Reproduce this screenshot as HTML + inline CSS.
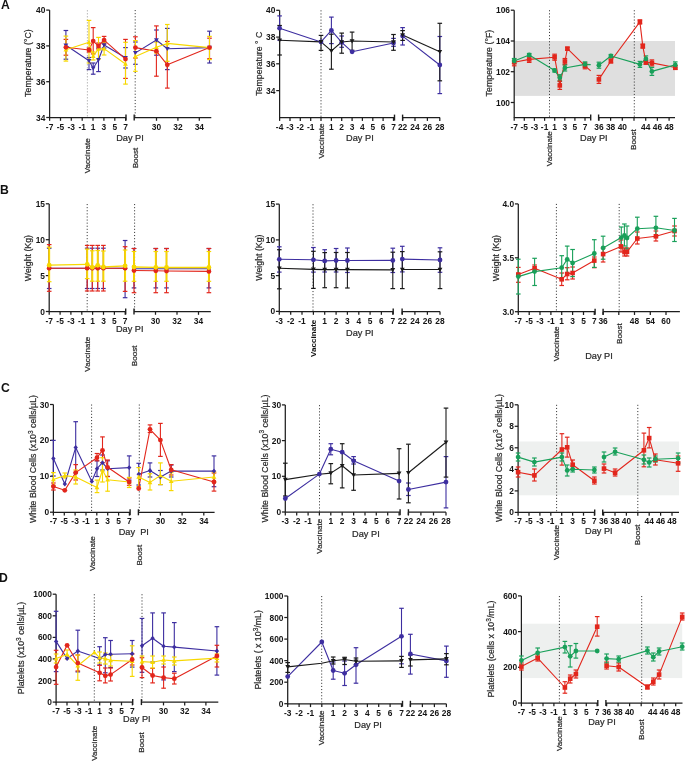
<!DOCTYPE html>
<html><head><meta charset="utf-8"><style>
html,body{margin:0;padding:0;background:#fff;}
body{width:685px;height:761px;overflow:hidden;}
svg{display:block;font-family:"Liberation Sans",sans-serif;will-change:transform;}
.ax{stroke:#1e1e1e;stroke-width:1.25;}
.axb{stroke:#1e1e1e;stroke-width:1.4;}
.tk{font-size:8.4px;font-weight:bold;fill:#151515;}
.vd{stroke:#3a3a3a;stroke-width:1.0;stroke-dasharray:1.1 2.0;}
.lb{stroke:#2a2a2a;stroke-width:0.22px;}
.vdl{stroke:#aaa;stroke-width:0.8;stroke-dasharray:1.5 1.5;}
</style></head><body>
<svg width="685" height="761" viewBox="0 0 685 761">
<rect width="685" height="761" fill="#fff"/>
<text x="0.9" y="8.8" style="font-size:12.2px;font-weight:bold;fill:#111">A</text>
<line x1="87.4" y1="10" x2="87.4" y2="117.5" class="vdl"/>
<line x1="135.2" y1="10" x2="135.2" y2="117.5" class="vd"/>
<line x1="49.6" y1="10.1" x2="49.6" y2="118.1" class="ax"/>
<line x1="46.2" y1="10.1" x2="49.6" y2="10.1" class="ax"/>
<text x="45.4" y="13.1" class="tk" text-anchor="end">40</text>
<line x1="46.2" y1="45.9" x2="49.6" y2="45.9" class="ax"/>
<text x="45.4" y="48.9" class="tk" text-anchor="end">38</text>
<line x1="46.2" y1="81.7" x2="49.6" y2="81.7" class="ax"/>
<text x="45.4" y="84.7" class="tk" text-anchor="end">36</text>
<line x1="46.2" y1="117.5" x2="49.6" y2="117.5" class="ax"/>
<text x="45.4" y="120.5" class="tk" text-anchor="end">34</text>
<line x1="49.6" y1="117.5" x2="126" y2="117.5" class="ax"/>
<line x1="49.6" y1="117.5" x2="49.6" y2="120.8" class="ax"/>
<text x="49.6" y="129.5" class="tk" text-anchor="middle">-7</text>
<line x1="60.5" y1="117.5" x2="60.5" y2="120.8" class="ax"/>
<text x="60.5" y="129.5" class="tk" text-anchor="middle">-5</text>
<line x1="71.3" y1="117.5" x2="71.3" y2="120.8" class="ax"/>
<text x="71.3" y="129.5" class="tk" text-anchor="middle">-3</text>
<line x1="82.2" y1="117.5" x2="82.2" y2="120.8" class="ax"/>
<text x="82.2" y="129.5" class="tk" text-anchor="middle">-1</text>
<line x1="93" y1="117.5" x2="93" y2="120.8" class="ax"/>
<text x="93" y="129.5" class="tk" text-anchor="middle">1</text>
<line x1="103.9" y1="117.5" x2="103.9" y2="120.8" class="ax"/>
<text x="103.9" y="129.5" class="tk" text-anchor="middle">3</text>
<line x1="114.8" y1="117.5" x2="114.8" y2="120.8" class="ax"/>
<text x="114.8" y="129.5" class="tk" text-anchor="middle">5</text>
<line x1="125.6" y1="117.5" x2="125.6" y2="120.8" class="ax"/>
<text x="125.6" y="129.5" class="tk" text-anchor="middle">7</text>
<line x1="126" y1="114.5" x2="126" y2="120.5" class="axb"/>
<line x1="134.2" y1="117.5" x2="211.3" y2="117.5" class="ax"/>
<line x1="156.5" y1="117.5" x2="156.5" y2="120.8" class="ax"/>
<text x="156.5" y="129.5" class="tk" text-anchor="middle">30</text>
<line x1="177.9" y1="117.5" x2="177.9" y2="120.8" class="ax"/>
<text x="177.9" y="129.5" class="tk" text-anchor="middle">32</text>
<line x1="199.3" y1="117.5" x2="199.3" y2="120.8" class="ax"/>
<text x="199.3" y="129.5" class="tk" text-anchor="middle">34</text>
<line x1="134.2" y1="114.5" x2="134.2" y2="120.5" class="axb"/>
<text class="lb" transform="translate(31.4,63.1) rotate(-90)" text-anchor="middle" style="font-size:8.8px;font-weight:normal;fill:#2a2a2a">Temperature (°C)</text>
<text class="lb" transform="translate(90.3,155.8) rotate(-90)" text-anchor="middle" style="font-size:8.1px;font-weight:normal;fill:#2a2a2a">Vaccinate</text>
<text class="lb" transform="translate(137.7,158) rotate(-90)" text-anchor="middle" style="font-size:8.1px;font-weight:normal;fill:#2a2a2a">Boost</text>
<text class="lb" x="130" y="141.1" text-anchor="middle" style="font-size:9.2px;font-weight:normal;fill:#2a2a2a">Day PI</text>
<line x1="321" y1="10.3" x2="321" y2="117.6" class="vd"/>
<line x1="279.6" y1="10.3" x2="279.6" y2="118.2" class="ax"/>
<line x1="276.2" y1="10.3" x2="279.6" y2="10.3" class="ax"/>
<text x="275.4" y="13.3" class="tk" text-anchor="end">40</text>
<line x1="276.2" y1="37.1" x2="279.6" y2="37.1" class="ax"/>
<text x="275.4" y="40.1" class="tk" text-anchor="end">38</text>
<line x1="276.2" y1="63.8" x2="279.6" y2="63.8" class="ax"/>
<text x="275.4" y="66.8" class="tk" text-anchor="end">36</text>
<line x1="276.2" y1="90.6" x2="279.6" y2="90.6" class="ax"/>
<text x="275.4" y="93.6" class="tk" text-anchor="end">34</text>
<line x1="279.6" y1="117.6" x2="394.5" y2="117.6" class="ax"/>
<line x1="279.6" y1="117.6" x2="279.6" y2="120.9" class="ax"/>
<text x="279.6" y="129.6" class="tk" text-anchor="middle">-4</text>
<line x1="290" y1="117.6" x2="290" y2="120.9" class="ax"/>
<text x="290" y="129.6" class="tk" text-anchor="middle">-3</text>
<line x1="300.3" y1="117.6" x2="300.3" y2="120.9" class="ax"/>
<text x="300.3" y="129.6" class="tk" text-anchor="middle">-2</text>
<line x1="310.7" y1="117.6" x2="310.7" y2="120.9" class="ax"/>
<text x="310.7" y="129.6" class="tk" text-anchor="middle">-1</text>
<line x1="321" y1="117.6" x2="321" y2="120.9" class="ax"/>
<line x1="331.4" y1="117.6" x2="331.4" y2="120.9" class="ax"/>
<text x="331.4" y="129.6" class="tk" text-anchor="middle">1</text>
<line x1="341.7" y1="117.6" x2="341.7" y2="120.9" class="ax"/>
<text x="341.7" y="129.6" class="tk" text-anchor="middle">2</text>
<line x1="352.1" y1="117.6" x2="352.1" y2="120.9" class="ax"/>
<text x="352.1" y="129.6" class="tk" text-anchor="middle">3</text>
<line x1="362.4" y1="117.6" x2="362.4" y2="120.9" class="ax"/>
<text x="362.4" y="129.6" class="tk" text-anchor="middle">4</text>
<line x1="372.8" y1="117.6" x2="372.8" y2="120.9" class="ax"/>
<text x="372.8" y="129.6" class="tk" text-anchor="middle">5</text>
<line x1="383.1" y1="117.6" x2="383.1" y2="120.9" class="ax"/>
<text x="383.1" y="129.6" class="tk" text-anchor="middle">6</text>
<line x1="393.5" y1="117.6" x2="393.5" y2="120.9" class="ax"/>
<text x="393.5" y="129.6" class="tk" text-anchor="middle">7</text>
<line x1="394.5" y1="114.6" x2="394.5" y2="120.6" class="axb"/>
<line x1="402.6" y1="117.6" x2="440" y2="117.6" class="ax"/>
<line x1="402.6" y1="117.6" x2="402.6" y2="120.9" class="ax"/>
<text x="402.6" y="129.6" class="tk" text-anchor="middle">22</text>
<line x1="415" y1="117.6" x2="415" y2="120.9" class="ax"/>
<text x="415" y="129.6" class="tk" text-anchor="middle">24</text>
<line x1="427.4" y1="117.6" x2="427.4" y2="120.9" class="ax"/>
<text x="427.4" y="129.6" class="tk" text-anchor="middle">26</text>
<line x1="439.8" y1="117.6" x2="439.8" y2="120.9" class="ax"/>
<text x="439.8" y="129.6" class="tk" text-anchor="middle">28</text>
<line x1="402.6" y1="114.6" x2="402.6" y2="120.6" class="axb"/>
<text class="lb" transform="translate(261.9,63.7) rotate(-90)" text-anchor="middle" style="font-size:8.8px;font-weight:normal;fill:#2a2a2a">Temperature ° C</text>
<text class="lb" transform="translate(323.6,141) rotate(-90)" text-anchor="middle" style="font-size:8.1px;font-weight:normal;fill:#2a2a2a">Vaccinate</text>
<text class="lb" x="359.9" y="141.4" text-anchor="middle" style="font-size:9.2px;font-weight:normal;fill:#2a2a2a">Day PI</text>
<rect x="514.2" y="41" width="160.8" height="54.9" fill="#dfdfdf"/>
<line x1="549.5" y1="10.2" x2="549.5" y2="117.5" class="vd"/>
<line x1="634.3" y1="10.2" x2="634.3" y2="117.5" class="vd"/>
<line x1="514.2" y1="10.2" x2="514.2" y2="118.1" class="ax"/>
<line x1="510.8" y1="10.2" x2="514.2" y2="10.2" class="ax"/>
<text x="510" y="13.2" class="tk" text-anchor="end">106</text>
<line x1="510.8" y1="41" x2="514.2" y2="41" class="ax"/>
<text x="510" y="44" class="tk" text-anchor="end">104</text>
<line x1="510.8" y1="71.7" x2="514.2" y2="71.7" class="ax"/>
<text x="510" y="74.7" class="tk" text-anchor="end">102</text>
<line x1="510.8" y1="102.5" x2="514.2" y2="102.5" class="ax"/>
<text x="510" y="105.5" class="tk" text-anchor="end">100</text>
<line x1="514.2" y1="117.5" x2="590.7" y2="117.5" class="ax"/>
<line x1="514.2" y1="117.5" x2="514.2" y2="120.8" class="ax"/>
<text x="514.2" y="129.5" class="tk" text-anchor="middle">-7</text>
<line x1="524.3" y1="117.5" x2="524.3" y2="120.8" class="ax"/>
<text x="524.3" y="129.5" class="tk" text-anchor="middle">-5</text>
<line x1="534.4" y1="117.5" x2="534.4" y2="120.8" class="ax"/>
<text x="534.4" y="129.5" class="tk" text-anchor="middle">-3</text>
<line x1="544.6" y1="117.5" x2="544.6" y2="120.8" class="ax"/>
<text x="544.6" y="129.5" class="tk" text-anchor="middle">-1</text>
<line x1="554.7" y1="117.5" x2="554.7" y2="120.8" class="ax"/>
<text x="554.7" y="129.5" class="tk" text-anchor="middle">1</text>
<line x1="564.8" y1="117.5" x2="564.8" y2="120.8" class="ax"/>
<text x="564.8" y="129.5" class="tk" text-anchor="middle">3</text>
<line x1="574.9" y1="117.5" x2="574.9" y2="120.8" class="ax"/>
<text x="574.9" y="129.5" class="tk" text-anchor="middle">5</text>
<line x1="585" y1="117.5" x2="585" y2="120.8" class="ax"/>
<text x="585" y="129.5" class="tk" text-anchor="middle">7</text>
<line x1="590.7" y1="114.5" x2="590.7" y2="120.5" class="axb"/>
<line x1="598.6" y1="117.5" x2="675" y2="117.5" class="ax"/>
<line x1="598.9" y1="117.5" x2="598.9" y2="120.8" class="ax"/>
<text x="598.9" y="129.5" class="tk" text-anchor="middle">36</text>
<line x1="610.6" y1="117.5" x2="610.6" y2="120.8" class="ax"/>
<text x="610.6" y="129.5" class="tk" text-anchor="middle">38</text>
<line x1="622.3" y1="117.5" x2="622.3" y2="120.8" class="ax"/>
<text x="622.3" y="129.5" class="tk" text-anchor="middle">40</text>
<line x1="634" y1="117.5" x2="634" y2="120.8" class="ax"/>
<line x1="645.7" y1="117.5" x2="645.7" y2="120.8" class="ax"/>
<text x="645.7" y="129.5" class="tk" text-anchor="middle">44</text>
<line x1="657.4" y1="117.5" x2="657.4" y2="120.8" class="ax"/>
<text x="657.4" y="129.5" class="tk" text-anchor="middle">46</text>
<line x1="669.1" y1="117.5" x2="669.1" y2="120.8" class="ax"/>
<text x="669.1" y="129.5" class="tk" text-anchor="middle">48</text>
<line x1="598.6" y1="114.5" x2="598.6" y2="120.5" class="axb"/>
<text class="lb" transform="translate(491.9,63.1) rotate(-90)" text-anchor="middle" style="font-size:8.8px;font-weight:normal;fill:#2a2a2a">Temperature (°F)</text>
<text class="lb" transform="translate(552.1,148.7) rotate(-90)" text-anchor="middle" style="font-size:8.1px;font-weight:normal;fill:#2a2a2a">Vaccinate</text>
<text class="lb" transform="translate(636.3,139.6) rotate(-90)" text-anchor="middle" style="font-size:8.1px;font-weight:normal;fill:#2a2a2a">Boost</text>
<text class="lb" x="593.8" y="141.3" text-anchor="middle" style="font-size:9.2px;font-weight:normal;fill:#2a2a2a">Day PI</text>
<text x="0.1" y="193.8" style="font-size:12.2px;font-weight:bold;fill:#111">B</text>
<line x1="87.2" y1="204" x2="87.2" y2="311.5" class="vd"/>
<line x1="134.6" y1="204" x2="134.6" y2="311.5" class="vd"/>
<line x1="49.2" y1="203.9" x2="49.2" y2="312.1" class="ax"/>
<line x1="45.8" y1="203.8" x2="49.2" y2="203.8" class="ax"/>
<text x="45" y="206.8" class="tk" text-anchor="end">15</text>
<line x1="45.8" y1="239.7" x2="49.2" y2="239.7" class="ax"/>
<text x="45" y="242.7" class="tk" text-anchor="end">10</text>
<line x1="45.8" y1="275.6" x2="49.2" y2="275.6" class="ax"/>
<text x="45" y="278.6" class="tk" text-anchor="end">5</text>
<line x1="45.8" y1="311.5" x2="49.2" y2="311.5" class="ax"/>
<text x="45" y="314.5" class="tk" text-anchor="end">0</text>
<line x1="49.2" y1="311.5" x2="125.7" y2="311.5" class="ax"/>
<line x1="49.2" y1="311.5" x2="49.2" y2="314.8" class="ax"/>
<text x="49.2" y="323.5" class="tk" text-anchor="middle">-7</text>
<line x1="60.1" y1="311.5" x2="60.1" y2="314.8" class="ax"/>
<text x="60.1" y="323.5" class="tk" text-anchor="middle">-5</text>
<line x1="70.9" y1="311.5" x2="70.9" y2="314.8" class="ax"/>
<text x="70.9" y="323.5" class="tk" text-anchor="middle">-3</text>
<line x1="81.8" y1="311.5" x2="81.8" y2="314.8" class="ax"/>
<text x="81.8" y="323.5" class="tk" text-anchor="middle">-1</text>
<line x1="92.6" y1="311.5" x2="92.6" y2="314.8" class="ax"/>
<text x="92.6" y="323.5" class="tk" text-anchor="middle">1</text>
<line x1="103.5" y1="311.5" x2="103.5" y2="314.8" class="ax"/>
<text x="103.5" y="323.5" class="tk" text-anchor="middle">3</text>
<line x1="114.4" y1="311.5" x2="114.4" y2="314.8" class="ax"/>
<text x="114.4" y="323.5" class="tk" text-anchor="middle">5</text>
<line x1="125.2" y1="311.5" x2="125.2" y2="314.8" class="ax"/>
<text x="125.2" y="323.5" class="tk" text-anchor="middle">7</text>
<line x1="125.7" y1="308.5" x2="125.7" y2="314.5" class="axb"/>
<line x1="134" y1="311.5" x2="210.8" y2="311.5" class="ax"/>
<line x1="155.5" y1="311.5" x2="155.5" y2="314.8" class="ax"/>
<text x="155.5" y="323.5" class="tk" text-anchor="middle">30</text>
<line x1="177" y1="311.5" x2="177" y2="314.8" class="ax"/>
<text x="177" y="323.5" class="tk" text-anchor="middle">32</text>
<line x1="198.5" y1="311.5" x2="198.5" y2="314.8" class="ax"/>
<text x="198.5" y="323.5" class="tk" text-anchor="middle">34</text>
<line x1="134" y1="308.5" x2="134" y2="314.5" class="axb"/>
<text class="lb" transform="translate(31.4,258.1) rotate(-90)" text-anchor="middle" style="font-size:8.8px;font-weight:normal;fill:#2a2a2a">Weight (Kg)</text>
<text class="lb" transform="translate(89.7,354.2) rotate(-90)" text-anchor="middle" style="font-size:8.1px;font-weight:normal;fill:#2a2a2a">Vaccinate</text>
<text class="lb" transform="translate(137,355.8) rotate(-90)" text-anchor="middle" style="font-size:8.1px;font-weight:normal;fill:#2a2a2a">Boost</text>
<text class="lb" x="129.7" y="332.2" text-anchor="middle" style="font-size:9.2px;font-weight:normal;fill:#2a2a2a">Day PI</text>
<line x1="313" y1="204.2" x2="313" y2="311.5" class="vd"/>
<line x1="279.3" y1="204.2" x2="279.3" y2="312.1" class="ax"/>
<line x1="275.9" y1="204.1" x2="279.3" y2="204.1" class="ax"/>
<text x="275.1" y="207.1" class="tk" text-anchor="end">15</text>
<line x1="275.9" y1="239.9" x2="279.3" y2="239.9" class="ax"/>
<text x="275.1" y="242.9" class="tk" text-anchor="end">10</text>
<line x1="275.9" y1="275.6" x2="279.3" y2="275.6" class="ax"/>
<text x="275.1" y="278.6" class="tk" text-anchor="end">5</text>
<line x1="275.9" y1="311.4" x2="279.3" y2="311.4" class="ax"/>
<text x="275.1" y="314.4" class="tk" text-anchor="end">0</text>
<line x1="279.3" y1="311.5" x2="393.2" y2="311.5" class="ax"/>
<line x1="279.3" y1="311.5" x2="279.3" y2="314.8" class="ax"/>
<text x="279.3" y="323.5" class="tk" text-anchor="middle">-3</text>
<line x1="290.7" y1="311.5" x2="290.7" y2="314.8" class="ax"/>
<text x="290.7" y="323.5" class="tk" text-anchor="middle">-2</text>
<line x1="302" y1="311.5" x2="302" y2="314.8" class="ax"/>
<text x="302" y="323.5" class="tk" text-anchor="middle">-1</text>
<line x1="313.4" y1="311.5" x2="313.4" y2="314.8" class="ax"/>
<line x1="324.7" y1="311.5" x2="324.7" y2="314.8" class="ax"/>
<text x="324.7" y="323.5" class="tk" text-anchor="middle">1</text>
<line x1="336.1" y1="311.5" x2="336.1" y2="314.8" class="ax"/>
<text x="336.1" y="323.5" class="tk" text-anchor="middle">2</text>
<line x1="347.4" y1="311.5" x2="347.4" y2="314.8" class="ax"/>
<text x="347.4" y="323.5" class="tk" text-anchor="middle">3</text>
<line x1="358.8" y1="311.5" x2="358.8" y2="314.8" class="ax"/>
<text x="358.8" y="323.5" class="tk" text-anchor="middle">4</text>
<line x1="370.1" y1="311.5" x2="370.1" y2="314.8" class="ax"/>
<text x="370.1" y="323.5" class="tk" text-anchor="middle">5</text>
<line x1="381.4" y1="311.5" x2="381.4" y2="314.8" class="ax"/>
<text x="381.4" y="323.5" class="tk" text-anchor="middle">6</text>
<line x1="392.8" y1="311.5" x2="392.8" y2="314.8" class="ax"/>
<text x="392.8" y="323.5" class="tk" text-anchor="middle">7</text>
<line x1="393.2" y1="308.5" x2="393.2" y2="314.5" class="axb"/>
<line x1="402.1" y1="311.5" x2="440" y2="311.5" class="ax"/>
<line x1="402.3" y1="311.5" x2="402.3" y2="314.8" class="ax"/>
<text x="402.3" y="323.5" class="tk" text-anchor="middle">22</text>
<line x1="414.9" y1="311.5" x2="414.9" y2="314.8" class="ax"/>
<text x="414.9" y="323.5" class="tk" text-anchor="middle">24</text>
<line x1="427.4" y1="311.5" x2="427.4" y2="314.8" class="ax"/>
<text x="427.4" y="323.5" class="tk" text-anchor="middle">26</text>
<line x1="440" y1="311.5" x2="440" y2="314.8" class="ax"/>
<text x="440" y="323.5" class="tk" text-anchor="middle">28</text>
<line x1="402.1" y1="308.5" x2="402.1" y2="314.5" class="axb"/>
<text class="lb" transform="translate(261.9,257.6) rotate(-90)" text-anchor="middle" style="font-size:8.8px;font-weight:normal;fill:#2a2a2a">Weight (Kg)</text>
<text transform="translate(315.7,338.3) rotate(-90)" text-anchor="middle" style="font-size:8.1px;font-weight:bold;fill:#111">Vaccinate</text>
<text class="lb" x="359.8" y="335.5" text-anchor="middle" style="font-size:9.2px;font-weight:normal;fill:#2a2a2a">Day PI</text>
<line x1="556.4" y1="203.9" x2="556.4" y2="311.7" class="vd"/>
<line x1="619.2" y1="203.9" x2="619.2" y2="311.7" class="vd"/>
<line x1="518.3" y1="203.9" x2="518.3" y2="312.3" class="ax"/>
<line x1="514.9" y1="203.9" x2="518.3" y2="203.9" class="ax"/>
<text x="514.1" y="206.9" class="tk" text-anchor="end">4.0</text>
<line x1="514.9" y1="257.8" x2="518.3" y2="257.8" class="ax"/>
<text x="514.1" y="260.8" class="tk" text-anchor="end">3.5</text>
<line x1="514.9" y1="311.7" x2="518.3" y2="311.7" class="ax"/>
<text x="514.1" y="314.7" class="tk" text-anchor="end">3.0</text>
<line x1="518.3" y1="311.7" x2="595.1" y2="311.7" class="ax"/>
<line x1="518.3" y1="311.7" x2="518.3" y2="315" class="ax"/>
<text x="518.3" y="323.7" class="tk" text-anchor="middle">-7</text>
<line x1="529.2" y1="311.7" x2="529.2" y2="315" class="ax"/>
<text x="529.2" y="323.7" class="tk" text-anchor="middle">-5</text>
<line x1="540" y1="311.7" x2="540" y2="315" class="ax"/>
<text x="540" y="323.7" class="tk" text-anchor="middle">-3</text>
<line x1="550.9" y1="311.7" x2="550.9" y2="315" class="ax"/>
<text x="550.9" y="323.7" class="tk" text-anchor="middle">-1</text>
<line x1="561.7" y1="311.7" x2="561.7" y2="315" class="ax"/>
<text x="561.7" y="323.7" class="tk" text-anchor="middle">1</text>
<line x1="572.6" y1="311.7" x2="572.6" y2="315" class="ax"/>
<text x="572.6" y="323.7" class="tk" text-anchor="middle">3</text>
<line x1="583.5" y1="311.7" x2="583.5" y2="315" class="ax"/>
<text x="583.5" y="323.7" class="tk" text-anchor="middle">5</text>
<line x1="594.3" y1="311.7" x2="594.3" y2="315" class="ax"/>
<text x="594.3" y="323.7" class="tk" text-anchor="middle">7</text>
<line x1="595.1" y1="308.7" x2="595.1" y2="314.7" class="axb"/>
<line x1="603.1" y1="311.7" x2="679.9" y2="311.7" class="ax"/>
<line x1="603.1" y1="311.7" x2="603.1" y2="315" class="ax"/>
<text x="603.1" y="323.7" class="tk" text-anchor="middle">36</text>
<line x1="618.8" y1="311.7" x2="618.8" y2="315" class="ax"/>
<line x1="634.5" y1="311.7" x2="634.5" y2="315" class="ax"/>
<text x="634.5" y="323.7" class="tk" text-anchor="middle">48</text>
<line x1="650.3" y1="311.7" x2="650.3" y2="315" class="ax"/>
<text x="650.3" y="323.7" class="tk" text-anchor="middle">54</text>
<line x1="666" y1="311.7" x2="666" y2="315" class="ax"/>
<text x="666" y="323.7" class="tk" text-anchor="middle">60</text>
<line x1="603.1" y1="308.7" x2="603.1" y2="314.7" class="axb"/>
<text class="lb" transform="translate(499,258.1) rotate(-90)" text-anchor="middle" style="font-size:8.8px;font-weight:normal;fill:#2a2a2a">Weight (Kg)</text>
<text class="lb" transform="translate(559,343.9) rotate(-90)" text-anchor="middle" style="font-size:8.1px;font-weight:normal;fill:#2a2a2a">Vaccinate</text>
<text class="lb" transform="translate(622,333.6) rotate(-90)" text-anchor="middle" style="font-size:8.1px;font-weight:normal;fill:#2a2a2a">Boost</text>
<text class="lb" x="599" y="359.4" text-anchor="middle" style="font-size:9.2px;font-weight:normal;fill:#2a2a2a">Day PI</text>
<text x="1.1" y="391.8" style="font-size:12.2px;font-weight:bold;fill:#111">C</text>
<line x1="91.6" y1="404.5" x2="91.6" y2="512.3" class="vd"/>
<line x1="139.3" y1="404.5" x2="139.3" y2="512.3" class="vd"/>
<line x1="53.4" y1="404.5" x2="53.4" y2="512.9" class="ax"/>
<line x1="50" y1="404.5" x2="53.4" y2="404.5" class="ax"/>
<text x="49.2" y="407.5" class="tk" text-anchor="end">30</text>
<line x1="50" y1="440.4" x2="53.4" y2="440.4" class="ax"/>
<text x="49.2" y="443.4" class="tk" text-anchor="end">20</text>
<line x1="50" y1="476.3" x2="53.4" y2="476.3" class="ax"/>
<text x="49.2" y="479.3" class="tk" text-anchor="end">10</text>
<line x1="50" y1="512.2" x2="53.4" y2="512.2" class="ax"/>
<text x="49.2" y="515.2" class="tk" text-anchor="end">0</text>
<line x1="53.4" y1="512.3" x2="130.1" y2="512.3" class="ax"/>
<line x1="53.4" y1="512.3" x2="53.4" y2="515.6" class="ax"/>
<text x="53.4" y="524.3" class="tk" text-anchor="middle">-7</text>
<line x1="64.3" y1="512.3" x2="64.3" y2="515.6" class="ax"/>
<text x="64.3" y="524.3" class="tk" text-anchor="middle">-5</text>
<line x1="75.1" y1="512.3" x2="75.1" y2="515.6" class="ax"/>
<text x="75.1" y="524.3" class="tk" text-anchor="middle">-3</text>
<line x1="86" y1="512.3" x2="86" y2="515.6" class="ax"/>
<text x="86" y="524.3" class="tk" text-anchor="middle">-1</text>
<line x1="96.8" y1="512.3" x2="96.8" y2="515.6" class="ax"/>
<text x="96.8" y="524.3" class="tk" text-anchor="middle">1</text>
<line x1="107.7" y1="512.3" x2="107.7" y2="515.6" class="ax"/>
<text x="107.7" y="524.3" class="tk" text-anchor="middle">3</text>
<line x1="118.6" y1="512.3" x2="118.6" y2="515.6" class="ax"/>
<text x="118.6" y="524.3" class="tk" text-anchor="middle">5</text>
<line x1="129.4" y1="512.3" x2="129.4" y2="515.6" class="ax"/>
<text x="129.4" y="524.3" class="tk" text-anchor="middle">7</text>
<line x1="130.1" y1="509.3" x2="130.1" y2="515.3" class="axb"/>
<line x1="138.4" y1="512.3" x2="214.6" y2="512.3" class="ax"/>
<line x1="160.4" y1="512.3" x2="160.4" y2="515.6" class="ax"/>
<text x="160.4" y="524.3" class="tk" text-anchor="middle">30</text>
<line x1="182.1" y1="512.3" x2="182.1" y2="515.6" class="ax"/>
<text x="182.1" y="524.3" class="tk" text-anchor="middle">32</text>
<line x1="203.8" y1="512.3" x2="203.8" y2="515.6" class="ax"/>
<text x="203.8" y="524.3" class="tk" text-anchor="middle">34</text>
<line x1="138.4" y1="509.3" x2="138.4" y2="515.3" class="axb"/>
<text class="lb" transform="translate(36.3,459) rotate(-90)" text-anchor="middle" style="font-size:8.8px;font-weight:normal;fill:#2a2a2a">White Blood Cells (x10<tspan dy="-3.6" style="font-size:6.6px">3</tspan><tspan dy="3.6"> cells/µL)</tspan></text>
<text class="lb" transform="translate(94.7,553.6) rotate(-90)" text-anchor="middle" style="font-size:8.1px;font-weight:normal;fill:#2a2a2a">Vaccinate</text>
<text class="lb" transform="translate(142.1,555.2) rotate(-90)" text-anchor="middle" style="font-size:8.1px;font-weight:normal;fill:#2a2a2a">Boost</text>
<text class="lb" x="133.8" y="535.4" text-anchor="middle" style="font-size:9.2px;font-weight:normal;fill:#2a2a2a">Day&#160;&#160;PI</text>
<line x1="319.5" y1="405.1" x2="319.5" y2="512.2" class="vd"/>
<line x1="285.3" y1="405.1" x2="285.3" y2="512.8" class="ax"/>
<line x1="281.9" y1="404.9" x2="285.3" y2="404.9" class="ax"/>
<text x="281.1" y="407.9" class="tk" text-anchor="end">30</text>
<line x1="281.9" y1="440.6" x2="285.3" y2="440.6" class="ax"/>
<text x="281.1" y="443.6" class="tk" text-anchor="end">20</text>
<line x1="281.9" y1="476.3" x2="285.3" y2="476.3" class="ax"/>
<text x="281.1" y="479.3" class="tk" text-anchor="end">10</text>
<line x1="281.9" y1="512" x2="285.3" y2="512" class="ax"/>
<text x="281.1" y="515" class="tk" text-anchor="end">0</text>
<line x1="285.3" y1="512.2" x2="400.1" y2="512.2" class="ax"/>
<line x1="285.3" y1="512.2" x2="285.3" y2="515.5" class="ax"/>
<text x="285.3" y="524.2" class="tk" text-anchor="middle">-3</text>
<line x1="296.7" y1="512.2" x2="296.7" y2="515.5" class="ax"/>
<text x="296.7" y="524.2" class="tk" text-anchor="middle">-2</text>
<line x1="308.1" y1="512.2" x2="308.1" y2="515.5" class="ax"/>
<text x="308.1" y="524.2" class="tk" text-anchor="middle">-1</text>
<line x1="319.4" y1="512.2" x2="319.4" y2="515.5" class="ax"/>
<line x1="330.8" y1="512.2" x2="330.8" y2="515.5" class="ax"/>
<text x="330.8" y="524.2" class="tk" text-anchor="middle">1</text>
<line x1="342.2" y1="512.2" x2="342.2" y2="515.5" class="ax"/>
<text x="342.2" y="524.2" class="tk" text-anchor="middle">2</text>
<line x1="353.6" y1="512.2" x2="353.6" y2="515.5" class="ax"/>
<text x="353.6" y="524.2" class="tk" text-anchor="middle">3</text>
<line x1="365" y1="512.2" x2="365" y2="515.5" class="ax"/>
<text x="365" y="524.2" class="tk" text-anchor="middle">4</text>
<line x1="376.3" y1="512.2" x2="376.3" y2="515.5" class="ax"/>
<text x="376.3" y="524.2" class="tk" text-anchor="middle">5</text>
<line x1="387.7" y1="512.2" x2="387.7" y2="515.5" class="ax"/>
<text x="387.7" y="524.2" class="tk" text-anchor="middle">6</text>
<line x1="399.1" y1="512.2" x2="399.1" y2="515.5" class="ax"/>
<text x="399.1" y="524.2" class="tk" text-anchor="middle">7</text>
<line x1="400.1" y1="509.2" x2="400.1" y2="515.2" class="axb"/>
<line x1="408.4" y1="512.2" x2="446" y2="512.2" class="ax"/>
<line x1="408.4" y1="512.2" x2="408.4" y2="515.5" class="ax"/>
<text x="408.4" y="524.2" class="tk" text-anchor="middle">22</text>
<line x1="420.9" y1="512.2" x2="420.9" y2="515.5" class="ax"/>
<text x="420.9" y="524.2" class="tk" text-anchor="middle">24</text>
<line x1="433.5" y1="512.2" x2="433.5" y2="515.5" class="ax"/>
<text x="433.5" y="524.2" class="tk" text-anchor="middle">26</text>
<line x1="446" y1="512.2" x2="446" y2="515.5" class="ax"/>
<text x="446" y="524.2" class="tk" text-anchor="middle">28</text>
<line x1="408.4" y1="509.2" x2="408.4" y2="515.2" class="axb"/>
<text class="lb" transform="translate(267.6,458.5) rotate(-90)" text-anchor="middle" style="font-size:8.8px;font-weight:normal;fill:#2a2a2a">White Blood Cells (x10<tspan dy="-3.6" style="font-size:6.6px">3</tspan><tspan dy="3.6"> cells/µL)</tspan></text>
<text class="lb" transform="translate(321.7,536.2) rotate(-90)" text-anchor="middle" style="font-size:8.1px;font-weight:normal;fill:#2a2a2a">Vaccinate</text>
<text class="lb" x="365.9" y="536.5" text-anchor="middle" style="font-size:9.2px;font-weight:normal;fill:#2a2a2a">Day PI</text>
<rect x="518.1" y="441.5" width="160.9" height="53.8" fill="#eef0ef"/>
<line x1="556.6" y1="404.8" x2="556.6" y2="512.4" class="vd"/>
<line x1="637.8" y1="404.8" x2="637.8" y2="512.4" class="vd"/>
<line x1="518.1" y1="404.8" x2="518.1" y2="513" class="ax"/>
<line x1="514.7" y1="404.8" x2="518.1" y2="404.8" class="ax"/>
<text x="513.9" y="407.8" class="tk" text-anchor="end">10</text>
<line x1="514.7" y1="426.3" x2="518.1" y2="426.3" class="ax"/>
<text x="513.9" y="429.3" class="tk" text-anchor="end">8</text>
<line x1="514.7" y1="447.8" x2="518.1" y2="447.8" class="ax"/>
<text x="513.9" y="450.8" class="tk" text-anchor="end">6</text>
<line x1="514.7" y1="469.4" x2="518.1" y2="469.4" class="ax"/>
<text x="513.9" y="472.4" class="tk" text-anchor="end">4</text>
<line x1="514.7" y1="490.9" x2="518.1" y2="490.9" class="ax"/>
<text x="513.9" y="493.9" class="tk" text-anchor="end">2</text>
<line x1="514.7" y1="512.4" x2="518.1" y2="512.4" class="ax"/>
<text x="513.9" y="515.4" class="tk" text-anchor="end">0</text>
<line x1="518.1" y1="512.4" x2="594.7" y2="512.4" class="ax"/>
<line x1="518.1" y1="512.4" x2="518.1" y2="515.7" class="ax"/>
<text x="518.1" y="524.4" class="tk" text-anchor="middle">-7</text>
<line x1="529" y1="512.4" x2="529" y2="515.7" class="ax"/>
<text x="529" y="524.4" class="tk" text-anchor="middle">-5</text>
<line x1="539.9" y1="512.4" x2="539.9" y2="515.7" class="ax"/>
<text x="539.9" y="524.4" class="tk" text-anchor="middle">-3</text>
<line x1="550.8" y1="512.4" x2="550.8" y2="515.7" class="ax"/>
<text x="550.8" y="524.4" class="tk" text-anchor="middle">-1</text>
<line x1="561.7" y1="512.4" x2="561.7" y2="515.7" class="ax"/>
<text x="561.7" y="524.4" class="tk" text-anchor="middle">1</text>
<line x1="572.6" y1="512.4" x2="572.6" y2="515.7" class="ax"/>
<text x="572.6" y="524.4" class="tk" text-anchor="middle">3</text>
<line x1="583.5" y1="512.4" x2="583.5" y2="515.7" class="ax"/>
<text x="583.5" y="524.4" class="tk" text-anchor="middle">5</text>
<line x1="594.4" y1="512.4" x2="594.4" y2="515.7" class="ax"/>
<text x="594.4" y="524.4" class="tk" text-anchor="middle">7</text>
<line x1="594.7" y1="509.4" x2="594.7" y2="515.4" class="axb"/>
<line x1="602.7" y1="512.4" x2="679" y2="512.4" class="ax"/>
<line x1="603.6" y1="512.4" x2="603.6" y2="515.7" class="ax"/>
<text x="603.6" y="524.4" class="tk" text-anchor="middle">36</text>
<line x1="615" y1="512.4" x2="615" y2="515.7" class="ax"/>
<text x="615" y="524.4" class="tk" text-anchor="middle">38</text>
<line x1="626.4" y1="512.4" x2="626.4" y2="515.7" class="ax"/>
<text x="626.4" y="524.4" class="tk" text-anchor="middle">40</text>
<line x1="637.8" y1="512.4" x2="637.8" y2="515.7" class="ax"/>
<line x1="649.2" y1="512.4" x2="649.2" y2="515.7" class="ax"/>
<text x="649.2" y="524.4" class="tk" text-anchor="middle">44</text>
<line x1="660.6" y1="512.4" x2="660.6" y2="515.7" class="ax"/>
<text x="660.6" y="524.4" class="tk" text-anchor="middle">46</text>
<line x1="672" y1="512.4" x2="672" y2="515.7" class="ax"/>
<text x="672" y="524.4" class="tk" text-anchor="middle">48</text>
<line x1="602.7" y1="509.4" x2="602.7" y2="515.4" class="axb"/>
<text class="lb" transform="translate(501.7,458) rotate(-90)" text-anchor="middle" style="font-size:8.8px;font-weight:normal;fill:#2a2a2a">White Blood Cells (x10<tspan dy="-3.6" style="font-size:6.6px">3</tspan><tspan dy="3.6"> cells/µL)</tspan></text>
<text class="lb" transform="translate(559,542.5) rotate(-90)" text-anchor="middle" style="font-size:8.1px;font-weight:normal;fill:#2a2a2a">Vaccinate</text>
<text class="lb" transform="translate(640.4,534.9) rotate(-90)" text-anchor="middle" style="font-size:8.1px;font-weight:normal;fill:#2a2a2a">Boost</text>
<text class="lb" x="598.8" y="533.8" text-anchor="middle" style="font-size:9.2px;font-weight:normal;fill:#2a2a2a">Day PI</text>
<text x="-0.9" y="581.6" style="font-size:12.2px;font-weight:bold;fill:#111">D</text>
<line x1="94.3" y1="594.2" x2="94.3" y2="702.1" class="vd"/>
<line x1="142" y1="594.2" x2="142" y2="702.1" class="vd"/>
<line x1="56.1" y1="594.2" x2="56.1" y2="702.7" class="ax"/>
<line x1="52.7" y1="594.2" x2="56.1" y2="594.2" class="ax"/>
<text x="51.9" y="597.2" class="tk" text-anchor="end">1000</text>
<line x1="52.7" y1="615.8" x2="56.1" y2="615.8" class="ax"/>
<text x="51.9" y="618.8" class="tk" text-anchor="end">800</text>
<line x1="52.7" y1="637.4" x2="56.1" y2="637.4" class="ax"/>
<text x="51.9" y="640.4" class="tk" text-anchor="end">600</text>
<line x1="52.7" y1="658.9" x2="56.1" y2="658.9" class="ax"/>
<text x="51.9" y="661.9" class="tk" text-anchor="end">400</text>
<line x1="52.7" y1="680.5" x2="56.1" y2="680.5" class="ax"/>
<text x="51.9" y="683.5" class="tk" text-anchor="end">200</text>
<line x1="52.7" y1="702.1" x2="56.1" y2="702.1" class="ax"/>
<text x="51.9" y="705.1" class="tk" text-anchor="end">0</text>
<line x1="56.1" y1="702.1" x2="132.7" y2="702.1" class="ax"/>
<line x1="56.1" y1="702.1" x2="56.1" y2="705.4" class="ax"/>
<text x="56.1" y="714.1" class="tk" text-anchor="middle">-7</text>
<line x1="67" y1="702.1" x2="67" y2="705.4" class="ax"/>
<text x="67" y="714.1" class="tk" text-anchor="middle">-5</text>
<line x1="77.9" y1="702.1" x2="77.9" y2="705.4" class="ax"/>
<text x="77.9" y="714.1" class="tk" text-anchor="middle">-3</text>
<line x1="88.8" y1="702.1" x2="88.8" y2="705.4" class="ax"/>
<text x="88.8" y="714.1" class="tk" text-anchor="middle">-1</text>
<line x1="99.7" y1="702.1" x2="99.7" y2="705.4" class="ax"/>
<text x="99.7" y="714.1" class="tk" text-anchor="middle">1</text>
<line x1="110.6" y1="702.1" x2="110.6" y2="705.4" class="ax"/>
<text x="110.6" y="714.1" class="tk" text-anchor="middle">3</text>
<line x1="121.5" y1="702.1" x2="121.5" y2="705.4" class="ax"/>
<text x="121.5" y="714.1" class="tk" text-anchor="middle">5</text>
<line x1="132.4" y1="702.1" x2="132.4" y2="705.4" class="ax"/>
<text x="132.4" y="714.1" class="tk" text-anchor="middle">7</text>
<line x1="132.7" y1="699.1" x2="132.7" y2="705.1" class="axb"/>
<line x1="141.4" y1="702.1" x2="218.3" y2="702.1" class="ax"/>
<line x1="163.5" y1="702.1" x2="163.5" y2="705.4" class="ax"/>
<text x="163.5" y="714.1" class="tk" text-anchor="middle">30</text>
<line x1="184.7" y1="702.1" x2="184.7" y2="705.4" class="ax"/>
<text x="184.7" y="714.1" class="tk" text-anchor="middle">32</text>
<line x1="205.9" y1="702.1" x2="205.9" y2="705.4" class="ax"/>
<text x="205.9" y="714.1" class="tk" text-anchor="middle">34</text>
<line x1="141.4" y1="699.1" x2="141.4" y2="705.1" class="axb"/>
<text class="lb" transform="translate(24.4,648) rotate(-90)" text-anchor="middle" style="font-size:8.8px;font-weight:normal;fill:#2a2a2a">Platelets (x10<tspan dy="-3.6" style="font-size:6.6px">3</tspan><tspan dy="3.6"> cells/µL)</tspan></text>
<text class="lb" transform="translate(96.7,743.3) rotate(-90)" text-anchor="middle" style="font-size:8.1px;font-weight:normal;fill:#2a2a2a">Vaccinate</text>
<text class="lb" transform="translate(144.4,742.5) rotate(-90)" text-anchor="middle" style="font-size:8.1px;font-weight:normal;fill:#2a2a2a">Boost</text>
<text class="lb" x="136.8" y="722.2" text-anchor="middle" style="font-size:9.2px;font-weight:normal;fill:#2a2a2a">Day PI</text>
<line x1="321.7" y1="596" x2="321.7" y2="703.8" class="vd"/>
<line x1="287.7" y1="596" x2="287.7" y2="704.4" class="ax"/>
<line x1="284.3" y1="596" x2="287.7" y2="596" class="ax"/>
<text x="283.5" y="599" class="tk" text-anchor="end">1000</text>
<line x1="284.3" y1="617.5" x2="287.7" y2="617.5" class="ax"/>
<text x="283.5" y="620.5" class="tk" text-anchor="end">800</text>
<line x1="284.3" y1="639.1" x2="287.7" y2="639.1" class="ax"/>
<text x="283.5" y="642.1" class="tk" text-anchor="end">600</text>
<line x1="284.3" y1="660.6" x2="287.7" y2="660.6" class="ax"/>
<text x="283.5" y="663.6" class="tk" text-anchor="end">400</text>
<line x1="284.3" y1="682.2" x2="287.7" y2="682.2" class="ax"/>
<text x="283.5" y="685.2" class="tk" text-anchor="end">200</text>
<line x1="284.3" y1="703.7" x2="287.7" y2="703.7" class="ax"/>
<text x="283.5" y="706.7" class="tk" text-anchor="end">0</text>
<line x1="287.7" y1="703.8" x2="402.5" y2="703.8" class="ax"/>
<line x1="287.7" y1="703.8" x2="287.7" y2="707.1" class="ax"/>
<text x="287.7" y="715.8" class="tk" text-anchor="middle">-3</text>
<line x1="299.1" y1="703.8" x2="299.1" y2="707.1" class="ax"/>
<text x="299.1" y="715.8" class="tk" text-anchor="middle">-2</text>
<line x1="310.5" y1="703.8" x2="310.5" y2="707.1" class="ax"/>
<text x="310.5" y="715.8" class="tk" text-anchor="middle">-1</text>
<line x1="321.8" y1="703.8" x2="321.8" y2="707.1" class="ax"/>
<line x1="333.2" y1="703.8" x2="333.2" y2="707.1" class="ax"/>
<text x="333.2" y="715.8" class="tk" text-anchor="middle">1</text>
<line x1="344.6" y1="703.8" x2="344.6" y2="707.1" class="ax"/>
<text x="344.6" y="715.8" class="tk" text-anchor="middle">2</text>
<line x1="356" y1="703.8" x2="356" y2="707.1" class="ax"/>
<text x="356" y="715.8" class="tk" text-anchor="middle">3</text>
<line x1="367.4" y1="703.8" x2="367.4" y2="707.1" class="ax"/>
<text x="367.4" y="715.8" class="tk" text-anchor="middle">4</text>
<line x1="378.7" y1="703.8" x2="378.7" y2="707.1" class="ax"/>
<text x="378.7" y="715.8" class="tk" text-anchor="middle">5</text>
<line x1="390.1" y1="703.8" x2="390.1" y2="707.1" class="ax"/>
<text x="390.1" y="715.8" class="tk" text-anchor="middle">6</text>
<line x1="401.5" y1="703.8" x2="401.5" y2="707.1" class="ax"/>
<text x="401.5" y="715.8" class="tk" text-anchor="middle">7</text>
<line x1="402.5" y1="700.8" x2="402.5" y2="706.8" class="axb"/>
<line x1="410.4" y1="703.8" x2="446.4" y2="703.8" class="ax"/>
<line x1="410.4" y1="703.8" x2="410.4" y2="707.1" class="ax"/>
<text x="410.4" y="715.8" class="tk" text-anchor="middle">22</text>
<line x1="422.4" y1="703.8" x2="422.4" y2="707.1" class="ax"/>
<text x="422.4" y="715.8" class="tk" text-anchor="middle">24</text>
<line x1="434.4" y1="703.8" x2="434.4" y2="707.1" class="ax"/>
<text x="434.4" y="715.8" class="tk" text-anchor="middle">26</text>
<line x1="446.4" y1="703.8" x2="446.4" y2="707.1" class="ax"/>
<text x="446.4" y="715.8" class="tk" text-anchor="middle">28</text>
<line x1="410.4" y1="700.8" x2="410.4" y2="706.8" class="axb"/>
<text class="lb" transform="translate(261.2,649.8) rotate(-90)" text-anchor="middle" style="font-size:8.8px;font-weight:normal;fill:#2a2a2a">Platelets ( x 10<tspan dy="-3.6" style="font-size:6.6px">3</tspan><tspan dy="3.6">/mL)</tspan></text>
<text class="lb" transform="translate(324,727.9) rotate(-90)" text-anchor="middle" style="font-size:8.1px;font-weight:normal;fill:#2a2a2a">Vaccinate</text>
<text class="lb" x="368.1" y="727.9" text-anchor="middle" style="font-size:9.2px;font-weight:normal;fill:#2a2a2a">Day PI</text>
<rect x="521.4" y="623.7" width="160.8" height="54.4" fill="#eef0ef"/>
<line x1="559.4" y1="596" x2="559.4" y2="703" class="vd"/>
<line x1="641.7" y1="596" x2="641.7" y2="703" class="vd"/>
<line x1="521.4" y1="596" x2="521.4" y2="703.6" class="ax"/>
<line x1="518" y1="595.9" x2="521.4" y2="595.9" class="ax"/>
<text x="517.2" y="598.9" class="tk" text-anchor="end">600</text>
<line x1="518" y1="631.6" x2="521.4" y2="631.6" class="ax"/>
<text x="517.2" y="634.6" class="tk" text-anchor="end">400</text>
<line x1="518" y1="667.3" x2="521.4" y2="667.3" class="ax"/>
<text x="517.2" y="670.3" class="tk" text-anchor="end">200</text>
<line x1="518" y1="703" x2="521.4" y2="703" class="ax"/>
<text x="517.2" y="706" class="tk" text-anchor="end">0</text>
<line x1="521.4" y1="703" x2="597.8" y2="703" class="ax"/>
<line x1="521.4" y1="703" x2="521.4" y2="706.3" class="ax"/>
<text x="521.4" y="715" class="tk" text-anchor="middle">-7</text>
<line x1="532.2" y1="703" x2="532.2" y2="706.3" class="ax"/>
<text x="532.2" y="715" class="tk" text-anchor="middle">-5</text>
<line x1="543" y1="703" x2="543" y2="706.3" class="ax"/>
<text x="543" y="715" class="tk" text-anchor="middle">-3</text>
<line x1="553.9" y1="703" x2="553.9" y2="706.3" class="ax"/>
<text x="553.9" y="715" class="tk" text-anchor="middle">-1</text>
<line x1="564.7" y1="703" x2="564.7" y2="706.3" class="ax"/>
<text x="564.7" y="715" class="tk" text-anchor="middle">1</text>
<line x1="575.5" y1="703" x2="575.5" y2="706.3" class="ax"/>
<text x="575.5" y="715" class="tk" text-anchor="middle">3</text>
<line x1="586.3" y1="703" x2="586.3" y2="706.3" class="ax"/>
<text x="586.3" y="715" class="tk" text-anchor="middle">5</text>
<line x1="597.1" y1="703" x2="597.1" y2="706.3" class="ax"/>
<text x="597.1" y="715" class="tk" text-anchor="middle">7</text>
<line x1="597.8" y1="700" x2="597.8" y2="706" class="axb"/>
<line x1="605.9" y1="703" x2="682.5" y2="703" class="ax"/>
<line x1="606.6" y1="703" x2="606.6" y2="706.3" class="ax"/>
<text x="606.6" y="715" class="tk" text-anchor="middle">36</text>
<line x1="618.1" y1="703" x2="618.1" y2="706.3" class="ax"/>
<text x="618.1" y="715" class="tk" text-anchor="middle">38</text>
<line x1="629.6" y1="703" x2="629.6" y2="706.3" class="ax"/>
<text x="629.6" y="715" class="tk" text-anchor="middle">40</text>
<line x1="641.2" y1="703" x2="641.2" y2="706.3" class="ax"/>
<line x1="652.7" y1="703" x2="652.7" y2="706.3" class="ax"/>
<text x="652.7" y="715" class="tk" text-anchor="middle">44</text>
<line x1="664.2" y1="703" x2="664.2" y2="706.3" class="ax"/>
<text x="664.2" y="715" class="tk" text-anchor="middle">46</text>
<line x1="675.7" y1="703" x2="675.7" y2="706.3" class="ax"/>
<text x="675.7" y="715" class="tk" text-anchor="middle">48</text>
<line x1="605.9" y1="700" x2="605.9" y2="706" class="axb"/>
<text class="lb" transform="translate(494.1,649) rotate(-90)" text-anchor="middle" style="font-size:8.8px;font-weight:normal;fill:#2a2a2a">Platelets (cells x 10<tspan dy="-3.6" style="font-size:6.6px">3</tspan><tspan dy="3.6">/mL)</tspan></text>
<text class="lb" transform="translate(562.2,733.6) rotate(-90)" text-anchor="middle" style="font-size:8.1px;font-weight:normal;fill:#2a2a2a">Vaccinate</text>
<text class="lb" transform="translate(644,729.6) rotate(-90)" text-anchor="middle" style="font-size:8.1px;font-weight:normal;fill:#2a2a2a">Boost</text>
<text class="lb" x="602" y="724.5" text-anchor="middle" style="font-size:9.2px;font-weight:normal;fill:#2a2a2a">Day PI</text>
<line x1="65.9" y1="30.5" x2="65.9" y2="45.3" stroke="#3d2ea0" stroke-width="1.1"/>
<line x1="63.6" y1="30.5" x2="68.2" y2="30.5" stroke="#3d2ea0" stroke-width="1.2"/>
<line x1="65.9" y1="45.3" x2="65.9" y2="59.2" stroke="#3d2ea0" stroke-width="1.1"/>
<line x1="63.6" y1="59.2" x2="68.2" y2="59.2" stroke="#3d2ea0" stroke-width="1.2"/>
<line x1="89" y1="57.5" x2="89" y2="60.7" stroke="#3d2ea0" stroke-width="1.1"/>
<line x1="86.7" y1="57.5" x2="91.3" y2="57.5" stroke="#3d2ea0" stroke-width="1.2"/>
<line x1="89" y1="60.7" x2="89" y2="69.6" stroke="#3d2ea0" stroke-width="1.1"/>
<line x1="86.7" y1="69.6" x2="91.3" y2="69.6" stroke="#3d2ea0" stroke-width="1.2"/>
<line x1="93.2" y1="63" x2="93.2" y2="68.3" stroke="#3d2ea0" stroke-width="1.1"/>
<line x1="90.9" y1="63" x2="95.5" y2="63" stroke="#3d2ea0" stroke-width="1.2"/>
<line x1="93.2" y1="68.3" x2="93.2" y2="74.2" stroke="#3d2ea0" stroke-width="1.1"/>
<line x1="90.9" y1="74.2" x2="95.5" y2="74.2" stroke="#3d2ea0" stroke-width="1.2"/>
<line x1="98.5" y1="48" x2="98.5" y2="59.8" stroke="#3d2ea0" stroke-width="1.1"/>
<line x1="96.2" y1="48" x2="100.8" y2="48" stroke="#3d2ea0" stroke-width="1.2"/>
<line x1="98.5" y1="59.8" x2="98.5" y2="71.6" stroke="#3d2ea0" stroke-width="1.1"/>
<line x1="96.2" y1="71.6" x2="100.8" y2="71.6" stroke="#3d2ea0" stroke-width="1.2"/>
<line x1="104.1" y1="42" x2="104.1" y2="45" stroke="#3d2ea0" stroke-width="1.1"/>
<line x1="101.8" y1="42" x2="106.4" y2="42" stroke="#3d2ea0" stroke-width="1.2"/>
<line x1="104.1" y1="45" x2="104.1" y2="48" stroke="#3d2ea0" stroke-width="1.1"/>
<line x1="101.8" y1="48" x2="106.4" y2="48" stroke="#3d2ea0" stroke-width="1.2"/>
<line x1="125.5" y1="47.6" x2="125.5" y2="57.8" stroke="#3d2ea0" stroke-width="1.1"/>
<line x1="123.2" y1="47.6" x2="127.8" y2="47.6" stroke="#3d2ea0" stroke-width="1.2"/>
<line x1="125.5" y1="57.8" x2="125.5" y2="68" stroke="#3d2ea0" stroke-width="1.1"/>
<line x1="123.2" y1="68" x2="127.8" y2="68" stroke="#3d2ea0" stroke-width="1.2"/>
<line x1="135.4" y1="42" x2="135.4" y2="52.9" stroke="#3d2ea0" stroke-width="1.1"/>
<line x1="133.1" y1="42" x2="137.7" y2="42" stroke="#3d2ea0" stroke-width="1.2"/>
<line x1="135.4" y1="52.9" x2="135.4" y2="64.3" stroke="#3d2ea0" stroke-width="1.1"/>
<line x1="133.1" y1="64.3" x2="137.7" y2="64.3" stroke="#3d2ea0" stroke-width="1.2"/>
<line x1="156.4" y1="30" x2="156.4" y2="40" stroke="#3d2ea0" stroke-width="1.1"/>
<line x1="154.1" y1="30" x2="158.7" y2="30" stroke="#3d2ea0" stroke-width="1.2"/>
<line x1="156.4" y1="40" x2="156.4" y2="55.2" stroke="#3d2ea0" stroke-width="1.1"/>
<line x1="154.1" y1="55.2" x2="158.7" y2="55.2" stroke="#3d2ea0" stroke-width="1.2"/>
<line x1="167.3" y1="28.4" x2="167.3" y2="48.7" stroke="#3d2ea0" stroke-width="1.1"/>
<line x1="165" y1="28.4" x2="169.6" y2="28.4" stroke="#3d2ea0" stroke-width="1.2"/>
<line x1="167.3" y1="48.7" x2="167.3" y2="69.6" stroke="#3d2ea0" stroke-width="1.1"/>
<line x1="165" y1="69.6" x2="169.6" y2="69.6" stroke="#3d2ea0" stroke-width="1.2"/>
<line x1="209.5" y1="31.2" x2="209.5" y2="47.6" stroke="#3d2ea0" stroke-width="1.1"/>
<line x1="207.2" y1="31.2" x2="211.8" y2="31.2" stroke="#3d2ea0" stroke-width="1.2"/>
<line x1="209.5" y1="47.6" x2="209.5" y2="63" stroke="#3d2ea0" stroke-width="1.1"/>
<line x1="207.2" y1="63" x2="211.8" y2="63" stroke="#3d2ea0" stroke-width="1.2"/>
<line x1="65.9" y1="39.4" x2="65.9" y2="47.3" stroke="#e2261c" stroke-width="1.1"/>
<line x1="63.6" y1="39.4" x2="68.2" y2="39.4" stroke="#e2261c" stroke-width="1.2"/>
<line x1="65.9" y1="47.3" x2="65.9" y2="55.2" stroke="#e2261c" stroke-width="1.1"/>
<line x1="63.6" y1="55.2" x2="68.2" y2="55.2" stroke="#e2261c" stroke-width="1.2"/>
<line x1="89" y1="48" x2="89" y2="50" stroke="#e2261c" stroke-width="1.1"/>
<line x1="86.7" y1="48" x2="91.3" y2="48" stroke="#e2261c" stroke-width="1.2"/>
<line x1="89" y1="50" x2="89" y2="52" stroke="#e2261c" stroke-width="1.1"/>
<line x1="86.7" y1="52" x2="91.3" y2="52" stroke="#e2261c" stroke-width="1.2"/>
<line x1="93.2" y1="27.6" x2="93.2" y2="41.1" stroke="#e2261c" stroke-width="1.1"/>
<line x1="90.9" y1="27.6" x2="95.5" y2="27.6" stroke="#e2261c" stroke-width="1.2"/>
<line x1="93.2" y1="41.1" x2="93.2" y2="53.9" stroke="#e2261c" stroke-width="1.1"/>
<line x1="90.9" y1="53.9" x2="95.5" y2="53.9" stroke="#e2261c" stroke-width="1.2"/>
<line x1="98.5" y1="43" x2="98.5" y2="46" stroke="#e2261c" stroke-width="1.1"/>
<line x1="96.2" y1="43" x2="100.8" y2="43" stroke="#e2261c" stroke-width="1.2"/>
<line x1="98.5" y1="46" x2="98.5" y2="49" stroke="#e2261c" stroke-width="1.1"/>
<line x1="96.2" y1="49" x2="100.8" y2="49" stroke="#e2261c" stroke-width="1.2"/>
<line x1="104.1" y1="36.4" x2="104.1" y2="40.1" stroke="#e2261c" stroke-width="1.1"/>
<line x1="101.8" y1="36.4" x2="106.4" y2="36.4" stroke="#e2261c" stroke-width="1.2"/>
<line x1="104.1" y1="40.1" x2="104.1" y2="44" stroke="#e2261c" stroke-width="1.1"/>
<line x1="101.8" y1="44" x2="106.4" y2="44" stroke="#e2261c" stroke-width="1.2"/>
<line x1="125.5" y1="39.4" x2="125.5" y2="59.1" stroke="#e2261c" stroke-width="1.1"/>
<line x1="123.2" y1="39.4" x2="127.8" y2="39.4" stroke="#e2261c" stroke-width="1.2"/>
<line x1="125.5" y1="59.1" x2="125.5" y2="78.4" stroke="#e2261c" stroke-width="1.1"/>
<line x1="123.2" y1="78.4" x2="127.8" y2="78.4" stroke="#e2261c" stroke-width="1.2"/>
<line x1="135.4" y1="36.8" x2="135.4" y2="47.6" stroke="#e2261c" stroke-width="1.1"/>
<line x1="133.1" y1="36.8" x2="137.7" y2="36.8" stroke="#e2261c" stroke-width="1.2"/>
<line x1="135.4" y1="47.6" x2="135.4" y2="58" stroke="#e2261c" stroke-width="1.1"/>
<line x1="133.1" y1="58" x2="137.7" y2="58" stroke="#e2261c" stroke-width="1.2"/>
<line x1="156.4" y1="25.9" x2="156.4" y2="51.2" stroke="#e2261c" stroke-width="1.1"/>
<line x1="154.1" y1="25.9" x2="158.7" y2="25.9" stroke="#e2261c" stroke-width="1.2"/>
<line x1="156.4" y1="51.2" x2="156.4" y2="76.2" stroke="#e2261c" stroke-width="1.1"/>
<line x1="154.1" y1="76.2" x2="158.7" y2="76.2" stroke="#e2261c" stroke-width="1.2"/>
<line x1="167.3" y1="41.5" x2="167.3" y2="64.8" stroke="#e2261c" stroke-width="1.1"/>
<line x1="165" y1="41.5" x2="169.6" y2="41.5" stroke="#e2261c" stroke-width="1.2"/>
<line x1="167.3" y1="64.8" x2="167.3" y2="88.1" stroke="#e2261c" stroke-width="1.1"/>
<line x1="165" y1="88.1" x2="169.6" y2="88.1" stroke="#e2261c" stroke-width="1.2"/>
<line x1="209.5" y1="38.2" x2="209.5" y2="47.6" stroke="#e2261c" stroke-width="1.1"/>
<line x1="207.2" y1="38.2" x2="211.8" y2="38.2" stroke="#e2261c" stroke-width="1.2"/>
<line x1="209.5" y1="47.6" x2="209.5" y2="58.7" stroke="#e2261c" stroke-width="1.1"/>
<line x1="207.2" y1="58.7" x2="211.8" y2="58.7" stroke="#e2261c" stroke-width="1.2"/>
<line x1="65.9" y1="36.1" x2="65.9" y2="49.7" stroke="#f7d800" stroke-width="1.1"/>
<line x1="63.6" y1="36.1" x2="68.2" y2="36.1" stroke="#f7d800" stroke-width="1.2"/>
<line x1="65.9" y1="49.7" x2="65.9" y2="61.1" stroke="#f7d800" stroke-width="1.1"/>
<line x1="63.6" y1="61.1" x2="68.2" y2="61.1" stroke="#f7d800" stroke-width="1.2"/>
<line x1="89" y1="20.4" x2="89" y2="42.3" stroke="#f7d800" stroke-width="1.1"/>
<line x1="86.7" y1="20.4" x2="91.3" y2="20.4" stroke="#f7d800" stroke-width="1.2"/>
<line x1="89" y1="42.3" x2="89" y2="63" stroke="#f7d800" stroke-width="1.1"/>
<line x1="86.7" y1="63" x2="91.3" y2="63" stroke="#f7d800" stroke-width="1.2"/>
<line x1="93.2" y1="52" x2="93.2" y2="56.2" stroke="#f7d800" stroke-width="1.1"/>
<line x1="90.9" y1="52" x2="95.5" y2="52" stroke="#f7d800" stroke-width="1.2"/>
<line x1="93.2" y1="56.2" x2="93.2" y2="60" stroke="#f7d800" stroke-width="1.1"/>
<line x1="90.9" y1="60" x2="95.5" y2="60" stroke="#f7d800" stroke-width="1.2"/>
<line x1="98.5" y1="37.4" x2="98.5" y2="49" stroke="#f7d800" stroke-width="1.1"/>
<line x1="96.2" y1="37.4" x2="100.8" y2="37.4" stroke="#f7d800" stroke-width="1.2"/>
<line x1="98.5" y1="49" x2="98.5" y2="59.1" stroke="#f7d800" stroke-width="1.1"/>
<line x1="96.2" y1="59.1" x2="100.8" y2="59.1" stroke="#f7d800" stroke-width="1.2"/>
<line x1="104.1" y1="42" x2="104.1" y2="48.6" stroke="#f7d800" stroke-width="1.1"/>
<line x1="101.8" y1="42" x2="106.4" y2="42" stroke="#f7d800" stroke-width="1.2"/>
<line x1="104.1" y1="48.6" x2="104.1" y2="55" stroke="#f7d800" stroke-width="1.1"/>
<line x1="101.8" y1="55" x2="106.4" y2="55" stroke="#f7d800" stroke-width="1.2"/>
<line x1="125.5" y1="42.3" x2="125.5" y2="64" stroke="#f7d800" stroke-width="1.1"/>
<line x1="123.2" y1="42.3" x2="127.8" y2="42.3" stroke="#f7d800" stroke-width="1.2"/>
<line x1="125.5" y1="64" x2="125.5" y2="84.1" stroke="#f7d800" stroke-width="1.1"/>
<line x1="123.2" y1="84.1" x2="127.8" y2="84.1" stroke="#f7d800" stroke-width="1.2"/>
<line x1="135.4" y1="40.6" x2="135.4" y2="56.4" stroke="#f7d800" stroke-width="1.1"/>
<line x1="133.1" y1="40.6" x2="137.7" y2="40.6" stroke="#f7d800" stroke-width="1.2"/>
<line x1="135.4" y1="56.4" x2="135.4" y2="71.3" stroke="#f7d800" stroke-width="1.1"/>
<line x1="133.1" y1="71.3" x2="137.7" y2="71.3" stroke="#f7d800" stroke-width="1.2"/>
<line x1="156.4" y1="42" x2="156.4" y2="47.3" stroke="#f7d800" stroke-width="1.1"/>
<line x1="154.1" y1="42" x2="158.7" y2="42" stroke="#f7d800" stroke-width="1.2"/>
<line x1="156.4" y1="47.3" x2="156.4" y2="53" stroke="#f7d800" stroke-width="1.1"/>
<line x1="154.1" y1="53" x2="158.7" y2="53" stroke="#f7d800" stroke-width="1.2"/>
<line x1="167.3" y1="24.5" x2="167.3" y2="43.4" stroke="#f7d800" stroke-width="1.1"/>
<line x1="165" y1="24.5" x2="169.6" y2="24.5" stroke="#f7d800" stroke-width="1.2"/>
<line x1="167.3" y1="43.4" x2="167.3" y2="61.3" stroke="#f7d800" stroke-width="1.1"/>
<line x1="165" y1="61.3" x2="169.6" y2="61.3" stroke="#f7d800" stroke-width="1.2"/>
<line x1="209.5" y1="36.4" x2="209.5" y2="47.6" stroke="#f7d800" stroke-width="1.1"/>
<line x1="207.2" y1="36.4" x2="211.8" y2="36.4" stroke="#f7d800" stroke-width="1.2"/>
<line x1="209.5" y1="47.6" x2="209.5" y2="59.6" stroke="#f7d800" stroke-width="1.1"/>
<line x1="207.2" y1="59.6" x2="211.8" y2="59.6" stroke="#f7d800" stroke-width="1.2"/>
<line x1="279.6" y1="15.9" x2="279.6" y2="28.2" stroke="#3d2ea0" stroke-width="1.1"/>
<line x1="277.3" y1="15.9" x2="281.9" y2="15.9" stroke="#3d2ea0" stroke-width="1.2"/>
<line x1="279.6" y1="28.2" x2="279.6" y2="40.2" stroke="#3d2ea0" stroke-width="1.1"/>
<line x1="277.3" y1="40.2" x2="281.9" y2="40.2" stroke="#3d2ea0" stroke-width="1.2"/>
<line x1="331.4" y1="17.1" x2="331.4" y2="30.4" stroke="#3d2ea0" stroke-width="1.1"/>
<line x1="329.1" y1="17.1" x2="333.7" y2="17.1" stroke="#3d2ea0" stroke-width="1.2"/>
<line x1="331.4" y1="30.4" x2="331.4" y2="43.6" stroke="#3d2ea0" stroke-width="1.1"/>
<line x1="329.1" y1="43.6" x2="333.7" y2="43.6" stroke="#3d2ea0" stroke-width="1.2"/>
<line x1="341.7" y1="36" x2="341.7" y2="42.4" stroke="#3d2ea0" stroke-width="1.1"/>
<line x1="339.4" y1="36" x2="344" y2="36" stroke="#3d2ea0" stroke-width="1.2"/>
<line x1="341.7" y1="42.4" x2="341.7" y2="47.3" stroke="#3d2ea0" stroke-width="1.1"/>
<line x1="339.4" y1="47.3" x2="344" y2="47.3" stroke="#3d2ea0" stroke-width="1.2"/>
<line x1="393.5" y1="38.4" x2="393.5" y2="43" stroke="#3d2ea0" stroke-width="1.1"/>
<line x1="391.2" y1="38.4" x2="395.8" y2="38.4" stroke="#3d2ea0" stroke-width="1.2"/>
<line x1="393.5" y1="43" x2="393.5" y2="46.3" stroke="#3d2ea0" stroke-width="1.1"/>
<line x1="391.2" y1="46.3" x2="395.8" y2="46.3" stroke="#3d2ea0" stroke-width="1.2"/>
<line x1="402.6" y1="27.6" x2="402.6" y2="36.1" stroke="#3d2ea0" stroke-width="1.1"/>
<line x1="400.3" y1="27.6" x2="404.9" y2="27.6" stroke="#3d2ea0" stroke-width="1.2"/>
<line x1="402.6" y1="36.1" x2="402.6" y2="45" stroke="#3d2ea0" stroke-width="1.1"/>
<line x1="400.3" y1="45" x2="404.9" y2="45" stroke="#3d2ea0" stroke-width="1.2"/>
<line x1="439.8" y1="36.5" x2="439.8" y2="65" stroke="#3d2ea0" stroke-width="1.1"/>
<line x1="437.5" y1="36.5" x2="442.1" y2="36.5" stroke="#3d2ea0" stroke-width="1.2"/>
<line x1="439.8" y1="65" x2="439.8" y2="93.6" stroke="#3d2ea0" stroke-width="1.1"/>
<line x1="437.5" y1="93.6" x2="442.1" y2="93.6" stroke="#3d2ea0" stroke-width="1.2"/>
<line x1="279.6" y1="25.5" x2="279.6" y2="40.2" stroke="#1a1a1a" stroke-width="1.1"/>
<line x1="277.3" y1="25.5" x2="281.9" y2="25.5" stroke="#1a1a1a" stroke-width="1.2"/>
<line x1="279.6" y1="40.2" x2="279.6" y2="55" stroke="#1a1a1a" stroke-width="1.1"/>
<line x1="277.3" y1="55" x2="281.9" y2="55" stroke="#1a1a1a" stroke-width="1.2"/>
<line x1="321" y1="35.4" x2="321" y2="41.9" stroke="#1a1a1a" stroke-width="1.1"/>
<line x1="318.7" y1="35.4" x2="323.3" y2="35.4" stroke="#1a1a1a" stroke-width="1.2"/>
<line x1="321" y1="41.9" x2="321" y2="50.4" stroke="#1a1a1a" stroke-width="1.1"/>
<line x1="318.7" y1="50.4" x2="323.3" y2="50.4" stroke="#1a1a1a" stroke-width="1.2"/>
<line x1="331.4" y1="34.2" x2="331.4" y2="50.9" stroke="#1a1a1a" stroke-width="1.1"/>
<line x1="329.1" y1="34.2" x2="333.7" y2="34.2" stroke="#1a1a1a" stroke-width="1.2"/>
<line x1="331.4" y1="50.9" x2="331.4" y2="69.2" stroke="#1a1a1a" stroke-width="1.1"/>
<line x1="329.1" y1="69.2" x2="333.7" y2="69.2" stroke="#1a1a1a" stroke-width="1.2"/>
<line x1="341.7" y1="33.1" x2="341.7" y2="42" stroke="#1a1a1a" stroke-width="1.1"/>
<line x1="339.4" y1="33.1" x2="344" y2="33.1" stroke="#1a1a1a" stroke-width="1.2"/>
<line x1="341.7" y1="42" x2="341.7" y2="53.2" stroke="#1a1a1a" stroke-width="1.1"/>
<line x1="339.4" y1="53.2" x2="344" y2="53.2" stroke="#1a1a1a" stroke-width="1.2"/>
<line x1="352.1" y1="32.1" x2="352.1" y2="41" stroke="#1a1a1a" stroke-width="1.1"/>
<line x1="349.8" y1="32.1" x2="354.4" y2="32.1" stroke="#1a1a1a" stroke-width="1.2"/>
<line x1="352.1" y1="41" x2="352.1" y2="50.3" stroke="#1a1a1a" stroke-width="1.1"/>
<line x1="349.8" y1="50.3" x2="354.4" y2="50.3" stroke="#1a1a1a" stroke-width="1.2"/>
<line x1="393.5" y1="34.5" x2="393.5" y2="42" stroke="#1a1a1a" stroke-width="1.1"/>
<line x1="391.2" y1="34.5" x2="395.8" y2="34.5" stroke="#1a1a1a" stroke-width="1.2"/>
<line x1="393.5" y1="42" x2="393.5" y2="50.3" stroke="#1a1a1a" stroke-width="1.1"/>
<line x1="391.2" y1="50.3" x2="395.8" y2="50.3" stroke="#1a1a1a" stroke-width="1.2"/>
<line x1="402.6" y1="30.6" x2="402.6" y2="35.1" stroke="#1a1a1a" stroke-width="1.1"/>
<line x1="400.3" y1="30.6" x2="404.9" y2="30.6" stroke="#1a1a1a" stroke-width="1.2"/>
<line x1="402.6" y1="35.1" x2="402.6" y2="40.4" stroke="#1a1a1a" stroke-width="1.1"/>
<line x1="400.3" y1="40.4" x2="404.9" y2="40.4" stroke="#1a1a1a" stroke-width="1.2"/>
<line x1="439.8" y1="23.3" x2="439.8" y2="51.7" stroke="#1a1a1a" stroke-width="1.1"/>
<line x1="437.5" y1="23.3" x2="442.1" y2="23.3" stroke="#1a1a1a" stroke-width="1.2"/>
<line x1="439.8" y1="51.7" x2="439.8" y2="80.8" stroke="#1a1a1a" stroke-width="1.1"/>
<line x1="437.5" y1="80.8" x2="442.1" y2="80.8" stroke="#1a1a1a" stroke-width="1.2"/>
<line x1="514.2" y1="58.8" x2="514.2" y2="62.3" stroke="#e2261c" stroke-width="1.1"/>
<line x1="511.9" y1="58.8" x2="516.5" y2="58.8" stroke="#e2261c" stroke-width="1.2"/>
<line x1="514.2" y1="62.3" x2="514.2" y2="65.8" stroke="#e2261c" stroke-width="1.1"/>
<line x1="511.9" y1="65.8" x2="516.5" y2="65.8" stroke="#e2261c" stroke-width="1.2"/>
<line x1="529.2" y1="56.4" x2="529.2" y2="59.4" stroke="#e2261c" stroke-width="1.1"/>
<line x1="526.9" y1="56.4" x2="531.5" y2="56.4" stroke="#e2261c" stroke-width="1.2"/>
<line x1="529.2" y1="59.4" x2="529.2" y2="62.4" stroke="#e2261c" stroke-width="1.1"/>
<line x1="526.9" y1="62.4" x2="531.5" y2="62.4" stroke="#e2261c" stroke-width="1.2"/>
<line x1="554.6" y1="54.2" x2="554.6" y2="57.2" stroke="#e2261c" stroke-width="1.1"/>
<line x1="552.3" y1="54.2" x2="556.9" y2="54.2" stroke="#e2261c" stroke-width="1.2"/>
<line x1="554.6" y1="57.2" x2="554.6" y2="60.2" stroke="#e2261c" stroke-width="1.1"/>
<line x1="552.3" y1="60.2" x2="556.9" y2="60.2" stroke="#e2261c" stroke-width="1.2"/>
<line x1="559.8" y1="81.4" x2="559.8" y2="85.4" stroke="#e2261c" stroke-width="1.1"/>
<line x1="557.5" y1="81.4" x2="562.1" y2="81.4" stroke="#e2261c" stroke-width="1.2"/>
<line x1="559.8" y1="85.4" x2="559.8" y2="89.4" stroke="#e2261c" stroke-width="1.1"/>
<line x1="557.5" y1="89.4" x2="562.1" y2="89.4" stroke="#e2261c" stroke-width="1.2"/>
<line x1="564.9" y1="58.5" x2="564.9" y2="61.5" stroke="#e2261c" stroke-width="1.1"/>
<line x1="562.6" y1="58.5" x2="567.2" y2="58.5" stroke="#e2261c" stroke-width="1.2"/>
<line x1="564.9" y1="61.5" x2="564.9" y2="64.5" stroke="#e2261c" stroke-width="1.1"/>
<line x1="562.6" y1="64.5" x2="567.2" y2="64.5" stroke="#e2261c" stroke-width="1.2"/>
<line x1="567.4" y1="47.2" x2="567.4" y2="48.7" stroke="#e2261c" stroke-width="1.1"/>
<line x1="565.1" y1="47.2" x2="569.7" y2="47.2" stroke="#e2261c" stroke-width="1.2"/>
<line x1="567.4" y1="48.7" x2="567.4" y2="50.2" stroke="#e2261c" stroke-width="1.1"/>
<line x1="565.1" y1="50.2" x2="569.7" y2="50.2" stroke="#e2261c" stroke-width="1.2"/>
<line x1="585" y1="62.8" x2="585" y2="65.8" stroke="#e2261c" stroke-width="1.1"/>
<line x1="582.7" y1="62.8" x2="587.3" y2="62.8" stroke="#e2261c" stroke-width="1.2"/>
<line x1="585" y1="65.8" x2="585" y2="68.8" stroke="#e2261c" stroke-width="1.1"/>
<line x1="582.7" y1="68.8" x2="587.3" y2="68.8" stroke="#e2261c" stroke-width="1.2"/>
<line x1="598.9" y1="75.4" x2="598.9" y2="79.4" stroke="#e2261c" stroke-width="1.1"/>
<line x1="596.6" y1="75.4" x2="601.2" y2="75.4" stroke="#e2261c" stroke-width="1.2"/>
<line x1="598.9" y1="79.4" x2="598.9" y2="83.4" stroke="#e2261c" stroke-width="1.1"/>
<line x1="596.6" y1="83.4" x2="601.2" y2="83.4" stroke="#e2261c" stroke-width="1.2"/>
<line x1="610.9" y1="59" x2="610.9" y2="61" stroke="#e2261c" stroke-width="1.1"/>
<line x1="608.6" y1="59" x2="613.2" y2="59" stroke="#e2261c" stroke-width="1.2"/>
<line x1="610.9" y1="61" x2="610.9" y2="63" stroke="#e2261c" stroke-width="1.1"/>
<line x1="608.6" y1="63" x2="613.2" y2="63" stroke="#e2261c" stroke-width="1.2"/>
<line x1="639.9" y1="19.9" x2="639.9" y2="21.9" stroke="#e2261c" stroke-width="1.1"/>
<line x1="637.6" y1="19.9" x2="642.2" y2="19.9" stroke="#e2261c" stroke-width="1.2"/>
<line x1="639.9" y1="21.9" x2="639.9" y2="23.9" stroke="#e2261c" stroke-width="1.1"/>
<line x1="637.6" y1="23.9" x2="642.2" y2="23.9" stroke="#e2261c" stroke-width="1.2"/>
<line x1="642.8" y1="44.1" x2="642.8" y2="46.1" stroke="#e2261c" stroke-width="1.1"/>
<line x1="640.5" y1="44.1" x2="645.1" y2="44.1" stroke="#e2261c" stroke-width="1.2"/>
<line x1="642.8" y1="46.1" x2="642.8" y2="48.1" stroke="#e2261c" stroke-width="1.1"/>
<line x1="640.5" y1="48.1" x2="645.1" y2="48.1" stroke="#e2261c" stroke-width="1.2"/>
<line x1="645.9" y1="60.3" x2="645.9" y2="62.3" stroke="#e2261c" stroke-width="1.1"/>
<line x1="643.6" y1="60.3" x2="648.2" y2="60.3" stroke="#e2261c" stroke-width="1.2"/>
<line x1="645.9" y1="62.3" x2="645.9" y2="64.3" stroke="#e2261c" stroke-width="1.1"/>
<line x1="643.6" y1="64.3" x2="648.2" y2="64.3" stroke="#e2261c" stroke-width="1.2"/>
<line x1="651.9" y1="59.9" x2="651.9" y2="62.9" stroke="#e2261c" stroke-width="1.1"/>
<line x1="649.6" y1="59.9" x2="654.2" y2="59.9" stroke="#e2261c" stroke-width="1.2"/>
<line x1="651.9" y1="62.9" x2="651.9" y2="65.9" stroke="#e2261c" stroke-width="1.1"/>
<line x1="649.6" y1="65.9" x2="654.2" y2="65.9" stroke="#e2261c" stroke-width="1.2"/>
<line x1="675.3" y1="65.5" x2="675.3" y2="67.5" stroke="#e2261c" stroke-width="1.1"/>
<line x1="673" y1="65.5" x2="677.6" y2="65.5" stroke="#e2261c" stroke-width="1.2"/>
<line x1="675.3" y1="67.5" x2="675.3" y2="69.5" stroke="#e2261c" stroke-width="1.1"/>
<line x1="673" y1="69.5" x2="677.6" y2="69.5" stroke="#e2261c" stroke-width="1.2"/>
<line x1="514.2" y1="58.5" x2="514.2" y2="61" stroke="#19a05a" stroke-width="1.1"/>
<line x1="511.9" y1="58.5" x2="516.5" y2="58.5" stroke="#19a05a" stroke-width="1.2"/>
<line x1="514.2" y1="61" x2="514.2" y2="63.5" stroke="#19a05a" stroke-width="1.1"/>
<line x1="511.9" y1="63.5" x2="516.5" y2="63.5" stroke="#19a05a" stroke-width="1.2"/>
<line x1="529.2" y1="53.5" x2="529.2" y2="55" stroke="#19a05a" stroke-width="1.1"/>
<line x1="526.9" y1="53.5" x2="531.5" y2="53.5" stroke="#19a05a" stroke-width="1.2"/>
<line x1="529.2" y1="55" x2="529.2" y2="56.5" stroke="#19a05a" stroke-width="1.1"/>
<line x1="526.9" y1="56.5" x2="531.5" y2="56.5" stroke="#19a05a" stroke-width="1.2"/>
<line x1="554.6" y1="69" x2="554.6" y2="70.5" stroke="#19a05a" stroke-width="1.1"/>
<line x1="552.3" y1="69" x2="556.9" y2="69" stroke="#19a05a" stroke-width="1.2"/>
<line x1="554.6" y1="70.5" x2="554.6" y2="72" stroke="#19a05a" stroke-width="1.1"/>
<line x1="552.3" y1="72" x2="556.9" y2="72" stroke="#19a05a" stroke-width="1.2"/>
<line x1="559.8" y1="74.7" x2="559.8" y2="77.7" stroke="#19a05a" stroke-width="1.1"/>
<line x1="557.5" y1="74.7" x2="562.1" y2="74.7" stroke="#19a05a" stroke-width="1.2"/>
<line x1="559.8" y1="77.7" x2="559.8" y2="80.7" stroke="#19a05a" stroke-width="1.1"/>
<line x1="557.5" y1="80.7" x2="562.1" y2="80.7" stroke="#19a05a" stroke-width="1.2"/>
<line x1="564.9" y1="65" x2="564.9" y2="68" stroke="#19a05a" stroke-width="1.1"/>
<line x1="562.6" y1="65" x2="567.2" y2="65" stroke="#19a05a" stroke-width="1.2"/>
<line x1="564.9" y1="68" x2="564.9" y2="71" stroke="#19a05a" stroke-width="1.1"/>
<line x1="562.6" y1="71" x2="567.2" y2="71" stroke="#19a05a" stroke-width="1.2"/>
<line x1="585" y1="61.9" x2="585" y2="64.4" stroke="#19a05a" stroke-width="1.1"/>
<line x1="582.7" y1="61.9" x2="587.3" y2="61.9" stroke="#19a05a" stroke-width="1.2"/>
<line x1="585" y1="64.4" x2="585" y2="66.9" stroke="#19a05a" stroke-width="1.1"/>
<line x1="582.7" y1="66.9" x2="587.3" y2="66.9" stroke="#19a05a" stroke-width="1.2"/>
<line x1="598.9" y1="62.2" x2="598.9" y2="65.2" stroke="#19a05a" stroke-width="1.1"/>
<line x1="596.6" y1="62.2" x2="601.2" y2="62.2" stroke="#19a05a" stroke-width="1.2"/>
<line x1="598.9" y1="65.2" x2="598.9" y2="68.2" stroke="#19a05a" stroke-width="1.1"/>
<line x1="596.6" y1="68.2" x2="601.2" y2="68.2" stroke="#19a05a" stroke-width="1.2"/>
<line x1="610.9" y1="54.5" x2="610.9" y2="56" stroke="#19a05a" stroke-width="1.1"/>
<line x1="608.6" y1="54.5" x2="613.2" y2="54.5" stroke="#19a05a" stroke-width="1.2"/>
<line x1="610.9" y1="56" x2="610.9" y2="57.5" stroke="#19a05a" stroke-width="1.1"/>
<line x1="608.6" y1="57.5" x2="613.2" y2="57.5" stroke="#19a05a" stroke-width="1.2"/>
<line x1="639.9" y1="61.4" x2="639.9" y2="64.4" stroke="#19a05a" stroke-width="1.1"/>
<line x1="637.6" y1="61.4" x2="642.2" y2="61.4" stroke="#19a05a" stroke-width="1.2"/>
<line x1="639.9" y1="64.4" x2="639.9" y2="67.4" stroke="#19a05a" stroke-width="1.1"/>
<line x1="637.6" y1="67.4" x2="642.2" y2="67.4" stroke="#19a05a" stroke-width="1.2"/>
<line x1="645.9" y1="55.9" x2="645.9" y2="58.9" stroke="#19a05a" stroke-width="1.1"/>
<line x1="643.6" y1="55.9" x2="648.2" y2="55.9" stroke="#19a05a" stroke-width="1.2"/>
<line x1="645.9" y1="58.9" x2="645.9" y2="61.9" stroke="#19a05a" stroke-width="1.1"/>
<line x1="643.6" y1="61.9" x2="648.2" y2="61.9" stroke="#19a05a" stroke-width="1.2"/>
<line x1="651.9" y1="67.4" x2="651.9" y2="71.4" stroke="#19a05a" stroke-width="1.1"/>
<line x1="649.6" y1="67.4" x2="654.2" y2="67.4" stroke="#19a05a" stroke-width="1.2"/>
<line x1="651.9" y1="71.4" x2="651.9" y2="75.4" stroke="#19a05a" stroke-width="1.1"/>
<line x1="649.6" y1="75.4" x2="654.2" y2="75.4" stroke="#19a05a" stroke-width="1.2"/>
<line x1="675.3" y1="61.9" x2="675.3" y2="64.9" stroke="#19a05a" stroke-width="1.1"/>
<line x1="673" y1="61.9" x2="677.6" y2="61.9" stroke="#19a05a" stroke-width="1.2"/>
<line x1="675.3" y1="64.9" x2="675.3" y2="67.9" stroke="#19a05a" stroke-width="1.1"/>
<line x1="673" y1="67.9" x2="677.6" y2="67.9" stroke="#19a05a" stroke-width="1.2"/>
<line x1="49.2" y1="248.2" x2="49.2" y2="268.2" stroke="#3d2ea0" stroke-width="1.1"/>
<line x1="46.9" y1="248.2" x2="51.5" y2="248.2" stroke="#3d2ea0" stroke-width="1.2"/>
<line x1="49.2" y1="268.2" x2="49.2" y2="288.5" stroke="#3d2ea0" stroke-width="1.1"/>
<line x1="46.9" y1="288.5" x2="51.5" y2="288.5" stroke="#3d2ea0" stroke-width="1.2"/>
<line x1="87.2" y1="248.2" x2="87.2" y2="268.2" stroke="#3d2ea0" stroke-width="1.1"/>
<line x1="84.9" y1="248.2" x2="89.5" y2="248.2" stroke="#3d2ea0" stroke-width="1.2"/>
<line x1="87.2" y1="268.2" x2="87.2" y2="288.5" stroke="#3d2ea0" stroke-width="1.1"/>
<line x1="84.9" y1="288.5" x2="89.5" y2="288.5" stroke="#3d2ea0" stroke-width="1.2"/>
<line x1="92.3" y1="248.2" x2="92.3" y2="268.2" stroke="#3d2ea0" stroke-width="1.1"/>
<line x1="90" y1="248.2" x2="94.6" y2="248.2" stroke="#3d2ea0" stroke-width="1.2"/>
<line x1="92.3" y1="268.2" x2="92.3" y2="288.5" stroke="#3d2ea0" stroke-width="1.1"/>
<line x1="90" y1="288.5" x2="94.6" y2="288.5" stroke="#3d2ea0" stroke-width="1.2"/>
<line x1="97.7" y1="248.2" x2="97.7" y2="268.2" stroke="#3d2ea0" stroke-width="1.1"/>
<line x1="95.4" y1="248.2" x2="100" y2="248.2" stroke="#3d2ea0" stroke-width="1.2"/>
<line x1="97.7" y1="268.2" x2="97.7" y2="288.5" stroke="#3d2ea0" stroke-width="1.1"/>
<line x1="95.4" y1="288.5" x2="100" y2="288.5" stroke="#3d2ea0" stroke-width="1.2"/>
<line x1="103.4" y1="248.2" x2="103.4" y2="268.2" stroke="#3d2ea0" stroke-width="1.1"/>
<line x1="101.1" y1="248.2" x2="105.7" y2="248.2" stroke="#3d2ea0" stroke-width="1.2"/>
<line x1="103.4" y1="268.2" x2="103.4" y2="288.5" stroke="#3d2ea0" stroke-width="1.1"/>
<line x1="101.1" y1="288.5" x2="105.7" y2="288.5" stroke="#3d2ea0" stroke-width="1.2"/>
<line x1="125.1" y1="240.5" x2="125.1" y2="268.2" stroke="#3d2ea0" stroke-width="1.1"/>
<line x1="122.8" y1="240.5" x2="127.4" y2="240.5" stroke="#3d2ea0" stroke-width="1.2"/>
<line x1="125.1" y1="268.2" x2="125.1" y2="297.7" stroke="#3d2ea0" stroke-width="1.1"/>
<line x1="122.8" y1="297.7" x2="127.4" y2="297.7" stroke="#3d2ea0" stroke-width="1.2"/>
<line x1="134" y1="248.5" x2="134" y2="268.7" stroke="#3d2ea0" stroke-width="1.1"/>
<line x1="131.7" y1="248.5" x2="136.3" y2="248.5" stroke="#3d2ea0" stroke-width="1.2"/>
<line x1="134" y1="268.7" x2="134" y2="287.9" stroke="#3d2ea0" stroke-width="1.1"/>
<line x1="131.7" y1="287.9" x2="136.3" y2="287.9" stroke="#3d2ea0" stroke-width="1.2"/>
<line x1="155.8" y1="248.5" x2="155.8" y2="268.7" stroke="#3d2ea0" stroke-width="1.1"/>
<line x1="153.5" y1="248.5" x2="158.1" y2="248.5" stroke="#3d2ea0" stroke-width="1.2"/>
<line x1="155.8" y1="268.7" x2="155.8" y2="287.9" stroke="#3d2ea0" stroke-width="1.1"/>
<line x1="153.5" y1="287.9" x2="158.1" y2="287.9" stroke="#3d2ea0" stroke-width="1.2"/>
<line x1="166.5" y1="248.5" x2="166.5" y2="268.7" stroke="#3d2ea0" stroke-width="1.1"/>
<line x1="164.2" y1="248.5" x2="168.8" y2="248.5" stroke="#3d2ea0" stroke-width="1.2"/>
<line x1="166.5" y1="268.7" x2="166.5" y2="287.9" stroke="#3d2ea0" stroke-width="1.1"/>
<line x1="164.2" y1="287.9" x2="168.8" y2="287.9" stroke="#3d2ea0" stroke-width="1.2"/>
<line x1="208.9" y1="248.5" x2="208.9" y2="268.7" stroke="#3d2ea0" stroke-width="1.1"/>
<line x1="206.6" y1="248.5" x2="211.2" y2="248.5" stroke="#3d2ea0" stroke-width="1.2"/>
<line x1="208.9" y1="268.7" x2="208.9" y2="287.9" stroke="#3d2ea0" stroke-width="1.1"/>
<line x1="206.6" y1="287.9" x2="211.2" y2="287.9" stroke="#3d2ea0" stroke-width="1.2"/>
<line x1="49.2" y1="244.6" x2="49.2" y2="268.2" stroke="#e2261c" stroke-width="1.1"/>
<line x1="46.9" y1="244.6" x2="51.5" y2="244.6" stroke="#e2261c" stroke-width="1.2"/>
<line x1="49.2" y1="268.2" x2="49.2" y2="291.3" stroke="#e2261c" stroke-width="1.1"/>
<line x1="46.9" y1="291.3" x2="51.5" y2="291.3" stroke="#e2261c" stroke-width="1.2"/>
<line x1="87.2" y1="245.4" x2="87.2" y2="268.2" stroke="#e2261c" stroke-width="1.1"/>
<line x1="84.9" y1="245.4" x2="89.5" y2="245.4" stroke="#e2261c" stroke-width="1.2"/>
<line x1="87.2" y1="268.2" x2="87.2" y2="291" stroke="#e2261c" stroke-width="1.1"/>
<line x1="84.9" y1="291" x2="89.5" y2="291" stroke="#e2261c" stroke-width="1.2"/>
<line x1="92.3" y1="245.4" x2="92.3" y2="268.2" stroke="#e2261c" stroke-width="1.1"/>
<line x1="90" y1="245.4" x2="94.6" y2="245.4" stroke="#e2261c" stroke-width="1.2"/>
<line x1="92.3" y1="268.2" x2="92.3" y2="291" stroke="#e2261c" stroke-width="1.1"/>
<line x1="90" y1="291" x2="94.6" y2="291" stroke="#e2261c" stroke-width="1.2"/>
<line x1="97.7" y1="245.4" x2="97.7" y2="268.2" stroke="#e2261c" stroke-width="1.1"/>
<line x1="95.4" y1="245.4" x2="100" y2="245.4" stroke="#e2261c" stroke-width="1.2"/>
<line x1="97.7" y1="268.2" x2="97.7" y2="291" stroke="#e2261c" stroke-width="1.1"/>
<line x1="95.4" y1="291" x2="100" y2="291" stroke="#e2261c" stroke-width="1.2"/>
<line x1="103.4" y1="245.4" x2="103.4" y2="268.2" stroke="#e2261c" stroke-width="1.1"/>
<line x1="101.1" y1="245.4" x2="105.7" y2="245.4" stroke="#e2261c" stroke-width="1.2"/>
<line x1="103.4" y1="268.2" x2="103.4" y2="291" stroke="#e2261c" stroke-width="1.1"/>
<line x1="101.1" y1="291" x2="105.7" y2="291" stroke="#e2261c" stroke-width="1.2"/>
<line x1="125.1" y1="246.7" x2="125.1" y2="268.2" stroke="#e2261c" stroke-width="1.1"/>
<line x1="122.8" y1="246.7" x2="127.4" y2="246.7" stroke="#e2261c" stroke-width="1.2"/>
<line x1="125.1" y1="268.2" x2="125.1" y2="291.4" stroke="#e2261c" stroke-width="1.1"/>
<line x1="122.8" y1="291.4" x2="127.4" y2="291.4" stroke="#e2261c" stroke-width="1.2"/>
<line x1="134" y1="248.5" x2="134" y2="270.5" stroke="#e2261c" stroke-width="1.1"/>
<line x1="131.7" y1="248.5" x2="136.3" y2="248.5" stroke="#e2261c" stroke-width="1.2"/>
<line x1="134" y1="270.5" x2="134" y2="292.7" stroke="#e2261c" stroke-width="1.1"/>
<line x1="131.7" y1="292.7" x2="136.3" y2="292.7" stroke="#e2261c" stroke-width="1.2"/>
<line x1="155.8" y1="248.5" x2="155.8" y2="270.8" stroke="#e2261c" stroke-width="1.1"/>
<line x1="153.5" y1="248.5" x2="158.1" y2="248.5" stroke="#e2261c" stroke-width="1.2"/>
<line x1="155.8" y1="270.8" x2="155.8" y2="292.7" stroke="#e2261c" stroke-width="1.1"/>
<line x1="153.5" y1="292.7" x2="158.1" y2="292.7" stroke="#e2261c" stroke-width="1.2"/>
<line x1="166.5" y1="248.5" x2="166.5" y2="271" stroke="#e2261c" stroke-width="1.1"/>
<line x1="164.2" y1="248.5" x2="168.8" y2="248.5" stroke="#e2261c" stroke-width="1.2"/>
<line x1="166.5" y1="271" x2="166.5" y2="292.7" stroke="#e2261c" stroke-width="1.1"/>
<line x1="164.2" y1="292.7" x2="168.8" y2="292.7" stroke="#e2261c" stroke-width="1.2"/>
<line x1="208.9" y1="248.5" x2="208.9" y2="271.4" stroke="#e2261c" stroke-width="1.1"/>
<line x1="206.6" y1="248.5" x2="211.2" y2="248.5" stroke="#e2261c" stroke-width="1.2"/>
<line x1="208.9" y1="271.4" x2="208.9" y2="292.7" stroke="#e2261c" stroke-width="1.1"/>
<line x1="206.6" y1="292.7" x2="211.2" y2="292.7" stroke="#e2261c" stroke-width="1.2"/>
<line x1="49.2" y1="247.2" x2="49.2" y2="265.2" stroke="#f7d800" stroke-width="1.9"/>
<line x1="46.9" y1="247.2" x2="51.5" y2="247.2" stroke="#f7d800" stroke-width="1.2"/>
<line x1="49.2" y1="265.2" x2="49.2" y2="281.7" stroke="#f7d800" stroke-width="1.9"/>
<line x1="46.9" y1="281.7" x2="51.5" y2="281.7" stroke="#f7d800" stroke-width="1.2"/>
<line x1="87.2" y1="249.1" x2="87.2" y2="264.3" stroke="#f7d800" stroke-width="1.9"/>
<line x1="84.9" y1="249.1" x2="89.5" y2="249.1" stroke="#f7d800" stroke-width="1.2"/>
<line x1="87.2" y1="264.3" x2="87.2" y2="278.6" stroke="#f7d800" stroke-width="1.9"/>
<line x1="84.9" y1="278.6" x2="89.5" y2="278.6" stroke="#f7d800" stroke-width="1.2"/>
<line x1="92.3" y1="250.8" x2="92.3" y2="267.3" stroke="#f7d800" stroke-width="1.9"/>
<line x1="90" y1="250.8" x2="94.6" y2="250.8" stroke="#f7d800" stroke-width="1.2"/>
<line x1="92.3" y1="267.3" x2="92.3" y2="281.2" stroke="#f7d800" stroke-width="1.9"/>
<line x1="90" y1="281.2" x2="94.6" y2="281.2" stroke="#f7d800" stroke-width="1.2"/>
<line x1="97.7" y1="250.5" x2="97.7" y2="265.3" stroke="#f7d800" stroke-width="1.9"/>
<line x1="95.4" y1="250.5" x2="100" y2="250.5" stroke="#f7d800" stroke-width="1.2"/>
<line x1="97.7" y1="265.3" x2="97.7" y2="281.2" stroke="#f7d800" stroke-width="1.9"/>
<line x1="95.4" y1="281.2" x2="100" y2="281.2" stroke="#f7d800" stroke-width="1.2"/>
<line x1="103.4" y1="251" x2="103.4" y2="267" stroke="#f7d800" stroke-width="1.9"/>
<line x1="101.1" y1="251" x2="105.7" y2="251" stroke="#f7d800" stroke-width="1.2"/>
<line x1="103.4" y1="267" x2="103.4" y2="281.2" stroke="#f7d800" stroke-width="1.9"/>
<line x1="101.1" y1="281.2" x2="105.7" y2="281.2" stroke="#f7d800" stroke-width="1.2"/>
<line x1="125.1" y1="250" x2="125.1" y2="265.8" stroke="#f7d800" stroke-width="1.9"/>
<line x1="122.8" y1="250" x2="127.4" y2="250" stroke="#f7d800" stroke-width="1.2"/>
<line x1="125.1" y1="265.8" x2="125.1" y2="281.2" stroke="#f7d800" stroke-width="1.9"/>
<line x1="122.8" y1="281.2" x2="127.4" y2="281.2" stroke="#f7d800" stroke-width="1.2"/>
<line x1="134" y1="251.5" x2="134" y2="267" stroke="#f7d800" stroke-width="1.9"/>
<line x1="131.7" y1="251.5" x2="136.3" y2="251.5" stroke="#f7d800" stroke-width="1.2"/>
<line x1="134" y1="267" x2="134" y2="281.3" stroke="#f7d800" stroke-width="1.9"/>
<line x1="131.7" y1="281.3" x2="136.3" y2="281.3" stroke="#f7d800" stroke-width="1.2"/>
<line x1="155.8" y1="251.5" x2="155.8" y2="267.3" stroke="#f7d800" stroke-width="1.9"/>
<line x1="153.5" y1="251.5" x2="158.1" y2="251.5" stroke="#f7d800" stroke-width="1.2"/>
<line x1="155.8" y1="267.3" x2="155.8" y2="281.3" stroke="#f7d800" stroke-width="1.9"/>
<line x1="153.5" y1="281.3" x2="158.1" y2="281.3" stroke="#f7d800" stroke-width="1.2"/>
<line x1="166.5" y1="251.5" x2="166.5" y2="267.5" stroke="#f7d800" stroke-width="1.9"/>
<line x1="164.2" y1="251.5" x2="168.8" y2="251.5" stroke="#f7d800" stroke-width="1.2"/>
<line x1="166.5" y1="267.5" x2="166.5" y2="281.3" stroke="#f7d800" stroke-width="1.9"/>
<line x1="164.2" y1="281.3" x2="168.8" y2="281.3" stroke="#f7d800" stroke-width="1.2"/>
<line x1="208.9" y1="251.5" x2="208.9" y2="267.5" stroke="#f7d800" stroke-width="1.9"/>
<line x1="206.6" y1="251.5" x2="211.2" y2="251.5" stroke="#f7d800" stroke-width="1.2"/>
<line x1="208.9" y1="267.5" x2="208.9" y2="281.3" stroke="#f7d800" stroke-width="1.9"/>
<line x1="206.6" y1="281.3" x2="211.2" y2="281.3" stroke="#f7d800" stroke-width="1.2"/>
<line x1="279.3" y1="246.8" x2="279.3" y2="259.3" stroke="#3d2ea0" stroke-width="1.1"/>
<line x1="277" y1="246.8" x2="281.6" y2="246.8" stroke="#3d2ea0" stroke-width="1.2"/>
<line x1="279.3" y1="259.3" x2="279.3" y2="272.1" stroke="#3d2ea0" stroke-width="1.1"/>
<line x1="277" y1="272.1" x2="281.6" y2="272.1" stroke="#3d2ea0" stroke-width="1.2"/>
<line x1="313.4" y1="247.5" x2="313.4" y2="259.8" stroke="#3d2ea0" stroke-width="1.1"/>
<line x1="311.1" y1="247.5" x2="315.7" y2="247.5" stroke="#3d2ea0" stroke-width="1.2"/>
<line x1="313.4" y1="259.8" x2="313.4" y2="272.1" stroke="#3d2ea0" stroke-width="1.1"/>
<line x1="311.1" y1="272.1" x2="315.7" y2="272.1" stroke="#3d2ea0" stroke-width="1.2"/>
<line x1="324.7" y1="249.7" x2="324.7" y2="260.9" stroke="#3d2ea0" stroke-width="1.1"/>
<line x1="322.4" y1="249.7" x2="327" y2="249.7" stroke="#3d2ea0" stroke-width="1.2"/>
<line x1="324.7" y1="260.9" x2="324.7" y2="272" stroke="#3d2ea0" stroke-width="1.1"/>
<line x1="322.4" y1="272" x2="327" y2="272" stroke="#3d2ea0" stroke-width="1.2"/>
<line x1="336.1" y1="248.5" x2="336.1" y2="260.5" stroke="#3d2ea0" stroke-width="1.1"/>
<line x1="333.8" y1="248.5" x2="338.4" y2="248.5" stroke="#3d2ea0" stroke-width="1.2"/>
<line x1="336.1" y1="260.5" x2="336.1" y2="272" stroke="#3d2ea0" stroke-width="1.1"/>
<line x1="333.8" y1="272" x2="338.4" y2="272" stroke="#3d2ea0" stroke-width="1.2"/>
<line x1="347.4" y1="248" x2="347.4" y2="260.5" stroke="#3d2ea0" stroke-width="1.1"/>
<line x1="345.1" y1="248" x2="349.7" y2="248" stroke="#3d2ea0" stroke-width="1.2"/>
<line x1="347.4" y1="260.5" x2="347.4" y2="272.5" stroke="#3d2ea0" stroke-width="1.1"/>
<line x1="345.1" y1="272.5" x2="349.7" y2="272.5" stroke="#3d2ea0" stroke-width="1.2"/>
<line x1="392.8" y1="248.2" x2="392.8" y2="260.4" stroke="#3d2ea0" stroke-width="1.1"/>
<line x1="390.5" y1="248.2" x2="395.1" y2="248.2" stroke="#3d2ea0" stroke-width="1.2"/>
<line x1="392.8" y1="260.4" x2="392.8" y2="272.5" stroke="#3d2ea0" stroke-width="1.1"/>
<line x1="390.5" y1="272.5" x2="395.1" y2="272.5" stroke="#3d2ea0" stroke-width="1.2"/>
<line x1="402.3" y1="246.3" x2="402.3" y2="259.1" stroke="#3d2ea0" stroke-width="1.1"/>
<line x1="400" y1="246.3" x2="404.6" y2="246.3" stroke="#3d2ea0" stroke-width="1.2"/>
<line x1="402.3" y1="259.1" x2="402.3" y2="271.9" stroke="#3d2ea0" stroke-width="1.1"/>
<line x1="400" y1="271.9" x2="404.6" y2="271.9" stroke="#3d2ea0" stroke-width="1.2"/>
<line x1="440" y1="247.8" x2="440" y2="260" stroke="#3d2ea0" stroke-width="1.1"/>
<line x1="437.7" y1="247.8" x2="442.3" y2="247.8" stroke="#3d2ea0" stroke-width="1.2"/>
<line x1="440" y1="260" x2="440" y2="272.3" stroke="#3d2ea0" stroke-width="1.1"/>
<line x1="437.7" y1="272.3" x2="442.3" y2="272.3" stroke="#3d2ea0" stroke-width="1.2"/>
<line x1="279.3" y1="249.7" x2="279.3" y2="268.3" stroke="#1a1a1a" stroke-width="1.1"/>
<line x1="277" y1="249.7" x2="281.6" y2="249.7" stroke="#1a1a1a" stroke-width="1.2"/>
<line x1="279.3" y1="268.3" x2="279.3" y2="288.8" stroke="#1a1a1a" stroke-width="1.1"/>
<line x1="277" y1="288.8" x2="281.6" y2="288.8" stroke="#1a1a1a" stroke-width="1.2"/>
<line x1="313.4" y1="251.3" x2="313.4" y2="269.4" stroke="#1a1a1a" stroke-width="1.1"/>
<line x1="311.1" y1="251.3" x2="315.7" y2="251.3" stroke="#1a1a1a" stroke-width="1.2"/>
<line x1="313.4" y1="269.4" x2="313.4" y2="288.4" stroke="#1a1a1a" stroke-width="1.1"/>
<line x1="311.1" y1="288.4" x2="315.7" y2="288.4" stroke="#1a1a1a" stroke-width="1.2"/>
<line x1="324.7" y1="252.6" x2="324.7" y2="269.6" stroke="#1a1a1a" stroke-width="1.1"/>
<line x1="322.4" y1="252.6" x2="327" y2="252.6" stroke="#1a1a1a" stroke-width="1.2"/>
<line x1="324.7" y1="269.6" x2="324.7" y2="287.7" stroke="#1a1a1a" stroke-width="1.1"/>
<line x1="322.4" y1="287.7" x2="327" y2="287.7" stroke="#1a1a1a" stroke-width="1.2"/>
<line x1="336.1" y1="252.5" x2="336.1" y2="269.6" stroke="#1a1a1a" stroke-width="1.1"/>
<line x1="333.8" y1="252.5" x2="338.4" y2="252.5" stroke="#1a1a1a" stroke-width="1.2"/>
<line x1="336.1" y1="269.6" x2="336.1" y2="287.7" stroke="#1a1a1a" stroke-width="1.1"/>
<line x1="333.8" y1="287.7" x2="338.4" y2="287.7" stroke="#1a1a1a" stroke-width="1.2"/>
<line x1="347.4" y1="252.5" x2="347.4" y2="269.6" stroke="#1a1a1a" stroke-width="1.1"/>
<line x1="345.1" y1="252.5" x2="349.7" y2="252.5" stroke="#1a1a1a" stroke-width="1.2"/>
<line x1="347.4" y1="269.6" x2="347.4" y2="288" stroke="#1a1a1a" stroke-width="1.1"/>
<line x1="345.1" y1="288" x2="349.7" y2="288" stroke="#1a1a1a" stroke-width="1.2"/>
<line x1="392.8" y1="252.2" x2="392.8" y2="269.9" stroke="#1a1a1a" stroke-width="1.1"/>
<line x1="390.5" y1="252.2" x2="395.1" y2="252.2" stroke="#1a1a1a" stroke-width="1.2"/>
<line x1="392.8" y1="269.9" x2="392.8" y2="288.6" stroke="#1a1a1a" stroke-width="1.1"/>
<line x1="390.5" y1="288.6" x2="395.1" y2="288.6" stroke="#1a1a1a" stroke-width="1.2"/>
<line x1="402.3" y1="251.6" x2="402.3" y2="269.5" stroke="#1a1a1a" stroke-width="1.1"/>
<line x1="400" y1="251.6" x2="404.6" y2="251.6" stroke="#1a1a1a" stroke-width="1.2"/>
<line x1="402.3" y1="269.5" x2="402.3" y2="288.6" stroke="#1a1a1a" stroke-width="1.1"/>
<line x1="400" y1="288.6" x2="404.6" y2="288.6" stroke="#1a1a1a" stroke-width="1.2"/>
<line x1="440" y1="251.8" x2="440" y2="269.5" stroke="#1a1a1a" stroke-width="1.1"/>
<line x1="437.7" y1="251.8" x2="442.3" y2="251.8" stroke="#1a1a1a" stroke-width="1.2"/>
<line x1="440" y1="269.5" x2="440" y2="288.6" stroke="#1a1a1a" stroke-width="1.1"/>
<line x1="437.7" y1="288.6" x2="442.3" y2="288.6" stroke="#1a1a1a" stroke-width="1.2"/>
<line x1="518.3" y1="267.4" x2="518.3" y2="274.5" stroke="#e2261c" stroke-width="1.1"/>
<line x1="516" y1="267.4" x2="520.6" y2="267.4" stroke="#e2261c" stroke-width="1.2"/>
<line x1="518.3" y1="274.5" x2="518.3" y2="282.3" stroke="#e2261c" stroke-width="1.1"/>
<line x1="516" y1="282.3" x2="520.6" y2="282.3" stroke="#e2261c" stroke-width="1.2"/>
<line x1="534.6" y1="265" x2="534.6" y2="268.3" stroke="#e2261c" stroke-width="1.1"/>
<line x1="532.3" y1="265" x2="536.9" y2="265" stroke="#e2261c" stroke-width="1.2"/>
<line x1="534.6" y1="268.3" x2="534.6" y2="271.3" stroke="#e2261c" stroke-width="1.1"/>
<line x1="532.3" y1="271.3" x2="536.9" y2="271.3" stroke="#e2261c" stroke-width="1.2"/>
<line x1="561.7" y1="273" x2="561.7" y2="279.3" stroke="#e2261c" stroke-width="1.1"/>
<line x1="559.4" y1="273" x2="564" y2="273" stroke="#e2261c" stroke-width="1.2"/>
<line x1="561.7" y1="279.3" x2="561.7" y2="285.5" stroke="#e2261c" stroke-width="1.1"/>
<line x1="559.4" y1="285.5" x2="564" y2="285.5" stroke="#e2261c" stroke-width="1.2"/>
<line x1="567.2" y1="267.7" x2="567.2" y2="274" stroke="#e2261c" stroke-width="1.1"/>
<line x1="564.9" y1="267.7" x2="569.5" y2="267.7" stroke="#e2261c" stroke-width="1.2"/>
<line x1="567.2" y1="274" x2="567.2" y2="279.8" stroke="#e2261c" stroke-width="1.1"/>
<line x1="564.9" y1="279.8" x2="569.5" y2="279.8" stroke="#e2261c" stroke-width="1.2"/>
<line x1="572.6" y1="267" x2="572.6" y2="273" stroke="#e2261c" stroke-width="1.1"/>
<line x1="570.3" y1="267" x2="574.9" y2="267" stroke="#e2261c" stroke-width="1.2"/>
<line x1="572.6" y1="273" x2="572.6" y2="279" stroke="#e2261c" stroke-width="1.1"/>
<line x1="570.3" y1="279" x2="574.9" y2="279" stroke="#e2261c" stroke-width="1.2"/>
<line x1="594.3" y1="257" x2="594.3" y2="260.6" stroke="#e2261c" stroke-width="1.1"/>
<line x1="592" y1="257" x2="596.6" y2="257" stroke="#e2261c" stroke-width="1.2"/>
<line x1="594.3" y1="260.6" x2="594.3" y2="267.7" stroke="#e2261c" stroke-width="1.1"/>
<line x1="592" y1="267.7" x2="596.6" y2="267.7" stroke="#e2261c" stroke-width="1.2"/>
<line x1="603.1" y1="248" x2="603.1" y2="254.1" stroke="#e2261c" stroke-width="1.1"/>
<line x1="600.8" y1="248" x2="605.4" y2="248" stroke="#e2261c" stroke-width="1.2"/>
<line x1="603.1" y1="254.1" x2="603.1" y2="262" stroke="#e2261c" stroke-width="1.1"/>
<line x1="600.8" y1="262" x2="605.4" y2="262" stroke="#e2261c" stroke-width="1.2"/>
<line x1="621" y1="240" x2="621" y2="246.4" stroke="#e2261c" stroke-width="1.1"/>
<line x1="618.7" y1="240" x2="623.3" y2="240" stroke="#e2261c" stroke-width="1.2"/>
<line x1="621" y1="246.4" x2="621" y2="252" stroke="#e2261c" stroke-width="1.1"/>
<line x1="618.7" y1="252" x2="623.3" y2="252" stroke="#e2261c" stroke-width="1.2"/>
<line x1="624.5" y1="248" x2="624.5" y2="252.1" stroke="#e2261c" stroke-width="1.1"/>
<line x1="622.2" y1="248" x2="626.8" y2="248" stroke="#e2261c" stroke-width="1.2"/>
<line x1="624.5" y1="252.1" x2="624.5" y2="256" stroke="#e2261c" stroke-width="1.1"/>
<line x1="622.2" y1="256" x2="626.8" y2="256" stroke="#e2261c" stroke-width="1.2"/>
<line x1="627" y1="248" x2="627" y2="251.8" stroke="#e2261c" stroke-width="1.1"/>
<line x1="624.7" y1="248" x2="629.3" y2="248" stroke="#e2261c" stroke-width="1.2"/>
<line x1="627" y1="251.8" x2="627" y2="256" stroke="#e2261c" stroke-width="1.1"/>
<line x1="624.7" y1="256" x2="629.3" y2="256" stroke="#e2261c" stroke-width="1.2"/>
<line x1="637.3" y1="232" x2="637.3" y2="238.5" stroke="#e2261c" stroke-width="1.1"/>
<line x1="635" y1="232" x2="639.6" y2="232" stroke="#e2261c" stroke-width="1.2"/>
<line x1="637.3" y1="238.5" x2="637.3" y2="244" stroke="#e2261c" stroke-width="1.1"/>
<line x1="635" y1="244" x2="639.6" y2="244" stroke="#e2261c" stroke-width="1.2"/>
<line x1="655.9" y1="231" x2="655.9" y2="236.3" stroke="#e2261c" stroke-width="1.1"/>
<line x1="653.6" y1="231" x2="658.2" y2="231" stroke="#e2261c" stroke-width="1.2"/>
<line x1="655.9" y1="236.3" x2="655.9" y2="241" stroke="#e2261c" stroke-width="1.1"/>
<line x1="653.6" y1="241" x2="658.2" y2="241" stroke="#e2261c" stroke-width="1.2"/>
<line x1="674.5" y1="226" x2="674.5" y2="231" stroke="#e2261c" stroke-width="1.1"/>
<line x1="672.2" y1="226" x2="676.8" y2="226" stroke="#e2261c" stroke-width="1.2"/>
<line x1="674.5" y1="231" x2="674.5" y2="236" stroke="#e2261c" stroke-width="1.1"/>
<line x1="672.2" y1="236" x2="676.8" y2="236" stroke="#e2261c" stroke-width="1.2"/>
<line x1="518.3" y1="259.2" x2="518.3" y2="276.6" stroke="#19a05a" stroke-width="1.1"/>
<line x1="516" y1="259.2" x2="520.6" y2="259.2" stroke="#19a05a" stroke-width="1.2"/>
<line x1="518.3" y1="276.6" x2="518.3" y2="294" stroke="#19a05a" stroke-width="1.1"/>
<line x1="516" y1="294" x2="520.6" y2="294" stroke="#19a05a" stroke-width="1.2"/>
<line x1="534.6" y1="258.3" x2="534.6" y2="271.6" stroke="#19a05a" stroke-width="1.1"/>
<line x1="532.3" y1="258.3" x2="536.9" y2="258.3" stroke="#19a05a" stroke-width="1.2"/>
<line x1="534.6" y1="271.6" x2="534.6" y2="285.5" stroke="#19a05a" stroke-width="1.1"/>
<line x1="532.3" y1="285.5" x2="536.9" y2="285.5" stroke="#19a05a" stroke-width="1.2"/>
<line x1="561.7" y1="255.7" x2="561.7" y2="267.7" stroke="#19a05a" stroke-width="1.1"/>
<line x1="559.4" y1="255.7" x2="564" y2="255.7" stroke="#19a05a" stroke-width="1.2"/>
<line x1="561.7" y1="267.7" x2="561.7" y2="279.3" stroke="#19a05a" stroke-width="1.1"/>
<line x1="559.4" y1="279.3" x2="564" y2="279.3" stroke="#19a05a" stroke-width="1.2"/>
<line x1="567.2" y1="246.1" x2="567.2" y2="259.4" stroke="#19a05a" stroke-width="1.1"/>
<line x1="564.9" y1="246.1" x2="569.5" y2="246.1" stroke="#19a05a" stroke-width="1.2"/>
<line x1="567.2" y1="259.4" x2="567.2" y2="273" stroke="#19a05a" stroke-width="1.1"/>
<line x1="564.9" y1="273" x2="569.5" y2="273" stroke="#19a05a" stroke-width="1.2"/>
<line x1="572.6" y1="249.5" x2="572.6" y2="263" stroke="#19a05a" stroke-width="1.1"/>
<line x1="570.3" y1="249.5" x2="574.9" y2="249.5" stroke="#19a05a" stroke-width="1.2"/>
<line x1="572.6" y1="263" x2="572.6" y2="276.6" stroke="#19a05a" stroke-width="1.1"/>
<line x1="570.3" y1="276.6" x2="574.9" y2="276.6" stroke="#19a05a" stroke-width="1.2"/>
<line x1="594.3" y1="239.7" x2="594.3" y2="253.5" stroke="#19a05a" stroke-width="1.1"/>
<line x1="592" y1="239.7" x2="596.6" y2="239.7" stroke="#19a05a" stroke-width="1.2"/>
<line x1="594.3" y1="253.5" x2="594.3" y2="267.4" stroke="#19a05a" stroke-width="1.1"/>
<line x1="592" y1="267.4" x2="596.6" y2="267.4" stroke="#19a05a" stroke-width="1.2"/>
<line x1="603.1" y1="236.2" x2="603.1" y2="247.9" stroke="#19a05a" stroke-width="1.1"/>
<line x1="600.8" y1="236.2" x2="605.4" y2="236.2" stroke="#19a05a" stroke-width="1.2"/>
<line x1="603.1" y1="247.9" x2="603.1" y2="259.2" stroke="#19a05a" stroke-width="1.1"/>
<line x1="600.8" y1="259.2" x2="605.4" y2="259.2" stroke="#19a05a" stroke-width="1.2"/>
<line x1="621.3" y1="227" x2="621.3" y2="237.6" stroke="#19a05a" stroke-width="1.1"/>
<line x1="619" y1="227" x2="623.6" y2="227" stroke="#19a05a" stroke-width="1.2"/>
<line x1="621.3" y1="237.6" x2="621.3" y2="248" stroke="#19a05a" stroke-width="1.1"/>
<line x1="619" y1="248" x2="623.6" y2="248" stroke="#19a05a" stroke-width="1.2"/>
<line x1="624.4" y1="224" x2="624.4" y2="235.4" stroke="#19a05a" stroke-width="1.1"/>
<line x1="622.1" y1="224" x2="626.7" y2="224" stroke="#19a05a" stroke-width="1.2"/>
<line x1="624.4" y1="235.4" x2="624.4" y2="246" stroke="#19a05a" stroke-width="1.1"/>
<line x1="622.1" y1="246" x2="626.7" y2="246" stroke="#19a05a" stroke-width="1.2"/>
<line x1="627" y1="226" x2="627" y2="238" stroke="#19a05a" stroke-width="1.1"/>
<line x1="624.7" y1="226" x2="629.3" y2="226" stroke="#19a05a" stroke-width="1.2"/>
<line x1="627" y1="238" x2="627" y2="249" stroke="#19a05a" stroke-width="1.1"/>
<line x1="624.7" y1="249" x2="629.3" y2="249" stroke="#19a05a" stroke-width="1.2"/>
<line x1="637.3" y1="217.2" x2="637.3" y2="228.7" stroke="#19a05a" stroke-width="1.1"/>
<line x1="635" y1="217.2" x2="639.6" y2="217.2" stroke="#19a05a" stroke-width="1.2"/>
<line x1="637.3" y1="228.7" x2="637.3" y2="238.5" stroke="#19a05a" stroke-width="1.1"/>
<line x1="635" y1="238.5" x2="639.6" y2="238.5" stroke="#19a05a" stroke-width="1.2"/>
<line x1="655.9" y1="216.3" x2="655.9" y2="227.8" stroke="#19a05a" stroke-width="1.1"/>
<line x1="653.6" y1="216.3" x2="658.2" y2="216.3" stroke="#19a05a" stroke-width="1.2"/>
<line x1="655.9" y1="227.8" x2="655.9" y2="236.7" stroke="#19a05a" stroke-width="1.1"/>
<line x1="653.6" y1="236.7" x2="658.2" y2="236.7" stroke="#19a05a" stroke-width="1.2"/>
<line x1="674.5" y1="218.4" x2="674.5" y2="230.5" stroke="#19a05a" stroke-width="1.1"/>
<line x1="672.2" y1="218.4" x2="676.8" y2="218.4" stroke="#19a05a" stroke-width="1.2"/>
<line x1="674.5" y1="230.5" x2="674.5" y2="241.5" stroke="#19a05a" stroke-width="1.1"/>
<line x1="672.2" y1="241.5" x2="676.8" y2="241.5" stroke="#19a05a" stroke-width="1.2"/>
<line x1="53.4" y1="440.4" x2="53.4" y2="458.5" stroke="#3d2ea0" stroke-width="1.1"/>
<line x1="51.1" y1="440.4" x2="55.7" y2="440.4" stroke="#3d2ea0" stroke-width="1.2"/>
<line x1="53.4" y1="458.5" x2="53.4" y2="476" stroke="#3d2ea0" stroke-width="1.1"/>
<line x1="51.1" y1="476" x2="55.7" y2="476" stroke="#3d2ea0" stroke-width="1.2"/>
<line x1="75.7" y1="421.7" x2="75.7" y2="447.4" stroke="#3d2ea0" stroke-width="1.1"/>
<line x1="73.4" y1="421.7" x2="78" y2="421.7" stroke="#3d2ea0" stroke-width="1.2"/>
<line x1="75.7" y1="447.4" x2="75.7" y2="473" stroke="#3d2ea0" stroke-width="1.1"/>
<line x1="73.4" y1="473" x2="78" y2="473" stroke="#3d2ea0" stroke-width="1.2"/>
<line x1="97" y1="460.8" x2="97" y2="468.7" stroke="#3d2ea0" stroke-width="1.1"/>
<line x1="94.7" y1="460.8" x2="99.3" y2="460.8" stroke="#3d2ea0" stroke-width="1.2"/>
<line x1="97" y1="468.7" x2="97" y2="476.5" stroke="#3d2ea0" stroke-width="1.1"/>
<line x1="94.7" y1="476.5" x2="99.3" y2="476.5" stroke="#3d2ea0" stroke-width="1.2"/>
<line x1="102.5" y1="455" x2="102.5" y2="462.7" stroke="#3d2ea0" stroke-width="1.1"/>
<line x1="100.2" y1="455" x2="104.8" y2="455" stroke="#3d2ea0" stroke-width="1.2"/>
<line x1="102.5" y1="462.7" x2="102.5" y2="470" stroke="#3d2ea0" stroke-width="1.1"/>
<line x1="100.2" y1="470" x2="104.8" y2="470" stroke="#3d2ea0" stroke-width="1.2"/>
<line x1="107.6" y1="460.8" x2="107.6" y2="468.7" stroke="#3d2ea0" stroke-width="1.1"/>
<line x1="105.3" y1="460.8" x2="109.9" y2="460.8" stroke="#3d2ea0" stroke-width="1.2"/>
<line x1="107.6" y1="468.7" x2="107.6" y2="476.5" stroke="#3d2ea0" stroke-width="1.1"/>
<line x1="105.3" y1="476.5" x2="109.9" y2="476.5" stroke="#3d2ea0" stroke-width="1.2"/>
<line x1="129.2" y1="455.9" x2="129.2" y2="467.6" stroke="#3d2ea0" stroke-width="1.1"/>
<line x1="126.9" y1="455.9" x2="131.5" y2="455.9" stroke="#3d2ea0" stroke-width="1.2"/>
<line x1="129.2" y1="467.6" x2="129.2" y2="480.1" stroke="#3d2ea0" stroke-width="1.1"/>
<line x1="126.9" y1="480.1" x2="131.5" y2="480.1" stroke="#3d2ea0" stroke-width="1.2"/>
<line x1="138.7" y1="463.3" x2="138.7" y2="474.2" stroke="#3d2ea0" stroke-width="1.1"/>
<line x1="136.4" y1="463.3" x2="141" y2="463.3" stroke="#3d2ea0" stroke-width="1.2"/>
<line x1="138.7" y1="474.2" x2="138.7" y2="485" stroke="#3d2ea0" stroke-width="1.1"/>
<line x1="136.4" y1="485" x2="141" y2="485" stroke="#3d2ea0" stroke-width="1.2"/>
<line x1="150" y1="462.9" x2="150" y2="470.5" stroke="#3d2ea0" stroke-width="1.1"/>
<line x1="147.7" y1="462.9" x2="152.3" y2="462.9" stroke="#3d2ea0" stroke-width="1.2"/>
<line x1="150" y1="470.5" x2="150" y2="477" stroke="#3d2ea0" stroke-width="1.1"/>
<line x1="147.7" y1="477" x2="152.3" y2="477" stroke="#3d2ea0" stroke-width="1.2"/>
<line x1="160.4" y1="470.5" x2="160.4" y2="477" stroke="#3d2ea0" stroke-width="1.1"/>
<line x1="158.1" y1="470.5" x2="162.7" y2="470.5" stroke="#3d2ea0" stroke-width="1.2"/>
<line x1="160.4" y1="477" x2="160.4" y2="484.6" stroke="#3d2ea0" stroke-width="1.1"/>
<line x1="158.1" y1="484.6" x2="162.7" y2="484.6" stroke="#3d2ea0" stroke-width="1.2"/>
<line x1="171.2" y1="465" x2="171.2" y2="471.1" stroke="#3d2ea0" stroke-width="1.1"/>
<line x1="168.9" y1="465" x2="173.5" y2="465" stroke="#3d2ea0" stroke-width="1.2"/>
<line x1="171.2" y1="471.1" x2="171.2" y2="477" stroke="#3d2ea0" stroke-width="1.1"/>
<line x1="168.9" y1="477" x2="173.5" y2="477" stroke="#3d2ea0" stroke-width="1.2"/>
<line x1="214" y1="455.9" x2="214" y2="471.1" stroke="#3d2ea0" stroke-width="1.1"/>
<line x1="211.7" y1="455.9" x2="216.3" y2="455.9" stroke="#3d2ea0" stroke-width="1.2"/>
<line x1="214" y1="471.1" x2="214" y2="486.7" stroke="#3d2ea0" stroke-width="1.1"/>
<line x1="211.7" y1="486.7" x2="216.3" y2="486.7" stroke="#3d2ea0" stroke-width="1.2"/>
<line x1="53.4" y1="483" x2="53.4" y2="486.5" stroke="#e2261c" stroke-width="1.1"/>
<line x1="51.1" y1="483" x2="55.7" y2="483" stroke="#e2261c" stroke-width="1.2"/>
<line x1="53.4" y1="486.5" x2="53.4" y2="490" stroke="#e2261c" stroke-width="1.1"/>
<line x1="51.1" y1="490" x2="55.7" y2="490" stroke="#e2261c" stroke-width="1.2"/>
<line x1="75.7" y1="464.6" x2="75.7" y2="472.6" stroke="#e2261c" stroke-width="1.1"/>
<line x1="73.4" y1="464.6" x2="78" y2="464.6" stroke="#e2261c" stroke-width="1.2"/>
<line x1="75.7" y1="472.6" x2="75.7" y2="480" stroke="#e2261c" stroke-width="1.1"/>
<line x1="73.4" y1="480" x2="78" y2="480" stroke="#e2261c" stroke-width="1.2"/>
<line x1="97" y1="453.5" x2="97" y2="457.7" stroke="#e2261c" stroke-width="1.1"/>
<line x1="94.7" y1="453.5" x2="99.3" y2="453.5" stroke="#e2261c" stroke-width="1.2"/>
<line x1="97" y1="457.7" x2="97" y2="460.8" stroke="#e2261c" stroke-width="1.1"/>
<line x1="94.7" y1="460.8" x2="99.3" y2="460.8" stroke="#e2261c" stroke-width="1.2"/>
<line x1="102.5" y1="436.9" x2="102.5" y2="450.3" stroke="#e2261c" stroke-width="1.1"/>
<line x1="100.2" y1="436.9" x2="104.8" y2="436.9" stroke="#e2261c" stroke-width="1.2"/>
<line x1="102.5" y1="450.3" x2="102.5" y2="462.7" stroke="#e2261c" stroke-width="1.1"/>
<line x1="100.2" y1="462.7" x2="104.8" y2="462.7" stroke="#e2261c" stroke-width="1.2"/>
<line x1="107.6" y1="460" x2="107.6" y2="467.3" stroke="#e2261c" stroke-width="1.1"/>
<line x1="105.3" y1="460" x2="109.9" y2="460" stroke="#e2261c" stroke-width="1.2"/>
<line x1="107.6" y1="467.3" x2="107.6" y2="476.5" stroke="#e2261c" stroke-width="1.1"/>
<line x1="105.3" y1="476.5" x2="109.9" y2="476.5" stroke="#e2261c" stroke-width="1.2"/>
<line x1="129.2" y1="478" x2="129.2" y2="482" stroke="#e2261c" stroke-width="1.1"/>
<line x1="126.9" y1="478" x2="131.5" y2="478" stroke="#e2261c" stroke-width="1.2"/>
<line x1="129.2" y1="482" x2="129.2" y2="485.3" stroke="#e2261c" stroke-width="1.1"/>
<line x1="126.9" y1="485.3" x2="131.5" y2="485.3" stroke="#e2261c" stroke-width="1.2"/>
<line x1="150" y1="424.9" x2="150" y2="429.3" stroke="#e2261c" stroke-width="1.1"/>
<line x1="147.7" y1="424.9" x2="152.3" y2="424.9" stroke="#e2261c" stroke-width="1.2"/>
<line x1="150" y1="429.3" x2="150" y2="432.5" stroke="#e2261c" stroke-width="1.1"/>
<line x1="147.7" y1="432.5" x2="152.3" y2="432.5" stroke="#e2261c" stroke-width="1.2"/>
<line x1="160.4" y1="423.4" x2="160.4" y2="440.1" stroke="#e2261c" stroke-width="1.1"/>
<line x1="158.1" y1="423.4" x2="162.7" y2="423.4" stroke="#e2261c" stroke-width="1.2"/>
<line x1="160.4" y1="440.1" x2="160.4" y2="456.4" stroke="#e2261c" stroke-width="1.1"/>
<line x1="158.1" y1="456.4" x2="162.7" y2="456.4" stroke="#e2261c" stroke-width="1.2"/>
<line x1="171.2" y1="464.6" x2="171.2" y2="469.8" stroke="#e2261c" stroke-width="1.1"/>
<line x1="168.9" y1="464.6" x2="173.5" y2="464.6" stroke="#e2261c" stroke-width="1.2"/>
<line x1="171.2" y1="469.8" x2="171.2" y2="475" stroke="#e2261c" stroke-width="1.1"/>
<line x1="168.9" y1="475" x2="173.5" y2="475" stroke="#e2261c" stroke-width="1.2"/>
<line x1="214" y1="473" x2="214" y2="482" stroke="#e2261c" stroke-width="1.1"/>
<line x1="211.7" y1="473" x2="216.3" y2="473" stroke="#e2261c" stroke-width="1.2"/>
<line x1="214" y1="482" x2="214" y2="491.1" stroke="#e2261c" stroke-width="1.1"/>
<line x1="211.7" y1="491.1" x2="216.3" y2="491.1" stroke="#e2261c" stroke-width="1.2"/>
<line x1="53.4" y1="472.6" x2="53.4" y2="479.4" stroke="#f7d800" stroke-width="1.1"/>
<line x1="51.1" y1="472.6" x2="55.7" y2="472.6" stroke="#f7d800" stroke-width="1.2"/>
<line x1="53.4" y1="479.4" x2="53.4" y2="485.5" stroke="#f7d800" stroke-width="1.1"/>
<line x1="51.1" y1="485.5" x2="55.7" y2="485.5" stroke="#f7d800" stroke-width="1.2"/>
<line x1="64.8" y1="473" x2="64.8" y2="475.6" stroke="#f7d800" stroke-width="1.1"/>
<line x1="62.5" y1="473" x2="67.1" y2="473" stroke="#f7d800" stroke-width="1.2"/>
<line x1="64.8" y1="475.6" x2="64.8" y2="478" stroke="#f7d800" stroke-width="1.1"/>
<line x1="62.5" y1="478" x2="67.1" y2="478" stroke="#f7d800" stroke-width="1.2"/>
<line x1="75.7" y1="470" x2="75.7" y2="477" stroke="#f7d800" stroke-width="1.1"/>
<line x1="73.4" y1="470" x2="78" y2="470" stroke="#f7d800" stroke-width="1.2"/>
<line x1="75.7" y1="477" x2="75.7" y2="484" stroke="#f7d800" stroke-width="1.1"/>
<line x1="73.4" y1="484" x2="78" y2="484" stroke="#f7d800" stroke-width="1.2"/>
<line x1="97" y1="480.1" x2="97" y2="487.4" stroke="#f7d800" stroke-width="1.1"/>
<line x1="94.7" y1="480.1" x2="99.3" y2="480.1" stroke="#f7d800" stroke-width="1.2"/>
<line x1="97" y1="487.4" x2="97" y2="492.6" stroke="#f7d800" stroke-width="1.1"/>
<line x1="94.7" y1="492.6" x2="99.3" y2="492.6" stroke="#f7d800" stroke-width="1.2"/>
<line x1="102.5" y1="457.7" x2="102.5" y2="470" stroke="#f7d800" stroke-width="1.1"/>
<line x1="100.2" y1="457.7" x2="104.8" y2="457.7" stroke="#f7d800" stroke-width="1.2"/>
<line x1="102.5" y1="470" x2="102.5" y2="482" stroke="#f7d800" stroke-width="1.1"/>
<line x1="100.2" y1="482" x2="104.8" y2="482" stroke="#f7d800" stroke-width="1.2"/>
<line x1="107.6" y1="468.2" x2="107.6" y2="479.8" stroke="#f7d800" stroke-width="1.1"/>
<line x1="105.3" y1="468.2" x2="109.9" y2="468.2" stroke="#f7d800" stroke-width="1.2"/>
<line x1="107.6" y1="479.8" x2="107.6" y2="491.2" stroke="#f7d800" stroke-width="1.1"/>
<line x1="105.3" y1="491.2" x2="109.9" y2="491.2" stroke="#f7d800" stroke-width="1.2"/>
<line x1="129.2" y1="477.4" x2="129.2" y2="482" stroke="#f7d800" stroke-width="1.1"/>
<line x1="126.9" y1="477.4" x2="131.5" y2="477.4" stroke="#f7d800" stroke-width="1.2"/>
<line x1="129.2" y1="482" x2="129.2" y2="487.5" stroke="#f7d800" stroke-width="1.1"/>
<line x1="126.9" y1="487.5" x2="131.5" y2="487.5" stroke="#f7d800" stroke-width="1.2"/>
<line x1="138.7" y1="467.6" x2="138.7" y2="477" stroke="#f7d800" stroke-width="1.1"/>
<line x1="136.4" y1="467.6" x2="141" y2="467.6" stroke="#f7d800" stroke-width="1.2"/>
<line x1="138.7" y1="477" x2="138.7" y2="486.7" stroke="#f7d800" stroke-width="1.1"/>
<line x1="136.4" y1="486.7" x2="141" y2="486.7" stroke="#f7d800" stroke-width="1.2"/>
<line x1="150" y1="473.7" x2="150" y2="482.4" stroke="#f7d800" stroke-width="1.1"/>
<line x1="147.7" y1="473.7" x2="152.3" y2="473.7" stroke="#f7d800" stroke-width="1.2"/>
<line x1="150" y1="482.4" x2="150" y2="490" stroke="#f7d800" stroke-width="1.1"/>
<line x1="147.7" y1="490" x2="152.3" y2="490" stroke="#f7d800" stroke-width="1.2"/>
<line x1="160.4" y1="462.9" x2="160.4" y2="475.5" stroke="#f7d800" stroke-width="1.1"/>
<line x1="158.1" y1="462.9" x2="162.7" y2="462.9" stroke="#f7d800" stroke-width="1.2"/>
<line x1="160.4" y1="475.5" x2="160.4" y2="484.6" stroke="#f7d800" stroke-width="1.1"/>
<line x1="158.1" y1="484.6" x2="162.7" y2="484.6" stroke="#f7d800" stroke-width="1.2"/>
<line x1="171.2" y1="472.6" x2="171.2" y2="481.3" stroke="#f7d800" stroke-width="1.1"/>
<line x1="168.9" y1="472.6" x2="173.5" y2="472.6" stroke="#f7d800" stroke-width="1.2"/>
<line x1="171.2" y1="481.3" x2="171.2" y2="490.6" stroke="#f7d800" stroke-width="1.1"/>
<line x1="168.9" y1="490.6" x2="173.5" y2="490.6" stroke="#f7d800" stroke-width="1.2"/>
<line x1="214" y1="472" x2="214" y2="477" stroke="#f7d800" stroke-width="1.1"/>
<line x1="211.7" y1="472" x2="216.3" y2="472" stroke="#f7d800" stroke-width="1.2"/>
<line x1="214" y1="477" x2="214" y2="482" stroke="#f7d800" stroke-width="1.1"/>
<line x1="211.7" y1="482" x2="216.3" y2="482" stroke="#f7d800" stroke-width="1.2"/>
<line x1="330.8" y1="443.7" x2="330.8" y2="449.2" stroke="#3d2ea0" stroke-width="1.1"/>
<line x1="328.5" y1="443.7" x2="333.1" y2="443.7" stroke="#3d2ea0" stroke-width="1.2"/>
<line x1="330.8" y1="449.2" x2="330.8" y2="454.8" stroke="#3d2ea0" stroke-width="1.1"/>
<line x1="328.5" y1="454.8" x2="333.1" y2="454.8" stroke="#3d2ea0" stroke-width="1.2"/>
<line x1="353.6" y1="456.6" x2="353.6" y2="460.8" stroke="#3d2ea0" stroke-width="1.1"/>
<line x1="351.3" y1="456.6" x2="355.9" y2="456.6" stroke="#3d2ea0" stroke-width="1.2"/>
<line x1="353.6" y1="460.8" x2="353.6" y2="464" stroke="#3d2ea0" stroke-width="1.1"/>
<line x1="351.3" y1="464" x2="355.9" y2="464" stroke="#3d2ea0" stroke-width="1.2"/>
<line x1="408.4" y1="483" x2="408.4" y2="489.5" stroke="#3d2ea0" stroke-width="1.1"/>
<line x1="406.1" y1="483" x2="410.7" y2="483" stroke="#3d2ea0" stroke-width="1.2"/>
<line x1="408.4" y1="489.5" x2="408.4" y2="495.5" stroke="#3d2ea0" stroke-width="1.1"/>
<line x1="406.1" y1="495.5" x2="410.7" y2="495.5" stroke="#3d2ea0" stroke-width="1.2"/>
<line x1="446" y1="456.6" x2="446" y2="482.1" stroke="#3d2ea0" stroke-width="1.1"/>
<line x1="443.7" y1="456.6" x2="448.3" y2="456.6" stroke="#3d2ea0" stroke-width="1.2"/>
<line x1="446" y1="482.1" x2="446" y2="507.9" stroke="#3d2ea0" stroke-width="1.1"/>
<line x1="443.7" y1="507.9" x2="448.3" y2="507.9" stroke="#3d2ea0" stroke-width="1.2"/>
<line x1="285.3" y1="463.2" x2="285.3" y2="479.6" stroke="#1a1a1a" stroke-width="1.1"/>
<line x1="283" y1="463.2" x2="287.6" y2="463.2" stroke="#1a1a1a" stroke-width="1.2"/>
<line x1="285.3" y1="479.6" x2="285.3" y2="496" stroke="#1a1a1a" stroke-width="1.1"/>
<line x1="283" y1="496" x2="287.6" y2="496" stroke="#1a1a1a" stroke-width="1.2"/>
<line x1="330.8" y1="463.6" x2="330.8" y2="473.1" stroke="#1a1a1a" stroke-width="1.1"/>
<line x1="328.5" y1="463.6" x2="333.1" y2="463.6" stroke="#1a1a1a" stroke-width="1.2"/>
<line x1="330.8" y1="473.1" x2="330.8" y2="483.8" stroke="#1a1a1a" stroke-width="1.1"/>
<line x1="328.5" y1="483.8" x2="333.1" y2="483.8" stroke="#1a1a1a" stroke-width="1.2"/>
<line x1="342.2" y1="443.7" x2="342.2" y2="465.8" stroke="#1a1a1a" stroke-width="1.1"/>
<line x1="339.9" y1="443.7" x2="344.5" y2="443.7" stroke="#1a1a1a" stroke-width="1.2"/>
<line x1="342.2" y1="465.8" x2="342.2" y2="487.9" stroke="#1a1a1a" stroke-width="1.1"/>
<line x1="339.9" y1="487.9" x2="344.5" y2="487.9" stroke="#1a1a1a" stroke-width="1.2"/>
<line x1="353.6" y1="460" x2="353.6" y2="475" stroke="#1a1a1a" stroke-width="1.1"/>
<line x1="351.3" y1="460" x2="355.9" y2="460" stroke="#1a1a1a" stroke-width="1.2"/>
<line x1="353.6" y1="475" x2="353.6" y2="490.3" stroke="#1a1a1a" stroke-width="1.1"/>
<line x1="351.3" y1="490.3" x2="355.9" y2="490.3" stroke="#1a1a1a" stroke-width="1.2"/>
<line x1="399.1" y1="448.7" x2="399.1" y2="473.4" stroke="#1a1a1a" stroke-width="1.1"/>
<line x1="396.8" y1="448.7" x2="401.4" y2="448.7" stroke="#1a1a1a" stroke-width="1.2"/>
<line x1="399.1" y1="473.4" x2="399.1" y2="499" stroke="#1a1a1a" stroke-width="1.1"/>
<line x1="396.8" y1="499" x2="401.4" y2="499" stroke="#1a1a1a" stroke-width="1.2"/>
<line x1="408.4" y1="444.2" x2="408.4" y2="472.8" stroke="#1a1a1a" stroke-width="1.1"/>
<line x1="406.1" y1="444.2" x2="410.7" y2="444.2" stroke="#1a1a1a" stroke-width="1.2"/>
<line x1="408.4" y1="472.8" x2="408.4" y2="502.8" stroke="#1a1a1a" stroke-width="1.1"/>
<line x1="406.1" y1="502.8" x2="410.7" y2="502.8" stroke="#1a1a1a" stroke-width="1.2"/>
<line x1="446" y1="408.1" x2="446" y2="442.2" stroke="#1a1a1a" stroke-width="1.1"/>
<line x1="443.7" y1="408.1" x2="448.3" y2="408.1" stroke="#1a1a1a" stroke-width="1.2"/>
<line x1="446" y1="442.2" x2="446" y2="477.1" stroke="#1a1a1a" stroke-width="1.1"/>
<line x1="443.7" y1="477.1" x2="448.3" y2="477.1" stroke="#1a1a1a" stroke-width="1.2"/>
<line x1="518.1" y1="467" x2="518.1" y2="472.2" stroke="#e2261c" stroke-width="1.1"/>
<line x1="515.8" y1="467" x2="520.4" y2="467" stroke="#e2261c" stroke-width="1.2"/>
<line x1="518.1" y1="472.2" x2="518.1" y2="477" stroke="#e2261c" stroke-width="1.1"/>
<line x1="515.8" y1="477" x2="520.4" y2="477" stroke="#e2261c" stroke-width="1.2"/>
<line x1="534.4" y1="469" x2="534.4" y2="475.4" stroke="#e2261c" stroke-width="1.1"/>
<line x1="532.1" y1="469" x2="536.7" y2="469" stroke="#e2261c" stroke-width="1.2"/>
<line x1="534.4" y1="475.4" x2="534.4" y2="481" stroke="#e2261c" stroke-width="1.1"/>
<line x1="532.1" y1="481" x2="536.7" y2="481" stroke="#e2261c" stroke-width="1.2"/>
<line x1="561.9" y1="433.7" x2="561.9" y2="449.5" stroke="#e2261c" stroke-width="1.1"/>
<line x1="559.6" y1="433.7" x2="564.2" y2="433.7" stroke="#e2261c" stroke-width="1.2"/>
<line x1="561.9" y1="449.5" x2="561.9" y2="465.1" stroke="#e2261c" stroke-width="1.1"/>
<line x1="559.6" y1="465.1" x2="564.2" y2="465.1" stroke="#e2261c" stroke-width="1.2"/>
<line x1="567.2" y1="437.2" x2="567.2" y2="447.3" stroke="#e2261c" stroke-width="1.1"/>
<line x1="564.9" y1="437.2" x2="569.5" y2="437.2" stroke="#e2261c" stroke-width="1.2"/>
<line x1="567.2" y1="447.3" x2="567.2" y2="457.1" stroke="#e2261c" stroke-width="1.1"/>
<line x1="564.9" y1="457.1" x2="569.5" y2="457.1" stroke="#e2261c" stroke-width="1.2"/>
<line x1="572.7" y1="460" x2="572.7" y2="464.7" stroke="#e2261c" stroke-width="1.1"/>
<line x1="570.4" y1="460" x2="575" y2="460" stroke="#e2261c" stroke-width="1.2"/>
<line x1="572.7" y1="464.7" x2="572.7" y2="469" stroke="#e2261c" stroke-width="1.1"/>
<line x1="570.4" y1="469" x2="575" y2="469" stroke="#e2261c" stroke-width="1.2"/>
<line x1="594.4" y1="477" x2="594.4" y2="480.7" stroke="#e2261c" stroke-width="1.1"/>
<line x1="592.1" y1="477" x2="596.7" y2="477" stroke="#e2261c" stroke-width="1.2"/>
<line x1="594.4" y1="480.7" x2="594.4" y2="484" stroke="#e2261c" stroke-width="1.1"/>
<line x1="592.1" y1="484" x2="596.7" y2="484" stroke="#e2261c" stroke-width="1.2"/>
<line x1="604" y1="464" x2="604" y2="468.6" stroke="#e2261c" stroke-width="1.1"/>
<line x1="601.7" y1="464" x2="606.3" y2="464" stroke="#e2261c" stroke-width="1.2"/>
<line x1="604" y1="468.6" x2="604" y2="473" stroke="#e2261c" stroke-width="1.1"/>
<line x1="601.7" y1="473" x2="606.3" y2="473" stroke="#e2261c" stroke-width="1.2"/>
<line x1="615.1" y1="469" x2="615.1" y2="472.7" stroke="#e2261c" stroke-width="1.1"/>
<line x1="612.8" y1="469" x2="617.4" y2="469" stroke="#e2261c" stroke-width="1.2"/>
<line x1="615.1" y1="472.7" x2="615.1" y2="476" stroke="#e2261c" stroke-width="1.1"/>
<line x1="612.8" y1="476" x2="617.4" y2="476" stroke="#e2261c" stroke-width="1.2"/>
<line x1="643.9" y1="433.1" x2="643.9" y2="450.3" stroke="#e2261c" stroke-width="1.1"/>
<line x1="641.6" y1="433.1" x2="646.2" y2="433.1" stroke="#e2261c" stroke-width="1.2"/>
<line x1="643.9" y1="450.3" x2="643.9" y2="466.8" stroke="#e2261c" stroke-width="1.1"/>
<line x1="641.6" y1="466.8" x2="646.2" y2="466.8" stroke="#e2261c" stroke-width="1.2"/>
<line x1="649.2" y1="427.5" x2="649.2" y2="438.1" stroke="#e2261c" stroke-width="1.1"/>
<line x1="646.9" y1="427.5" x2="651.5" y2="427.5" stroke="#e2261c" stroke-width="1.2"/>
<line x1="649.2" y1="438.1" x2="649.2" y2="447.9" stroke="#e2261c" stroke-width="1.1"/>
<line x1="646.9" y1="447.9" x2="651.5" y2="447.9" stroke="#e2261c" stroke-width="1.2"/>
<line x1="655.4" y1="454" x2="655.4" y2="459.8" stroke="#e2261c" stroke-width="1.1"/>
<line x1="653.1" y1="454" x2="657.7" y2="454" stroke="#e2261c" stroke-width="1.2"/>
<line x1="655.4" y1="459.8" x2="655.4" y2="465" stroke="#e2261c" stroke-width="1.1"/>
<line x1="653.1" y1="465" x2="657.7" y2="465" stroke="#e2261c" stroke-width="1.2"/>
<line x1="678.1" y1="456" x2="678.1" y2="463.3" stroke="#e2261c" stroke-width="1.1"/>
<line x1="675.8" y1="456" x2="680.4" y2="456" stroke="#e2261c" stroke-width="1.2"/>
<line x1="678.1" y1="463.3" x2="678.1" y2="471.3" stroke="#e2261c" stroke-width="1.1"/>
<line x1="675.8" y1="471.3" x2="680.4" y2="471.3" stroke="#e2261c" stroke-width="1.2"/>
<line x1="518.1" y1="453" x2="518.1" y2="457.1" stroke="#19a05a" stroke-width="1.1"/>
<line x1="515.8" y1="453" x2="520.4" y2="453" stroke="#19a05a" stroke-width="1.2"/>
<line x1="518.1" y1="457.1" x2="518.1" y2="461" stroke="#19a05a" stroke-width="1.1"/>
<line x1="515.8" y1="461" x2="520.4" y2="461" stroke="#19a05a" stroke-width="1.2"/>
<line x1="534.4" y1="458" x2="534.4" y2="462.1" stroke="#19a05a" stroke-width="1.1"/>
<line x1="532.1" y1="458" x2="536.7" y2="458" stroke="#19a05a" stroke-width="1.2"/>
<line x1="534.4" y1="462.1" x2="534.4" y2="466" stroke="#19a05a" stroke-width="1.1"/>
<line x1="532.1" y1="466" x2="536.7" y2="466" stroke="#19a05a" stroke-width="1.2"/>
<line x1="561.9" y1="453" x2="561.9" y2="457.1" stroke="#19a05a" stroke-width="1.1"/>
<line x1="559.6" y1="453" x2="564.2" y2="453" stroke="#19a05a" stroke-width="1.2"/>
<line x1="561.9" y1="457.1" x2="561.9" y2="461" stroke="#19a05a" stroke-width="1.1"/>
<line x1="559.6" y1="461" x2="564.2" y2="461" stroke="#19a05a" stroke-width="1.2"/>
<line x1="567.2" y1="465" x2="567.2" y2="470.4" stroke="#19a05a" stroke-width="1.1"/>
<line x1="564.9" y1="465" x2="569.5" y2="465" stroke="#19a05a" stroke-width="1.2"/>
<line x1="567.2" y1="470.4" x2="567.2" y2="476" stroke="#19a05a" stroke-width="1.1"/>
<line x1="564.9" y1="476" x2="569.5" y2="476" stroke="#19a05a" stroke-width="1.2"/>
<line x1="572.7" y1="466" x2="572.7" y2="469.2" stroke="#19a05a" stroke-width="1.1"/>
<line x1="570.4" y1="466" x2="575" y2="466" stroke="#19a05a" stroke-width="1.2"/>
<line x1="572.7" y1="469.2" x2="572.7" y2="472" stroke="#19a05a" stroke-width="1.1"/>
<line x1="570.4" y1="472" x2="575" y2="472" stroke="#19a05a" stroke-width="1.2"/>
<line x1="594.4" y1="467" x2="594.4" y2="470" stroke="#19a05a" stroke-width="1.1"/>
<line x1="592.1" y1="467" x2="596.7" y2="467" stroke="#19a05a" stroke-width="1.2"/>
<line x1="594.4" y1="470" x2="594.4" y2="473" stroke="#19a05a" stroke-width="1.1"/>
<line x1="592.1" y1="473" x2="596.7" y2="473" stroke="#19a05a" stroke-width="1.2"/>
<line x1="604" y1="452" x2="604" y2="457.1" stroke="#19a05a" stroke-width="1.1"/>
<line x1="601.7" y1="452" x2="606.3" y2="452" stroke="#19a05a" stroke-width="1.2"/>
<line x1="604" y1="457.1" x2="604" y2="462" stroke="#19a05a" stroke-width="1.1"/>
<line x1="601.7" y1="462" x2="606.3" y2="462" stroke="#19a05a" stroke-width="1.2"/>
<line x1="615.1" y1="448" x2="615.1" y2="451.8" stroke="#19a05a" stroke-width="1.1"/>
<line x1="612.8" y1="448" x2="617.4" y2="448" stroke="#19a05a" stroke-width="1.2"/>
<line x1="615.1" y1="451.8" x2="615.1" y2="455" stroke="#19a05a" stroke-width="1.1"/>
<line x1="612.8" y1="455" x2="617.4" y2="455" stroke="#19a05a" stroke-width="1.2"/>
<line x1="643.9" y1="455" x2="643.9" y2="459.8" stroke="#19a05a" stroke-width="1.1"/>
<line x1="641.6" y1="455" x2="646.2" y2="455" stroke="#19a05a" stroke-width="1.2"/>
<line x1="643.9" y1="459.8" x2="643.9" y2="464" stroke="#19a05a" stroke-width="1.1"/>
<line x1="641.6" y1="464" x2="646.2" y2="464" stroke="#19a05a" stroke-width="1.2"/>
<line x1="649.2" y1="458" x2="649.2" y2="462.4" stroke="#19a05a" stroke-width="1.1"/>
<line x1="646.9" y1="458" x2="651.5" y2="458" stroke="#19a05a" stroke-width="1.2"/>
<line x1="649.2" y1="462.4" x2="649.2" y2="467" stroke="#19a05a" stroke-width="1.1"/>
<line x1="646.9" y1="467" x2="651.5" y2="467" stroke="#19a05a" stroke-width="1.2"/>
<line x1="655.4" y1="456" x2="655.4" y2="459.2" stroke="#19a05a" stroke-width="1.1"/>
<line x1="653.1" y1="456" x2="657.7" y2="456" stroke="#19a05a" stroke-width="1.2"/>
<line x1="655.4" y1="459.2" x2="655.4" y2="462" stroke="#19a05a" stroke-width="1.1"/>
<line x1="653.1" y1="462" x2="657.7" y2="462" stroke="#19a05a" stroke-width="1.2"/>
<line x1="678.1" y1="453" x2="678.1" y2="458.3" stroke="#19a05a" stroke-width="1.1"/>
<line x1="675.8" y1="453" x2="680.4" y2="453" stroke="#19a05a" stroke-width="1.2"/>
<line x1="678.1" y1="458.3" x2="678.1" y2="463" stroke="#19a05a" stroke-width="1.1"/>
<line x1="675.8" y1="463" x2="680.4" y2="463" stroke="#19a05a" stroke-width="1.2"/>
<line x1="56.1" y1="611.3" x2="56.1" y2="641.4" stroke="#3d2ea0" stroke-width="1.1"/>
<line x1="53.8" y1="611.3" x2="58.4" y2="611.3" stroke="#3d2ea0" stroke-width="1.2"/>
<line x1="56.1" y1="641.4" x2="56.1" y2="671.6" stroke="#3d2ea0" stroke-width="1.1"/>
<line x1="53.8" y1="671.6" x2="58.4" y2="671.6" stroke="#3d2ea0" stroke-width="1.2"/>
<line x1="77.8" y1="630.2" x2="77.8" y2="651" stroke="#3d2ea0" stroke-width="1.1"/>
<line x1="75.5" y1="630.2" x2="80.1" y2="630.2" stroke="#3d2ea0" stroke-width="1.2"/>
<line x1="77.8" y1="651" x2="77.8" y2="671.9" stroke="#3d2ea0" stroke-width="1.1"/>
<line x1="75.5" y1="671.9" x2="80.1" y2="671.9" stroke="#3d2ea0" stroke-width="1.2"/>
<line x1="99.6" y1="646.7" x2="99.6" y2="658.6" stroke="#3d2ea0" stroke-width="1.1"/>
<line x1="97.3" y1="646.7" x2="101.9" y2="646.7" stroke="#3d2ea0" stroke-width="1.2"/>
<line x1="99.6" y1="658.6" x2="99.6" y2="665" stroke="#3d2ea0" stroke-width="1.1"/>
<line x1="97.3" y1="665" x2="101.9" y2="665" stroke="#3d2ea0" stroke-width="1.2"/>
<line x1="105.3" y1="637.7" x2="105.3" y2="654.5" stroke="#3d2ea0" stroke-width="1.1"/>
<line x1="103" y1="637.7" x2="107.6" y2="637.7" stroke="#3d2ea0" stroke-width="1.2"/>
<line x1="105.3" y1="654.5" x2="105.3" y2="672.8" stroke="#3d2ea0" stroke-width="1.1"/>
<line x1="103" y1="672.8" x2="107.6" y2="672.8" stroke="#3d2ea0" stroke-width="1.2"/>
<line x1="110.6" y1="640.5" x2="110.6" y2="654.2" stroke="#3d2ea0" stroke-width="1.1"/>
<line x1="108.3" y1="640.5" x2="112.9" y2="640.5" stroke="#3d2ea0" stroke-width="1.2"/>
<line x1="110.6" y1="654.2" x2="110.6" y2="667.5" stroke="#3d2ea0" stroke-width="1.1"/>
<line x1="108.3" y1="667.5" x2="112.9" y2="667.5" stroke="#3d2ea0" stroke-width="1.2"/>
<line x1="132.2" y1="640.5" x2="132.2" y2="653.7" stroke="#3d2ea0" stroke-width="1.1"/>
<line x1="129.9" y1="640.5" x2="134.5" y2="640.5" stroke="#3d2ea0" stroke-width="1.2"/>
<line x1="132.2" y1="653.7" x2="132.2" y2="667.1" stroke="#3d2ea0" stroke-width="1.1"/>
<line x1="129.9" y1="667.1" x2="134.5" y2="667.1" stroke="#3d2ea0" stroke-width="1.2"/>
<line x1="142" y1="618.4" x2="142" y2="645.7" stroke="#3d2ea0" stroke-width="1.1"/>
<line x1="139.7" y1="618.4" x2="144.3" y2="618.4" stroke="#3d2ea0" stroke-width="1.2"/>
<line x1="142" y1="645.7" x2="142" y2="672.3" stroke="#3d2ea0" stroke-width="1.1"/>
<line x1="139.7" y1="672.3" x2="144.3" y2="672.3" stroke="#3d2ea0" stroke-width="1.2"/>
<line x1="152.6" y1="612.9" x2="152.6" y2="638.2" stroke="#3d2ea0" stroke-width="1.1"/>
<line x1="150.3" y1="612.9" x2="154.9" y2="612.9" stroke="#3d2ea0" stroke-width="1.2"/>
<line x1="152.6" y1="638.2" x2="152.6" y2="662" stroke="#3d2ea0" stroke-width="1.1"/>
<line x1="150.3" y1="662" x2="154.9" y2="662" stroke="#3d2ea0" stroke-width="1.2"/>
<line x1="163.6" y1="612.9" x2="163.6" y2="646.2" stroke="#3d2ea0" stroke-width="1.1"/>
<line x1="161.3" y1="612.9" x2="165.9" y2="612.9" stroke="#3d2ea0" stroke-width="1.2"/>
<line x1="163.6" y1="646.2" x2="163.6" y2="679.9" stroke="#3d2ea0" stroke-width="1.1"/>
<line x1="161.3" y1="679.9" x2="165.9" y2="679.9" stroke="#3d2ea0" stroke-width="1.2"/>
<line x1="174.3" y1="622.6" x2="174.3" y2="647.1" stroke="#3d2ea0" stroke-width="1.1"/>
<line x1="172" y1="622.6" x2="176.6" y2="622.6" stroke="#3d2ea0" stroke-width="1.2"/>
<line x1="174.3" y1="647.1" x2="174.3" y2="671.6" stroke="#3d2ea0" stroke-width="1.1"/>
<line x1="172" y1="671.6" x2="176.6" y2="671.6" stroke="#3d2ea0" stroke-width="1.2"/>
<line x1="216.9" y1="626.7" x2="216.9" y2="651" stroke="#3d2ea0" stroke-width="1.1"/>
<line x1="214.6" y1="626.7" x2="219.2" y2="626.7" stroke="#3d2ea0" stroke-width="1.2"/>
<line x1="216.9" y1="651" x2="216.9" y2="675.1" stroke="#3d2ea0" stroke-width="1.1"/>
<line x1="214.6" y1="675.1" x2="219.2" y2="675.1" stroke="#3d2ea0" stroke-width="1.2"/>
<line x1="56.1" y1="650.3" x2="56.1" y2="667.1" stroke="#e2261c" stroke-width="1.1"/>
<line x1="53.8" y1="650.3" x2="58.4" y2="650.3" stroke="#e2261c" stroke-width="1.2"/>
<line x1="56.1" y1="667.1" x2="56.1" y2="684.3" stroke="#e2261c" stroke-width="1.1"/>
<line x1="53.8" y1="684.3" x2="58.4" y2="684.3" stroke="#e2261c" stroke-width="1.2"/>
<line x1="77.8" y1="655" x2="77.8" y2="663.1" stroke="#e2261c" stroke-width="1.1"/>
<line x1="75.5" y1="655" x2="80.1" y2="655" stroke="#e2261c" stroke-width="1.2"/>
<line x1="77.8" y1="663.1" x2="77.8" y2="671" stroke="#e2261c" stroke-width="1.1"/>
<line x1="75.5" y1="671" x2="80.1" y2="671" stroke="#e2261c" stroke-width="1.2"/>
<line x1="99.6" y1="665.4" x2="99.6" y2="672.8" stroke="#e2261c" stroke-width="1.1"/>
<line x1="97.3" y1="665.4" x2="101.9" y2="665.4" stroke="#e2261c" stroke-width="1.2"/>
<line x1="99.6" y1="672.8" x2="99.6" y2="680.8" stroke="#e2261c" stroke-width="1.1"/>
<line x1="97.3" y1="680.8" x2="101.9" y2="680.8" stroke="#e2261c" stroke-width="1.2"/>
<line x1="105.3" y1="668" x2="105.3" y2="675.8" stroke="#e2261c" stroke-width="1.1"/>
<line x1="103" y1="668" x2="107.6" y2="668" stroke="#e2261c" stroke-width="1.2"/>
<line x1="105.3" y1="675.8" x2="105.3" y2="682.9" stroke="#e2261c" stroke-width="1.1"/>
<line x1="103" y1="682.9" x2="107.6" y2="682.9" stroke="#e2261c" stroke-width="1.2"/>
<line x1="110.6" y1="668" x2="110.6" y2="674.6" stroke="#e2261c" stroke-width="1.1"/>
<line x1="108.3" y1="668" x2="112.9" y2="668" stroke="#e2261c" stroke-width="1.2"/>
<line x1="110.6" y1="674.6" x2="110.6" y2="681" stroke="#e2261c" stroke-width="1.1"/>
<line x1="108.3" y1="681" x2="112.9" y2="681" stroke="#e2261c" stroke-width="1.2"/>
<line x1="132.2" y1="654" x2="132.2" y2="659.5" stroke="#e2261c" stroke-width="1.1"/>
<line x1="129.9" y1="654" x2="134.5" y2="654" stroke="#e2261c" stroke-width="1.2"/>
<line x1="132.2" y1="659.5" x2="132.2" y2="665" stroke="#e2261c" stroke-width="1.1"/>
<line x1="129.9" y1="665" x2="134.5" y2="665" stroke="#e2261c" stroke-width="1.2"/>
<line x1="142" y1="657.7" x2="142" y2="667.5" stroke="#e2261c" stroke-width="1.1"/>
<line x1="139.7" y1="657.7" x2="144.3" y2="657.7" stroke="#e2261c" stroke-width="1.2"/>
<line x1="142" y1="667.5" x2="142" y2="677.6" stroke="#e2261c" stroke-width="1.1"/>
<line x1="139.7" y1="677.6" x2="144.3" y2="677.6" stroke="#e2261c" stroke-width="1.2"/>
<line x1="152.6" y1="668.4" x2="152.6" y2="675.5" stroke="#e2261c" stroke-width="1.1"/>
<line x1="150.3" y1="668.4" x2="154.9" y2="668.4" stroke="#e2261c" stroke-width="1.2"/>
<line x1="152.6" y1="675.5" x2="152.6" y2="682.9" stroke="#e2261c" stroke-width="1.1"/>
<line x1="150.3" y1="682.9" x2="154.9" y2="682.9" stroke="#e2261c" stroke-width="1.2"/>
<line x1="163.6" y1="667" x2="163.6" y2="677.6" stroke="#e2261c" stroke-width="1.1"/>
<line x1="161.3" y1="667" x2="165.9" y2="667" stroke="#e2261c" stroke-width="1.2"/>
<line x1="163.6" y1="677.6" x2="163.6" y2="688.2" stroke="#e2261c" stroke-width="1.1"/>
<line x1="161.3" y1="688.2" x2="165.9" y2="688.2" stroke="#e2261c" stroke-width="1.2"/>
<line x1="174.3" y1="673.2" x2="174.3" y2="678.7" stroke="#e2261c" stroke-width="1.1"/>
<line x1="172" y1="673.2" x2="176.6" y2="673.2" stroke="#e2261c" stroke-width="1.2"/>
<line x1="174.3" y1="678.7" x2="174.3" y2="684" stroke="#e2261c" stroke-width="1.1"/>
<line x1="172" y1="684" x2="176.6" y2="684" stroke="#e2261c" stroke-width="1.2"/>
<line x1="216.9" y1="645.3" x2="216.9" y2="656" stroke="#e2261c" stroke-width="1.1"/>
<line x1="214.6" y1="645.3" x2="219.2" y2="645.3" stroke="#e2261c" stroke-width="1.2"/>
<line x1="216.9" y1="656" x2="216.9" y2="667" stroke="#e2261c" stroke-width="1.1"/>
<line x1="214.6" y1="667" x2="219.2" y2="667" stroke="#e2261c" stroke-width="1.2"/>
<line x1="56.1" y1="654" x2="56.1" y2="658.6" stroke="#f7d800" stroke-width="1.1"/>
<line x1="53.8" y1="654" x2="58.4" y2="654" stroke="#f7d800" stroke-width="1.2"/>
<line x1="56.1" y1="658.6" x2="56.1" y2="663" stroke="#f7d800" stroke-width="1.1"/>
<line x1="53.8" y1="663" x2="58.4" y2="663" stroke="#f7d800" stroke-width="1.2"/>
<line x1="67.1" y1="650" x2="67.1" y2="654.5" stroke="#f7d800" stroke-width="1.1"/>
<line x1="64.8" y1="650" x2="69.4" y2="650" stroke="#f7d800" stroke-width="1.2"/>
<line x1="67.1" y1="654.5" x2="67.1" y2="659" stroke="#f7d800" stroke-width="1.1"/>
<line x1="64.8" y1="659" x2="69.4" y2="659" stroke="#f7d800" stroke-width="1.2"/>
<line x1="77.8" y1="655" x2="77.8" y2="665.7" stroke="#f7d800" stroke-width="1.1"/>
<line x1="75.5" y1="655" x2="80.1" y2="655" stroke="#f7d800" stroke-width="1.2"/>
<line x1="77.8" y1="665.7" x2="77.8" y2="680.3" stroke="#f7d800" stroke-width="1.1"/>
<line x1="75.5" y1="680.3" x2="80.1" y2="680.3" stroke="#f7d800" stroke-width="1.2"/>
<line x1="99.6" y1="652" x2="99.6" y2="657.7" stroke="#f7d800" stroke-width="1.1"/>
<line x1="97.3" y1="652" x2="101.9" y2="652" stroke="#f7d800" stroke-width="1.2"/>
<line x1="99.6" y1="657.7" x2="99.6" y2="663" stroke="#f7d800" stroke-width="1.1"/>
<line x1="97.3" y1="663" x2="101.9" y2="663" stroke="#f7d800" stroke-width="1.2"/>
<line x1="105.3" y1="653" x2="105.3" y2="658.6" stroke="#f7d800" stroke-width="1.1"/>
<line x1="103" y1="653" x2="107.6" y2="653" stroke="#f7d800" stroke-width="1.2"/>
<line x1="105.3" y1="658.6" x2="105.3" y2="664" stroke="#f7d800" stroke-width="1.1"/>
<line x1="103" y1="664" x2="107.6" y2="664" stroke="#f7d800" stroke-width="1.2"/>
<line x1="110.6" y1="655" x2="110.6" y2="660.4" stroke="#f7d800" stroke-width="1.1"/>
<line x1="108.3" y1="655" x2="112.9" y2="655" stroke="#f7d800" stroke-width="1.2"/>
<line x1="110.6" y1="660.4" x2="110.6" y2="666" stroke="#f7d800" stroke-width="1.1"/>
<line x1="108.3" y1="666" x2="112.9" y2="666" stroke="#f7d800" stroke-width="1.2"/>
<line x1="132.2" y1="645.8" x2="132.2" y2="661.3" stroke="#f7d800" stroke-width="1.1"/>
<line x1="129.9" y1="645.8" x2="134.5" y2="645.8" stroke="#f7d800" stroke-width="1.2"/>
<line x1="132.2" y1="661.3" x2="132.2" y2="676.4" stroke="#f7d800" stroke-width="1.1"/>
<line x1="129.9" y1="676.4" x2="134.5" y2="676.4" stroke="#f7d800" stroke-width="1.2"/>
<line x1="142" y1="656" x2="142" y2="661.6" stroke="#f7d800" stroke-width="1.1"/>
<line x1="139.7" y1="656" x2="144.3" y2="656" stroke="#f7d800" stroke-width="1.2"/>
<line x1="142" y1="661.6" x2="142" y2="667" stroke="#f7d800" stroke-width="1.1"/>
<line x1="139.7" y1="667" x2="144.3" y2="667" stroke="#f7d800" stroke-width="1.2"/>
<line x1="152.6" y1="656" x2="152.6" y2="662.2" stroke="#f7d800" stroke-width="1.1"/>
<line x1="150.3" y1="656" x2="154.9" y2="656" stroke="#f7d800" stroke-width="1.2"/>
<line x1="152.6" y1="662.2" x2="152.6" y2="668" stroke="#f7d800" stroke-width="1.1"/>
<line x1="150.3" y1="668" x2="154.9" y2="668" stroke="#f7d800" stroke-width="1.2"/>
<line x1="163.6" y1="656" x2="163.6" y2="660" stroke="#f7d800" stroke-width="1.1"/>
<line x1="161.3" y1="656" x2="165.9" y2="656" stroke="#f7d800" stroke-width="1.2"/>
<line x1="163.6" y1="660" x2="163.6" y2="664" stroke="#f7d800" stroke-width="1.1"/>
<line x1="161.3" y1="664" x2="165.9" y2="664" stroke="#f7d800" stroke-width="1.2"/>
<line x1="174.3" y1="657" x2="174.3" y2="660.9" stroke="#f7d800" stroke-width="1.1"/>
<line x1="172" y1="657" x2="176.6" y2="657" stroke="#f7d800" stroke-width="1.2"/>
<line x1="174.3" y1="660.9" x2="174.3" y2="665" stroke="#f7d800" stroke-width="1.1"/>
<line x1="172" y1="665" x2="176.6" y2="665" stroke="#f7d800" stroke-width="1.2"/>
<line x1="216.9" y1="654" x2="216.9" y2="658.1" stroke="#f7d800" stroke-width="1.1"/>
<line x1="214.6" y1="654" x2="219.2" y2="654" stroke="#f7d800" stroke-width="1.2"/>
<line x1="216.9" y1="658.1" x2="216.9" y2="662" stroke="#f7d800" stroke-width="1.1"/>
<line x1="214.6" y1="662" x2="219.2" y2="662" stroke="#f7d800" stroke-width="1.2"/>
<line x1="333.2" y1="662" x2="333.2" y2="670.5" stroke="#3d2ea0" stroke-width="1.1"/>
<line x1="330.9" y1="662" x2="335.5" y2="662" stroke="#3d2ea0" stroke-width="1.2"/>
<line x1="333.2" y1="670.5" x2="333.2" y2="679.2" stroke="#3d2ea0" stroke-width="1.1"/>
<line x1="330.9" y1="679.2" x2="335.5" y2="679.2" stroke="#3d2ea0" stroke-width="1.2"/>
<line x1="344.6" y1="661" x2="344.6" y2="673.3" stroke="#3d2ea0" stroke-width="1.1"/>
<line x1="342.3" y1="661" x2="346.9" y2="661" stroke="#3d2ea0" stroke-width="1.2"/>
<line x1="344.6" y1="673.3" x2="344.6" y2="685.5" stroke="#3d2ea0" stroke-width="1.1"/>
<line x1="342.3" y1="685.5" x2="346.9" y2="685.5" stroke="#3d2ea0" stroke-width="1.2"/>
<line x1="356" y1="647.7" x2="356" y2="664.8" stroke="#3d2ea0" stroke-width="1.1"/>
<line x1="353.7" y1="647.7" x2="358.3" y2="647.7" stroke="#3d2ea0" stroke-width="1.2"/>
<line x1="356" y1="664.8" x2="356" y2="683.2" stroke="#3d2ea0" stroke-width="1.1"/>
<line x1="353.7" y1="683.2" x2="358.3" y2="683.2" stroke="#3d2ea0" stroke-width="1.2"/>
<line x1="401.5" y1="608.3" x2="401.5" y2="636.3" stroke="#3d2ea0" stroke-width="1.1"/>
<line x1="399.2" y1="608.3" x2="403.8" y2="608.3" stroke="#3d2ea0" stroke-width="1.2"/>
<line x1="401.5" y1="636.3" x2="401.5" y2="663.8" stroke="#3d2ea0" stroke-width="1.1"/>
<line x1="399.2" y1="663.8" x2="403.8" y2="663.8" stroke="#3d2ea0" stroke-width="1.2"/>
<line x1="410.4" y1="634.3" x2="410.4" y2="654" stroke="#3d2ea0" stroke-width="1.1"/>
<line x1="408.1" y1="634.3" x2="412.7" y2="634.3" stroke="#3d2ea0" stroke-width="1.2"/>
<line x1="410.4" y1="654" x2="410.4" y2="674.1" stroke="#3d2ea0" stroke-width="1.1"/>
<line x1="408.1" y1="674.1" x2="412.7" y2="674.1" stroke="#3d2ea0" stroke-width="1.2"/>
<line x1="446.4" y1="646.1" x2="446.4" y2="660.9" stroke="#3d2ea0" stroke-width="1.1"/>
<line x1="444.1" y1="646.1" x2="448.7" y2="646.1" stroke="#3d2ea0" stroke-width="1.2"/>
<line x1="446.4" y1="660.9" x2="446.4" y2="677.3" stroke="#3d2ea0" stroke-width="1.1"/>
<line x1="444.1" y1="677.3" x2="448.7" y2="677.3" stroke="#3d2ea0" stroke-width="1.2"/>
<line x1="287.7" y1="662.6" x2="287.7" y2="666.9" stroke="#1a1a1a" stroke-width="1.1"/>
<line x1="285.4" y1="662.6" x2="290" y2="662.6" stroke="#1a1a1a" stroke-width="1.2"/>
<line x1="287.7" y1="666.9" x2="287.7" y2="672.4" stroke="#1a1a1a" stroke-width="1.1"/>
<line x1="285.4" y1="672.4" x2="290" y2="672.4" stroke="#1a1a1a" stroke-width="1.2"/>
<line x1="333.2" y1="657" x2="333.2" y2="660.8" stroke="#1a1a1a" stroke-width="1.1"/>
<line x1="330.9" y1="657" x2="335.5" y2="657" stroke="#1a1a1a" stroke-width="1.2"/>
<line x1="333.2" y1="660.8" x2="333.2" y2="664" stroke="#1a1a1a" stroke-width="1.1"/>
<line x1="330.9" y1="664" x2="335.5" y2="664" stroke="#1a1a1a" stroke-width="1.2"/>
<line x1="344.6" y1="657.3" x2="344.6" y2="659.5" stroke="#1a1a1a" stroke-width="1.1"/>
<line x1="342.3" y1="657.3" x2="346.9" y2="657.3" stroke="#1a1a1a" stroke-width="1.2"/>
<line x1="344.6" y1="659.5" x2="344.6" y2="664.5" stroke="#1a1a1a" stroke-width="1.1"/>
<line x1="342.3" y1="664.5" x2="346.9" y2="664.5" stroke="#1a1a1a" stroke-width="1.2"/>
<line x1="356" y1="658" x2="356" y2="661.3" stroke="#1a1a1a" stroke-width="1.1"/>
<line x1="353.7" y1="658" x2="358.3" y2="658" stroke="#1a1a1a" stroke-width="1.2"/>
<line x1="356" y1="661.3" x2="356" y2="665" stroke="#1a1a1a" stroke-width="1.1"/>
<line x1="353.7" y1="665" x2="358.3" y2="665" stroke="#1a1a1a" stroke-width="1.2"/>
<line x1="401.5" y1="656.4" x2="401.5" y2="660.9" stroke="#1a1a1a" stroke-width="1.1"/>
<line x1="399.2" y1="656.4" x2="403.8" y2="656.4" stroke="#1a1a1a" stroke-width="1.2"/>
<line x1="401.5" y1="660.9" x2="401.5" y2="667.4" stroke="#1a1a1a" stroke-width="1.1"/>
<line x1="399.2" y1="667.4" x2="403.8" y2="667.4" stroke="#1a1a1a" stroke-width="1.2"/>
<line x1="410.4" y1="655" x2="410.4" y2="659.9" stroke="#1a1a1a" stroke-width="1.1"/>
<line x1="408.1" y1="655" x2="412.7" y2="655" stroke="#1a1a1a" stroke-width="1.2"/>
<line x1="410.4" y1="659.9" x2="410.4" y2="666" stroke="#1a1a1a" stroke-width="1.1"/>
<line x1="408.1" y1="666" x2="412.7" y2="666" stroke="#1a1a1a" stroke-width="1.2"/>
<line x1="446.4" y1="653.6" x2="446.4" y2="658.9" stroke="#1a1a1a" stroke-width="1.1"/>
<line x1="444.1" y1="653.6" x2="448.7" y2="653.6" stroke="#1a1a1a" stroke-width="1.2"/>
<line x1="446.4" y1="658.9" x2="446.4" y2="664.8" stroke="#1a1a1a" stroke-width="1.1"/>
<line x1="444.1" y1="664.8" x2="448.7" y2="664.8" stroke="#1a1a1a" stroke-width="1.2"/>
<line x1="521.4" y1="663" x2="521.4" y2="666.6" stroke="#e2261c" stroke-width="1.1"/>
<line x1="519.1" y1="663" x2="523.7" y2="663" stroke="#e2261c" stroke-width="1.2"/>
<line x1="521.4" y1="666.6" x2="521.4" y2="670" stroke="#e2261c" stroke-width="1.1"/>
<line x1="519.1" y1="670" x2="523.7" y2="670" stroke="#e2261c" stroke-width="1.2"/>
<line x1="537.7" y1="655" x2="537.7" y2="658.1" stroke="#e2261c" stroke-width="1.1"/>
<line x1="535.4" y1="655" x2="540" y2="655" stroke="#e2261c" stroke-width="1.2"/>
<line x1="537.7" y1="658.1" x2="537.7" y2="661" stroke="#e2261c" stroke-width="1.1"/>
<line x1="535.4" y1="661" x2="540" y2="661" stroke="#e2261c" stroke-width="1.2"/>
<line x1="564.9" y1="681.7" x2="564.9" y2="687.5" stroke="#e2261c" stroke-width="1.1"/>
<line x1="562.6" y1="681.7" x2="567.2" y2="681.7" stroke="#e2261c" stroke-width="1.2"/>
<line x1="564.9" y1="687.5" x2="564.9" y2="693.2" stroke="#e2261c" stroke-width="1.1"/>
<line x1="562.6" y1="693.2" x2="567.2" y2="693.2" stroke="#e2261c" stroke-width="1.2"/>
<line x1="570.2" y1="675" x2="570.2" y2="678.7" stroke="#e2261c" stroke-width="1.1"/>
<line x1="567.9" y1="675" x2="572.5" y2="675" stroke="#e2261c" stroke-width="1.2"/>
<line x1="570.2" y1="678.7" x2="570.2" y2="683" stroke="#e2261c" stroke-width="1.1"/>
<line x1="567.9" y1="683" x2="572.5" y2="683" stroke="#e2261c" stroke-width="1.2"/>
<line x1="575.9" y1="670" x2="575.9" y2="674.1" stroke="#e2261c" stroke-width="1.1"/>
<line x1="573.6" y1="670" x2="578.2" y2="670" stroke="#e2261c" stroke-width="1.2"/>
<line x1="575.9" y1="674.1" x2="575.9" y2="678" stroke="#e2261c" stroke-width="1.1"/>
<line x1="573.6" y1="678" x2="578.2" y2="678" stroke="#e2261c" stroke-width="1.2"/>
<line x1="597.2" y1="616.6" x2="597.2" y2="626.7" stroke="#e2261c" stroke-width="1.1"/>
<line x1="594.9" y1="616.6" x2="599.5" y2="616.6" stroke="#e2261c" stroke-width="1.2"/>
<line x1="597.2" y1="626.7" x2="597.2" y2="636.1" stroke="#e2261c" stroke-width="1.1"/>
<line x1="594.9" y1="636.1" x2="599.5" y2="636.1" stroke="#e2261c" stroke-width="1.2"/>
<line x1="606.6" y1="662" x2="606.6" y2="665.7" stroke="#e2261c" stroke-width="1.1"/>
<line x1="604.3" y1="662" x2="608.9" y2="662" stroke="#e2261c" stroke-width="1.2"/>
<line x1="606.6" y1="665.7" x2="606.6" y2="669" stroke="#e2261c" stroke-width="1.1"/>
<line x1="604.3" y1="669" x2="608.9" y2="669" stroke="#e2261c" stroke-width="1.2"/>
<line x1="618.7" y1="663" x2="618.7" y2="667" stroke="#e2261c" stroke-width="1.1"/>
<line x1="616.4" y1="663" x2="621" y2="663" stroke="#e2261c" stroke-width="1.2"/>
<line x1="618.7" y1="667" x2="618.7" y2="671" stroke="#e2261c" stroke-width="1.1"/>
<line x1="616.4" y1="671" x2="621" y2="671" stroke="#e2261c" stroke-width="1.2"/>
<line x1="647.4" y1="685" x2="647.4" y2="687" stroke="#e2261c" stroke-width="1.1"/>
<line x1="645.1" y1="685" x2="649.7" y2="685" stroke="#e2261c" stroke-width="1.2"/>
<line x1="647.4" y1="687" x2="647.4" y2="689" stroke="#e2261c" stroke-width="1.1"/>
<line x1="645.1" y1="689" x2="649.7" y2="689" stroke="#e2261c" stroke-width="1.2"/>
<line x1="653.3" y1="678" x2="653.3" y2="681.7" stroke="#e2261c" stroke-width="1.1"/>
<line x1="651" y1="678" x2="655.6" y2="678" stroke="#e2261c" stroke-width="1.2"/>
<line x1="653.3" y1="681.7" x2="653.3" y2="685" stroke="#e2261c" stroke-width="1.1"/>
<line x1="651" y1="685" x2="655.6" y2="685" stroke="#e2261c" stroke-width="1.2"/>
<line x1="659.1" y1="670" x2="659.1" y2="674.6" stroke="#e2261c" stroke-width="1.1"/>
<line x1="656.8" y1="670" x2="661.4" y2="670" stroke="#e2261c" stroke-width="1.2"/>
<line x1="659.1" y1="674.6" x2="659.1" y2="679" stroke="#e2261c" stroke-width="1.1"/>
<line x1="656.8" y1="679" x2="661.4" y2="679" stroke="#e2261c" stroke-width="1.2"/>
<line x1="682.2" y1="613" x2="682.2" y2="616.9" stroke="#e2261c" stroke-width="1.1"/>
<line x1="679.9" y1="613" x2="684.5" y2="613" stroke="#e2261c" stroke-width="1.2"/>
<line x1="682.2" y1="616.9" x2="682.2" y2="620" stroke="#e2261c" stroke-width="1.1"/>
<line x1="679.9" y1="620" x2="684.5" y2="620" stroke="#e2261c" stroke-width="1.2"/>
<line x1="521.4" y1="656" x2="521.4" y2="660.4" stroke="#19a05a" stroke-width="1.1"/>
<line x1="519.1" y1="656" x2="523.7" y2="656" stroke="#19a05a" stroke-width="1.2"/>
<line x1="521.4" y1="660.4" x2="521.4" y2="665" stroke="#19a05a" stroke-width="1.1"/>
<line x1="519.1" y1="665" x2="523.7" y2="665" stroke="#19a05a" stroke-width="1.2"/>
<line x1="537.7" y1="648" x2="537.7" y2="652.8" stroke="#19a05a" stroke-width="1.1"/>
<line x1="535.4" y1="648" x2="540" y2="648" stroke="#19a05a" stroke-width="1.2"/>
<line x1="537.7" y1="652.8" x2="537.7" y2="657" stroke="#19a05a" stroke-width="1.1"/>
<line x1="535.4" y1="657" x2="540" y2="657" stroke="#19a05a" stroke-width="1.2"/>
<line x1="564.9" y1="641.4" x2="564.9" y2="647.1" stroke="#19a05a" stroke-width="1.1"/>
<line x1="562.6" y1="641.4" x2="567.2" y2="641.4" stroke="#19a05a" stroke-width="1.2"/>
<line x1="564.9" y1="647.1" x2="564.9" y2="653" stroke="#19a05a" stroke-width="1.1"/>
<line x1="562.6" y1="653" x2="567.2" y2="653" stroke="#19a05a" stroke-width="1.2"/>
<line x1="570.2" y1="645.7" x2="570.2" y2="656.3" stroke="#19a05a" stroke-width="1.1"/>
<line x1="567.9" y1="645.7" x2="572.5" y2="645.7" stroke="#19a05a" stroke-width="1.2"/>
<line x1="570.2" y1="656.3" x2="570.2" y2="667" stroke="#19a05a" stroke-width="1.1"/>
<line x1="567.9" y1="667" x2="572.5" y2="667" stroke="#19a05a" stroke-width="1.2"/>
<line x1="575.9" y1="643.5" x2="575.9" y2="651" stroke="#19a05a" stroke-width="1.1"/>
<line x1="573.6" y1="643.5" x2="578.2" y2="643.5" stroke="#19a05a" stroke-width="1.2"/>
<line x1="575.9" y1="651" x2="575.9" y2="658.1" stroke="#19a05a" stroke-width="1.1"/>
<line x1="573.6" y1="658.1" x2="578.2" y2="658.1" stroke="#19a05a" stroke-width="1.2"/>
<line x1="606.6" y1="654" x2="606.6" y2="658.6" stroke="#19a05a" stroke-width="1.1"/>
<line x1="604.3" y1="654" x2="608.9" y2="654" stroke="#19a05a" stroke-width="1.2"/>
<line x1="606.6" y1="658.6" x2="606.6" y2="663" stroke="#19a05a" stroke-width="1.1"/>
<line x1="604.3" y1="663" x2="608.9" y2="663" stroke="#19a05a" stroke-width="1.2"/>
<line x1="618.7" y1="656" x2="618.7" y2="659.2" stroke="#19a05a" stroke-width="1.1"/>
<line x1="616.4" y1="656" x2="621" y2="656" stroke="#19a05a" stroke-width="1.2"/>
<line x1="618.7" y1="659.2" x2="618.7" y2="662" stroke="#19a05a" stroke-width="1.1"/>
<line x1="616.4" y1="662" x2="621" y2="662" stroke="#19a05a" stroke-width="1.2"/>
<line x1="647.4" y1="647" x2="647.4" y2="650.6" stroke="#19a05a" stroke-width="1.1"/>
<line x1="645.1" y1="647" x2="649.7" y2="647" stroke="#19a05a" stroke-width="1.2"/>
<line x1="647.4" y1="650.6" x2="647.4" y2="654" stroke="#19a05a" stroke-width="1.1"/>
<line x1="645.1" y1="654" x2="649.7" y2="654" stroke="#19a05a" stroke-width="1.2"/>
<line x1="653.3" y1="653" x2="653.3" y2="657.2" stroke="#19a05a" stroke-width="1.1"/>
<line x1="651" y1="653" x2="655.6" y2="653" stroke="#19a05a" stroke-width="1.2"/>
<line x1="653.3" y1="657.2" x2="653.3" y2="661" stroke="#19a05a" stroke-width="1.1"/>
<line x1="651" y1="661" x2="655.6" y2="661" stroke="#19a05a" stroke-width="1.2"/>
<line x1="659.1" y1="648" x2="659.1" y2="651.5" stroke="#19a05a" stroke-width="1.1"/>
<line x1="656.8" y1="648" x2="661.4" y2="648" stroke="#19a05a" stroke-width="1.2"/>
<line x1="659.1" y1="651.5" x2="659.1" y2="655" stroke="#19a05a" stroke-width="1.1"/>
<line x1="656.8" y1="655" x2="661.4" y2="655" stroke="#19a05a" stroke-width="1.2"/>
<line x1="682.2" y1="643" x2="682.2" y2="646.7" stroke="#19a05a" stroke-width="1.1"/>
<line x1="679.9" y1="643" x2="684.5" y2="643" stroke="#19a05a" stroke-width="1.2"/>
<line x1="682.2" y1="646.7" x2="682.2" y2="650" stroke="#19a05a" stroke-width="1.1"/>
<line x1="679.9" y1="650" x2="684.5" y2="650" stroke="#19a05a" stroke-width="1.2"/>
<polyline points="65.9,45.3 89,60.7 93.2,68.3 98.5,59.8 104.1,45 125.5,57.8" fill="none" stroke="#3d2ea0" stroke-width="1.1" stroke-linejoin="round"/>
<polyline points="135.4,52.9 156.4,40 167.3,48.7 209.5,47.6" fill="none" stroke="#3d2ea0" stroke-width="1.1" stroke-linejoin="round"/>
<polyline points="65.9,47.3 89,50 93.2,41.1 98.5,46 104.1,40.1 125.5,59.1" fill="none" stroke="#e2261c" stroke-width="1.1" stroke-linejoin="round"/>
<polyline points="135.4,47.6 156.4,51.2 167.3,64.8 209.5,47.6" fill="none" stroke="#e2261c" stroke-width="1.1" stroke-linejoin="round"/>
<polyline points="65.9,49.7 89,42.3 93.2,56.2 98.5,49 104.1,48.6 125.5,64" fill="none" stroke="#f7d800" stroke-width="1.1" stroke-linejoin="round"/>
<polyline points="135.4,56.4 156.4,47.3 167.3,43.4 209.5,47.6" fill="none" stroke="#f7d800" stroke-width="1.1" stroke-linejoin="round"/>
<polyline points="279.6,28.2 321,41.9 331.4,30.4 341.7,42.4 352.1,51.8 393.5,43" fill="none" stroke="#3d2ea0" stroke-width="1.1" stroke-linejoin="round"/>
<polyline points="402.6,36.1 439.8,65" fill="none" stroke="#3d2ea0" stroke-width="1.1" stroke-linejoin="round"/>
<polyline points="279.6,40.2 321,41.9 331.4,50.9 341.7,42 352.1,41 393.5,42" fill="none" stroke="#1a1a1a" stroke-width="1.1" stroke-linejoin="round"/>
<polyline points="402.6,35.1 439.8,51.7" fill="none" stroke="#1a1a1a" stroke-width="1.1" stroke-linejoin="round"/>
<polyline points="514.2,62.3 529.2,59.4 554.6,57.2 559.8,85.4 564.9,61.5 567.4,48.7 585,65.8 590.7,70.9" fill="none" stroke="#e2261c" stroke-width="1.1" stroke-linejoin="round"/>
<polyline points="598.9,79.4 610.9,61 639.9,21.9 642.8,46.1 645.9,62.3 651.9,62.9 675.3,67.5" fill="none" stroke="#e2261c" stroke-width="1.1" stroke-linejoin="round"/>
<polyline points="514.2,61 529.2,55 554.6,70.5 559.8,77.7 564.9,68 585,64.4 590.7,64.6" fill="none" stroke="#19a05a" stroke-width="1.1" stroke-linejoin="round"/>
<polyline points="598.9,65.2 610.9,56 639.9,64.4 645.9,58.9 651.9,71.4 675.3,64.9" fill="none" stroke="#19a05a" stroke-width="1.1" stroke-linejoin="round"/>
<polyline points="49.2,268.2 87.2,268.2 92.3,268.2 97.7,268.2 103.4,268.2 125.1,268.2" fill="none" stroke="#3d2ea0" stroke-width="1.1" stroke-linejoin="round"/>
<polyline points="134,268.7 155.8,268.7 166.5,268.7 208.9,268.7" fill="none" stroke="#3d2ea0" stroke-width="1.1" stroke-linejoin="round"/>
<polyline points="49.2,268.2 87.2,268.2 92.3,268.2 97.7,268.2 103.4,268.2 125.1,268.2" fill="none" stroke="#e2261c" stroke-width="1.1" stroke-linejoin="round"/>
<polyline points="134,270.5 155.8,270.8 166.5,271 208.9,271.4" fill="none" stroke="#e2261c" stroke-width="1.1" stroke-linejoin="round"/>
<polyline points="49.2,265.2 87.2,264.3 92.3,267.3 97.7,265.3 103.4,267 125.1,265.8" fill="none" stroke="#f7d800" stroke-width="1.3" stroke-linejoin="round"/>
<polyline points="134,267 155.8,267.3 166.5,267.5 208.9,267.5" fill="none" stroke="#f7d800" stroke-width="1.3" stroke-linejoin="round"/>
<polyline points="279.3,259.3 313.4,259.8 324.7,260.9 336.1,260.5 347.4,260.5 392.8,260.4" fill="none" stroke="#3d2ea0" stroke-width="1.1" stroke-linejoin="round"/>
<polyline points="402.3,259.1 440,260" fill="none" stroke="#3d2ea0" stroke-width="1.1" stroke-linejoin="round"/>
<polyline points="279.3,268.3 313.4,269.4 324.7,269.6 336.1,269.6 347.4,269.6 392.8,269.9" fill="none" stroke="#1a1a1a" stroke-width="1.1" stroke-linejoin="round"/>
<polyline points="402.3,269.5 440,269.5" fill="none" stroke="#1a1a1a" stroke-width="1.1" stroke-linejoin="round"/>
<polyline points="518.3,274.5 534.6,268.3 561.7,279.3 567.2,274 572.6,273 594.3,260.6" fill="none" stroke="#e2261c" stroke-width="1.1" stroke-linejoin="round"/>
<polyline points="603.1,254.1 621,246.4 624.5,252.1 627,251.8 637.3,238.5 655.9,236.3 674.5,231" fill="none" stroke="#e2261c" stroke-width="1.1" stroke-linejoin="round"/>
<polyline points="518.3,276.6 534.6,271.6 561.7,267.7 567.2,259.4 572.6,263 594.3,253.5" fill="none" stroke="#19a05a" stroke-width="1.1" stroke-linejoin="round"/>
<polyline points="603.1,247.9 621.3,237.6 624.4,235.4 627,238 637.3,228.7 655.9,227.8 674.5,230.5" fill="none" stroke="#19a05a" stroke-width="1.1" stroke-linejoin="round"/>
<polyline points="53.4,458.5 64.8,484 75.7,447.4 91.8,481.4 97,468.7 102.5,462.7 107.6,468.7 129.2,467.6" fill="none" stroke="#3d2ea0" stroke-width="1.1" stroke-linejoin="round"/>
<polyline points="138.7,474.2 150,470.5 160.4,477 171.2,471.1 214,471.1" fill="none" stroke="#3d2ea0" stroke-width="1.1" stroke-linejoin="round"/>
<polyline points="53.4,486.5 64.8,490.3 75.7,472.6 97,457.7 102.5,450.3 107.6,467.3 129.2,482" fill="none" stroke="#e2261c" stroke-width="1.1" stroke-linejoin="round"/>
<polyline points="138.7,488.5 150,429.3 160.4,440.1 171.2,469.8 214,482" fill="none" stroke="#e2261c" stroke-width="1.1" stroke-linejoin="round"/>
<polyline points="53.4,479.4 64.8,475.6 75.7,477 97,487.4 102.5,470 107.6,479.8 129.2,482" fill="none" stroke="#f7d800" stroke-width="1.1" stroke-linejoin="round"/>
<polyline points="138.7,477 150,482.4 160.4,475.5 171.2,481.3 214,477" fill="none" stroke="#f7d800" stroke-width="1.1" stroke-linejoin="round"/>
<polyline points="285.3,498.5 319.4,474.1 330.8,449.2 342.2,452.2 353.6,460.8 399.1,481.1" fill="none" stroke="#3d2ea0" stroke-width="1.1" stroke-linejoin="round"/>
<polyline points="408.4,489.5 446,482.1" fill="none" stroke="#3d2ea0" stroke-width="1.1" stroke-linejoin="round"/>
<polyline points="285.3,479.6 319.4,474.3 330.8,473.1 342.2,465.8 353.6,475 399.1,473.4" fill="none" stroke="#1a1a1a" stroke-width="1.1" stroke-linejoin="round"/>
<polyline points="408.4,472.8 446,442.2" fill="none" stroke="#1a1a1a" stroke-width="1.1" stroke-linejoin="round"/>
<polyline points="518.1,472.2 534.4,475.4 561.9,449.5 567.2,447.3 572.7,464.7 594.4,480.7" fill="none" stroke="#e2261c" stroke-width="1.1" stroke-linejoin="round"/>
<polyline points="604,468.6 615.1,472.7 643.9,450.3 649.2,438.1 655.4,459.8 678.1,463.3" fill="none" stroke="#e2261c" stroke-width="1.1" stroke-linejoin="round"/>
<polyline points="518.1,457.1 534.4,462.1 561.9,457.1 567.2,470.4 572.7,469.2 594.4,470" fill="none" stroke="#19a05a" stroke-width="1.1" stroke-linejoin="round"/>
<polyline points="604,457.1 615.1,451.8 643.9,459.8 649.2,462.4 655.4,459.2 678.1,458.3" fill="none" stroke="#19a05a" stroke-width="1.1" stroke-linejoin="round"/>
<polyline points="56.1,641.4 67.1,658.6 77.8,651 99.6,658.6 105.3,654.5 110.6,654.2 132.2,653.7" fill="none" stroke="#3d2ea0" stroke-width="1.1" stroke-linejoin="round"/>
<polyline points="142,645.7 152.6,638.2 163.6,646.2 174.3,647.1 216.9,651" fill="none" stroke="#3d2ea0" stroke-width="1.1" stroke-linejoin="round"/>
<polyline points="56.1,667.1 67.1,645.3 77.8,663.1 99.6,672.8 105.3,675.8 110.6,674.6 132.2,659.5" fill="none" stroke="#e2261c" stroke-width="1.1" stroke-linejoin="round"/>
<polyline points="142,667.5 152.6,675.5 163.6,677.6 174.3,678.7 216.9,656" fill="none" stroke="#e2261c" stroke-width="1.1" stroke-linejoin="round"/>
<polyline points="56.1,658.6 67.1,654.5 77.8,665.7 94.3,652.4 99.6,657.7 105.3,658.6 110.6,660.4 132.2,661.3" fill="none" stroke="#f7d800" stroke-width="1.1" stroke-linejoin="round"/>
<polyline points="142,661.6 152.6,662.2 163.6,660 174.3,660.9 216.9,658.1" fill="none" stroke="#f7d800" stroke-width="1.1" stroke-linejoin="round"/>
<polyline points="287.7,676.6 321.8,642 333.2,670.5 344.6,673.3 356,664.8 401.5,636.3" fill="none" stroke="#3d2ea0" stroke-width="1.1" stroke-linejoin="round"/>
<polyline points="410.4,654 446.4,660.9" fill="none" stroke="#3d2ea0" stroke-width="1.1" stroke-linejoin="round"/>
<polyline points="287.7,666.9 321.8,663.2 333.2,660.8 344.6,659.5 356,661.3 401.5,660.9" fill="none" stroke="#1a1a1a" stroke-width="1.1" stroke-linejoin="round"/>
<polyline points="410.4,659.9 446.4,658.9" fill="none" stroke="#1a1a1a" stroke-width="1.1" stroke-linejoin="round"/>
<polyline points="521.4,666.6 537.7,658.1 564.9,687.5 570.2,678.7 575.9,674.1 597.2,626.7" fill="none" stroke="#e2261c" stroke-width="1.1" stroke-linejoin="round"/>
<polyline points="606.6,665.7 618.7,667 647.4,687 653.3,681.7 659.1,674.6 682.2,616.9" fill="none" stroke="#e2261c" stroke-width="1.1" stroke-linejoin="round"/>
<polyline points="521.4,660.4 537.7,652.8 564.9,647.1 570.2,656.3 575.9,651 597.2,651" fill="none" stroke="#19a05a" stroke-width="1.1" stroke-linejoin="round"/>
<polyline points="606.6,658.6 618.7,659.2 647.4,650.6 653.3,657.2 659.1,651.5 682.2,646.7" fill="none" stroke="#19a05a" stroke-width="1.1" stroke-linejoin="round"/>
<path d="M63.5,43.5H68.3L65.9,47.7Z" fill="#3d2ea0"/>
<path d="M86.6,58.9H91.4L89,63.1Z" fill="#3d2ea0"/>
<path d="M90.8,66.5H95.6L93.2,70.7Z" fill="#3d2ea0"/>
<path d="M96.1,58H100.9L98.5,62.2Z" fill="#3d2ea0"/>
<path d="M101.7,43.2H106.5L104.1,47.4Z" fill="#3d2ea0"/>
<path d="M123.1,56H127.9L125.5,60.2Z" fill="#3d2ea0"/>
<path d="M133,51.1H137.8L135.4,55.3Z" fill="#3d2ea0"/>
<path d="M154,38.2H158.8L156.4,42.4Z" fill="#3d2ea0"/>
<path d="M164.9,46.9H169.7L167.3,51.1Z" fill="#3d2ea0"/>
<path d="M207.1,45.8H211.9L209.5,50Z" fill="#3d2ea0"/>
<circle cx="279.6" cy="28.2" r="2.4" fill="#3d2ea0"/>
<circle cx="321" cy="41.9" r="2.4" fill="#3d2ea0"/>
<circle cx="331.4" cy="30.4" r="2.4" fill="#3d2ea0"/>
<circle cx="341.7" cy="42.4" r="2.4" fill="#3d2ea0"/>
<circle cx="352.1" cy="51.8" r="2.4" fill="#3d2ea0"/>
<circle cx="393.5" cy="43" r="2.4" fill="#3d2ea0"/>
<circle cx="402.6" cy="36.1" r="2.4" fill="#3d2ea0"/>
<circle cx="439.8" cy="65" r="2.4" fill="#3d2ea0"/>
<rect x="511.9" y="60" width="4.6" height="4.6" fill="#e2261c"/>
<rect x="526.9" y="57.1" width="4.6" height="4.6" fill="#e2261c"/>
<rect x="552.3" y="54.9" width="4.6" height="4.6" fill="#e2261c"/>
<rect x="557.5" y="83.1" width="4.6" height="4.6" fill="#e2261c"/>
<rect x="562.6" y="59.2" width="4.6" height="4.6" fill="#e2261c"/>
<rect x="565.1" y="46.4" width="4.6" height="4.6" fill="#e2261c"/>
<rect x="582.7" y="63.5" width="4.6" height="4.6" fill="#e2261c"/>
<rect x="596.6" y="77.1" width="4.6" height="4.6" fill="#e2261c"/>
<rect x="608.6" y="58.7" width="4.6" height="4.6" fill="#e2261c"/>
<rect x="637.6" y="19.6" width="4.6" height="4.6" fill="#e2261c"/>
<rect x="640.5" y="43.8" width="4.6" height="4.6" fill="#e2261c"/>
<rect x="643.6" y="60" width="4.6" height="4.6" fill="#e2261c"/>
<rect x="649.6" y="60.6" width="4.6" height="4.6" fill="#e2261c"/>
<rect x="673" y="65.2" width="4.6" height="4.6" fill="#e2261c"/>
<circle cx="49.2" cy="268.2" r="2" fill="#3d2ea0"/>
<circle cx="87.2" cy="268.2" r="2" fill="#3d2ea0"/>
<circle cx="92.3" cy="268.2" r="2" fill="#3d2ea0"/>
<circle cx="97.7" cy="268.2" r="2" fill="#3d2ea0"/>
<circle cx="103.4" cy="268.2" r="2" fill="#3d2ea0"/>
<circle cx="125.1" cy="268.2" r="2" fill="#3d2ea0"/>
<circle cx="134" cy="268.7" r="2" fill="#3d2ea0"/>
<circle cx="155.8" cy="268.7" r="2" fill="#3d2ea0"/>
<circle cx="166.5" cy="268.7" r="2" fill="#3d2ea0"/>
<circle cx="208.9" cy="268.7" r="2" fill="#3d2ea0"/>
<circle cx="279.3" cy="259.3" r="2.4" fill="#3d2ea0"/>
<circle cx="313.4" cy="259.8" r="2.4" fill="#3d2ea0"/>
<circle cx="324.7" cy="260.9" r="2.4" fill="#3d2ea0"/>
<circle cx="336.1" cy="260.5" r="2.4" fill="#3d2ea0"/>
<circle cx="347.4" cy="260.5" r="2.4" fill="#3d2ea0"/>
<circle cx="392.8" cy="260.4" r="2.4" fill="#3d2ea0"/>
<circle cx="402.3" cy="259.1" r="2.4" fill="#3d2ea0"/>
<circle cx="440" cy="260" r="2.4" fill="#3d2ea0"/>
<rect x="516" y="272.2" width="4.6" height="4.6" fill="#e2261c"/>
<rect x="532.3" y="266" width="4.6" height="4.6" fill="#e2261c"/>
<rect x="559.4" y="277" width="4.6" height="4.6" fill="#e2261c"/>
<rect x="564.9" y="271.7" width="4.6" height="4.6" fill="#e2261c"/>
<rect x="570.3" y="270.7" width="4.6" height="4.6" fill="#e2261c"/>
<rect x="592" y="258.3" width="4.6" height="4.6" fill="#e2261c"/>
<rect x="600.8" y="251.8" width="4.6" height="4.6" fill="#e2261c"/>
<rect x="618.7" y="244.1" width="4.6" height="4.6" fill="#e2261c"/>
<rect x="622.2" y="249.8" width="4.6" height="4.6" fill="#e2261c"/>
<rect x="624.7" y="249.5" width="4.6" height="4.6" fill="#e2261c"/>
<rect x="635" y="236.2" width="4.6" height="4.6" fill="#e2261c"/>
<rect x="653.6" y="234" width="4.6" height="4.6" fill="#e2261c"/>
<rect x="672.2" y="228.7" width="4.6" height="4.6" fill="#e2261c"/>
<path d="M53.4,456.1L55.6,458.5L53.4,460.9L51.2,458.5Z" fill="#3d2ea0"/>
<path d="M64.8,481.6L67,484L64.8,486.4L62.6,484Z" fill="#3d2ea0"/>
<path d="M75.7,445L77.9,447.4L75.7,449.8L73.5,447.4Z" fill="#3d2ea0"/>
<path d="M91.8,479L94,481.4L91.8,483.8L89.6,481.4Z" fill="#3d2ea0"/>
<path d="M97,466.3L99.2,468.7L97,471.1L94.8,468.7Z" fill="#3d2ea0"/>
<path d="M102.5,460.3L104.7,462.7L102.5,465.1L100.3,462.7Z" fill="#3d2ea0"/>
<path d="M107.6,466.3L109.8,468.7L107.6,471.1L105.4,468.7Z" fill="#3d2ea0"/>
<path d="M129.2,465.2L131.4,467.6L129.2,470L127,467.6Z" fill="#3d2ea0"/>
<path d="M138.7,471.8L140.9,474.2L138.7,476.6L136.5,474.2Z" fill="#3d2ea0"/>
<path d="M150,468.1L152.2,470.5L150,472.9L147.8,470.5Z" fill="#3d2ea0"/>
<path d="M160.4,474.6L162.6,477L160.4,479.4L158.2,477Z" fill="#3d2ea0"/>
<path d="M171.2,468.7L173.4,471.1L171.2,473.5L169,471.1Z" fill="#3d2ea0"/>
<path d="M214,468.7L216.2,471.1L214,473.5L211.8,471.1Z" fill="#3d2ea0"/>
<circle cx="285.3" cy="498.5" r="2.4" fill="#3d2ea0"/>
<circle cx="319.4" cy="474.1" r="2.4" fill="#3d2ea0"/>
<circle cx="330.8" cy="449.2" r="2.4" fill="#3d2ea0"/>
<circle cx="342.2" cy="452.2" r="2.4" fill="#3d2ea0"/>
<circle cx="353.6" cy="460.8" r="2.4" fill="#3d2ea0"/>
<circle cx="399.1" cy="481.1" r="2.4" fill="#3d2ea0"/>
<circle cx="408.4" cy="489.5" r="2.4" fill="#3d2ea0"/>
<circle cx="446" cy="482.1" r="2.4" fill="#3d2ea0"/>
<rect x="515.8" y="469.9" width="4.6" height="4.6" fill="#e2261c"/>
<rect x="532.1" y="473.1" width="4.6" height="4.6" fill="#e2261c"/>
<rect x="559.6" y="447.2" width="4.6" height="4.6" fill="#e2261c"/>
<rect x="564.9" y="445" width="4.6" height="4.6" fill="#e2261c"/>
<rect x="570.4" y="462.4" width="4.6" height="4.6" fill="#e2261c"/>
<rect x="592.1" y="478.4" width="4.6" height="4.6" fill="#e2261c"/>
<rect x="601.7" y="466.3" width="4.6" height="4.6" fill="#e2261c"/>
<rect x="612.8" y="470.4" width="4.6" height="4.6" fill="#e2261c"/>
<rect x="641.6" y="448" width="4.6" height="4.6" fill="#e2261c"/>
<rect x="646.9" y="435.8" width="4.6" height="4.6" fill="#e2261c"/>
<rect x="653.1" y="457.5" width="4.6" height="4.6" fill="#e2261c"/>
<rect x="675.8" y="461" width="4.6" height="4.6" fill="#e2261c"/>
<path d="M56.1,639L58.3,641.4L56.1,643.8L53.9,641.4Z" fill="#3d2ea0"/>
<path d="M67.1,656.2L69.3,658.6L67.1,661L64.9,658.6Z" fill="#3d2ea0"/>
<path d="M77.8,648.6L80,651L77.8,653.4L75.6,651Z" fill="#3d2ea0"/>
<path d="M99.6,656.2L101.8,658.6L99.6,661L97.4,658.6Z" fill="#3d2ea0"/>
<path d="M105.3,652.1L107.5,654.5L105.3,656.9L103.1,654.5Z" fill="#3d2ea0"/>
<path d="M110.6,651.8L112.8,654.2L110.6,656.6L108.4,654.2Z" fill="#3d2ea0"/>
<path d="M132.2,651.3L134.4,653.7L132.2,656.1L130,653.7Z" fill="#3d2ea0"/>
<path d="M142,643.3L144.2,645.7L142,648.1L139.8,645.7Z" fill="#3d2ea0"/>
<path d="M152.6,635.8L154.8,638.2L152.6,640.6L150.4,638.2Z" fill="#3d2ea0"/>
<path d="M163.6,643.8L165.8,646.2L163.6,648.6L161.4,646.2Z" fill="#3d2ea0"/>
<path d="M174.3,644.7L176.5,647.1L174.3,649.5L172.1,647.1Z" fill="#3d2ea0"/>
<path d="M216.9,648.6L219.1,651L216.9,653.4L214.7,651Z" fill="#3d2ea0"/>
<circle cx="287.7" cy="676.6" r="2.4" fill="#3d2ea0"/>
<circle cx="321.8" cy="642" r="2.4" fill="#3d2ea0"/>
<circle cx="333.2" cy="670.5" r="2.4" fill="#3d2ea0"/>
<circle cx="344.6" cy="673.3" r="2.4" fill="#3d2ea0"/>
<circle cx="356" cy="664.8" r="2.4" fill="#3d2ea0"/>
<circle cx="401.5" cy="636.3" r="2.4" fill="#3d2ea0"/>
<circle cx="410.4" cy="654" r="2.4" fill="#3d2ea0"/>
<circle cx="446.4" cy="660.9" r="2.4" fill="#3d2ea0"/>
<rect x="519.1" y="664.3" width="4.6" height="4.6" fill="#e2261c"/>
<rect x="535.4" y="655.8" width="4.6" height="4.6" fill="#e2261c"/>
<rect x="562.6" y="685.2" width="4.6" height="4.6" fill="#e2261c"/>
<rect x="567.9" y="676.4" width="4.6" height="4.6" fill="#e2261c"/>
<rect x="573.6" y="671.8" width="4.6" height="4.6" fill="#e2261c"/>
<rect x="594.9" y="624.4" width="4.6" height="4.6" fill="#e2261c"/>
<rect x="604.3" y="663.4" width="4.6" height="4.6" fill="#e2261c"/>
<rect x="616.4" y="664.7" width="4.6" height="4.6" fill="#e2261c"/>
<rect x="645.1" y="684.7" width="4.6" height="4.6" fill="#e2261c"/>
<rect x="651" y="679.4" width="4.6" height="4.6" fill="#e2261c"/>
<rect x="656.8" y="672.3" width="4.6" height="4.6" fill="#e2261c"/>
<rect x="679.9" y="614.6" width="4.6" height="4.6" fill="#e2261c"/>
<path d="M63.5,51.5H68.3L65.9,47.3Z" fill="#f7d800"/>
<path d="M86.6,44.1H91.4L89,39.9Z" fill="#f7d800"/>
<path d="M90.8,58H95.6L93.2,53.8Z" fill="#f7d800"/>
<path d="M96.1,50.8H100.9L98.5,46.6Z" fill="#f7d800"/>
<path d="M101.7,50.4H106.5L104.1,46.2Z" fill="#f7d800"/>
<path d="M123.1,65.8H127.9L125.5,61.6Z" fill="#f7d800"/>
<path d="M133,58.2H137.8L135.4,54Z" fill="#f7d800"/>
<path d="M154,49.1H158.8L156.4,44.9Z" fill="#f7d800"/>
<path d="M164.9,45.2H169.7L167.3,41Z" fill="#f7d800"/>
<path d="M207.1,49.4H211.9L209.5,45.2Z" fill="#f7d800"/>
<path d="M277.2,38.4H282L279.6,42.6Z" fill="#1a1a1a"/>
<path d="M318.6,40.1H323.4L321,44.3Z" fill="#1a1a1a"/>
<path d="M328.9,49.1H333.8L331.4,53.3Z" fill="#1a1a1a"/>
<path d="M339.3,40.2H344.1L341.7,44.4Z" fill="#1a1a1a"/>
<path d="M349.6,39.2H354.5L352.1,43.4Z" fill="#1a1a1a"/>
<path d="M391,40.2H395.9L393.5,44.4Z" fill="#1a1a1a"/>
<path d="M400.2,33.3H405L402.6,37.5Z" fill="#1a1a1a"/>
<path d="M437.4,49.9H442.2L439.8,54.1Z" fill="#1a1a1a"/>
<circle cx="514.2" cy="61" r="2.4" fill="#19a05a"/>
<circle cx="529.2" cy="55" r="2.4" fill="#19a05a"/>
<circle cx="554.6" cy="70.5" r="2.4" fill="#19a05a"/>
<circle cx="559.8" cy="77.7" r="2.4" fill="#19a05a"/>
<circle cx="564.9" cy="68" r="2.4" fill="#19a05a"/>
<circle cx="585" cy="64.4" r="2.4" fill="#19a05a"/>
<circle cx="598.9" cy="65.2" r="2.4" fill="#19a05a"/>
<circle cx="610.9" cy="56" r="2.4" fill="#19a05a"/>
<circle cx="639.9" cy="64.4" r="2.4" fill="#19a05a"/>
<circle cx="645.9" cy="58.9" r="2.4" fill="#19a05a"/>
<circle cx="651.9" cy="71.4" r="2.4" fill="#19a05a"/>
<circle cx="675.3" cy="64.9" r="2.4" fill="#19a05a"/>
<path d="M276.9,266.5H281.7L279.3,270.7Z" fill="#1a1a1a"/>
<path d="M310.9,267.6H315.8L313.4,271.8Z" fill="#1a1a1a"/>
<path d="M322.3,267.8H327.1L324.7,272Z" fill="#1a1a1a"/>
<path d="M333.6,267.8H338.5L336.1,272Z" fill="#1a1a1a"/>
<path d="M345,267.8H349.8L347.4,272Z" fill="#1a1a1a"/>
<path d="M390.4,268.1H395.2L392.8,272.3Z" fill="#1a1a1a"/>
<path d="M399.9,267.7H404.7L402.3,271.9Z" fill="#1a1a1a"/>
<path d="M437.6,267.7H442.4L440,271.9Z" fill="#1a1a1a"/>
<circle cx="518.3" cy="276.6" r="2.4" fill="#19a05a"/>
<circle cx="534.6" cy="271.6" r="2.4" fill="#19a05a"/>
<circle cx="561.7" cy="267.7" r="2.4" fill="#19a05a"/>
<circle cx="567.2" cy="259.4" r="2.4" fill="#19a05a"/>
<circle cx="572.6" cy="263" r="2.4" fill="#19a05a"/>
<circle cx="594.3" cy="253.5" r="2.4" fill="#19a05a"/>
<circle cx="603.1" cy="247.9" r="2.4" fill="#19a05a"/>
<circle cx="621.3" cy="237.6" r="2.4" fill="#19a05a"/>
<circle cx="624.4" cy="235.4" r="2.4" fill="#19a05a"/>
<circle cx="627" cy="238" r="2.4" fill="#19a05a"/>
<circle cx="637.3" cy="228.7" r="2.4" fill="#19a05a"/>
<circle cx="655.9" cy="227.8" r="2.4" fill="#19a05a"/>
<circle cx="674.5" cy="230.5" r="2.4" fill="#19a05a"/>
<path d="M51,481.2H55.8L53.4,477Z" fill="#f7d800"/>
<path d="M62.4,477.4H67.2L64.8,473.2Z" fill="#f7d800"/>
<path d="M73.3,478.8H78.1L75.7,474.6Z" fill="#f7d800"/>
<path d="M94.6,489.2H99.4L97,485Z" fill="#f7d800"/>
<path d="M100.1,471.8H104.9L102.5,467.6Z" fill="#f7d800"/>
<path d="M105.2,481.6H110L107.6,477.4Z" fill="#f7d800"/>
<path d="M126.8,483.8H131.6L129.2,479.6Z" fill="#f7d800"/>
<path d="M136.3,478.8H141.1L138.7,474.6Z" fill="#f7d800"/>
<path d="M147.6,484.2H152.4L150,480Z" fill="#f7d800"/>
<path d="M158,477.3H162.8L160.4,473.1Z" fill="#f7d800"/>
<path d="M168.8,483.1H173.6L171.2,478.9Z" fill="#f7d800"/>
<path d="M211.6,478.8H216.4L214,474.6Z" fill="#f7d800"/>
<path d="M282.9,477.8H287.7L285.3,482Z" fill="#1a1a1a"/>
<path d="M328.4,471.3H333.2L330.8,475.5Z" fill="#1a1a1a"/>
<path d="M339.8,464H344.6L342.2,468.2Z" fill="#1a1a1a"/>
<path d="M351.2,473.2H356L353.6,477.4Z" fill="#1a1a1a"/>
<path d="M396.7,471.6H401.5L399.1,475.8Z" fill="#1a1a1a"/>
<path d="M406,471H410.8L408.4,475.2Z" fill="#1a1a1a"/>
<path d="M443.6,440.4H448.4L446,444.6Z" fill="#1a1a1a"/>
<circle cx="518.1" cy="457.1" r="2.4" fill="#19a05a"/>
<circle cx="534.4" cy="462.1" r="2.4" fill="#19a05a"/>
<circle cx="561.9" cy="457.1" r="2.4" fill="#19a05a"/>
<circle cx="567.2" cy="470.4" r="2.4" fill="#19a05a"/>
<circle cx="572.7" cy="469.2" r="2.4" fill="#19a05a"/>
<circle cx="594.4" cy="470" r="2.4" fill="#19a05a"/>
<circle cx="604" cy="457.1" r="2.4" fill="#19a05a"/>
<circle cx="615.1" cy="451.8" r="2.4" fill="#19a05a"/>
<circle cx="643.9" cy="459.8" r="2.4" fill="#19a05a"/>
<circle cx="649.2" cy="462.4" r="2.4" fill="#19a05a"/>
<circle cx="655.4" cy="459.2" r="2.4" fill="#19a05a"/>
<circle cx="678.1" cy="458.3" r="2.4" fill="#19a05a"/>
<path d="M53.7,660.4H58.5L56.1,656.2Z" fill="#f7d800"/>
<path d="M64.7,656.3H69.5L67.1,652.1Z" fill="#f7d800"/>
<path d="M75.4,667.5H80.2L77.8,663.3Z" fill="#f7d800"/>
<path d="M91.9,654.2H96.7L94.3,650Z" fill="#f7d800"/>
<path d="M97.2,659.5H102L99.6,655.3Z" fill="#f7d800"/>
<path d="M102.9,660.4H107.7L105.3,656.2Z" fill="#f7d800"/>
<path d="M108.2,662.2H113L110.6,658Z" fill="#f7d800"/>
<path d="M129.8,663.1H134.6L132.2,658.9Z" fill="#f7d800"/>
<path d="M139.6,663.4H144.4L142,659.2Z" fill="#f7d800"/>
<path d="M150.2,664H155L152.6,659.8Z" fill="#f7d800"/>
<path d="M161.2,661.8H166L163.6,657.6Z" fill="#f7d800"/>
<path d="M171.9,662.7H176.7L174.3,658.5Z" fill="#f7d800"/>
<path d="M214.5,659.9H219.3L216.9,655.7Z" fill="#f7d800"/>
<path d="M285.3,665.1H290.1L287.7,669.3Z" fill="#1a1a1a"/>
<path d="M330.8,659H335.6L333.2,663.2Z" fill="#1a1a1a"/>
<path d="M342.2,657.7H347L344.6,661.9Z" fill="#1a1a1a"/>
<path d="M353.6,659.5H358.4L356,663.7Z" fill="#1a1a1a"/>
<path d="M399.1,659.1H403.9L401.5,663.3Z" fill="#1a1a1a"/>
<path d="M408,658.1H412.8L410.4,662.3Z" fill="#1a1a1a"/>
<path d="M444,657.1H448.8L446.4,661.3Z" fill="#1a1a1a"/>
<circle cx="521.4" cy="660.4" r="2.4" fill="#19a05a"/>
<circle cx="537.7" cy="652.8" r="2.4" fill="#19a05a"/>
<circle cx="564.9" cy="647.1" r="2.4" fill="#19a05a"/>
<circle cx="570.2" cy="656.3" r="2.4" fill="#19a05a"/>
<circle cx="575.9" cy="651" r="2.4" fill="#19a05a"/>
<circle cx="597.2" cy="651" r="2.4" fill="#19a05a"/>
<circle cx="606.6" cy="658.6" r="2.4" fill="#19a05a"/>
<circle cx="618.7" cy="659.2" r="2.4" fill="#19a05a"/>
<circle cx="647.4" cy="650.6" r="2.4" fill="#19a05a"/>
<circle cx="653.3" cy="657.2" r="2.4" fill="#19a05a"/>
<circle cx="659.1" cy="651.5" r="2.4" fill="#19a05a"/>
<circle cx="682.2" cy="646.7" r="2.4" fill="#19a05a"/>
<circle cx="65.9" cy="47.3" r="2.4" fill="#e2261c"/>
<circle cx="89" cy="50" r="2.4" fill="#e2261c"/>
<circle cx="93.2" cy="41.1" r="2.4" fill="#e2261c"/>
<circle cx="98.5" cy="46" r="2.4" fill="#e2261c"/>
<circle cx="104.1" cy="40.1" r="2.4" fill="#e2261c"/>
<circle cx="125.5" cy="59.1" r="2.4" fill="#e2261c"/>
<circle cx="135.4" cy="47.6" r="2.4" fill="#e2261c"/>
<circle cx="156.4" cy="51.2" r="2.4" fill="#e2261c"/>
<circle cx="167.3" cy="64.8" r="2.4" fill="#e2261c"/>
<circle cx="209.5" cy="47.6" r="2.4" fill="#e2261c"/>
<circle cx="49.2" cy="268.2" r="2.4" fill="#e2261c"/>
<circle cx="87.2" cy="268.2" r="2.4" fill="#e2261c"/>
<circle cx="92.3" cy="268.2" r="2.4" fill="#e2261c"/>
<circle cx="97.7" cy="268.2" r="2.4" fill="#e2261c"/>
<circle cx="103.4" cy="268.2" r="2.4" fill="#e2261c"/>
<circle cx="125.1" cy="268.2" r="2.4" fill="#e2261c"/>
<circle cx="134" cy="270.5" r="2.4" fill="#e2261c"/>
<circle cx="155.8" cy="270.8" r="2.4" fill="#e2261c"/>
<circle cx="166.5" cy="271" r="2.4" fill="#e2261c"/>
<circle cx="208.9" cy="271.4" r="2.4" fill="#e2261c"/>
<circle cx="53.4" cy="486.5" r="2.4" fill="#e2261c"/>
<circle cx="64.8" cy="490.3" r="2.4" fill="#e2261c"/>
<circle cx="75.7" cy="472.6" r="2.4" fill="#e2261c"/>
<circle cx="97" cy="457.7" r="2.4" fill="#e2261c"/>
<circle cx="102.5" cy="450.3" r="2.4" fill="#e2261c"/>
<circle cx="107.6" cy="467.3" r="2.4" fill="#e2261c"/>
<circle cx="129.2" cy="482" r="2.4" fill="#e2261c"/>
<circle cx="138.7" cy="488.5" r="2.4" fill="#e2261c"/>
<circle cx="150" cy="429.3" r="2.4" fill="#e2261c"/>
<circle cx="160.4" cy="440.1" r="2.4" fill="#e2261c"/>
<circle cx="171.2" cy="469.8" r="2.4" fill="#e2261c"/>
<circle cx="214" cy="482" r="2.4" fill="#e2261c"/>
<circle cx="56.1" cy="667.1" r="2.4" fill="#e2261c"/>
<circle cx="67.1" cy="645.3" r="2.4" fill="#e2261c"/>
<circle cx="77.8" cy="663.1" r="2.4" fill="#e2261c"/>
<circle cx="99.6" cy="672.8" r="2.4" fill="#e2261c"/>
<circle cx="105.3" cy="675.8" r="2.4" fill="#e2261c"/>
<circle cx="110.6" cy="674.6" r="2.4" fill="#e2261c"/>
<circle cx="132.2" cy="659.5" r="2.4" fill="#e2261c"/>
<circle cx="142" cy="667.5" r="2.4" fill="#e2261c"/>
<circle cx="152.6" cy="675.5" r="2.4" fill="#e2261c"/>
<circle cx="163.6" cy="677.6" r="2.4" fill="#e2261c"/>
<circle cx="174.3" cy="678.7" r="2.4" fill="#e2261c"/>
<circle cx="216.9" cy="656" r="2.4" fill="#e2261c"/>
<circle cx="49.2" cy="265.2" r="2.4" fill="#f7d800"/>
<circle cx="87.2" cy="264.3" r="2.4" fill="#f7d800"/>
<circle cx="92.3" cy="267.3" r="2.4" fill="#f7d800"/>
<circle cx="97.7" cy="265.3" r="2.4" fill="#f7d800"/>
<circle cx="103.4" cy="267" r="2.4" fill="#f7d800"/>
<circle cx="125.1" cy="265.8" r="2.4" fill="#f7d800"/>
<circle cx="134" cy="267" r="2.4" fill="#f7d800"/>
<circle cx="155.8" cy="267.3" r="2.4" fill="#f7d800"/>
<circle cx="166.5" cy="267.5" r="2.4" fill="#f7d800"/>
<circle cx="208.9" cy="267.5" r="2.4" fill="#f7d800"/>
</svg>
</body></html>
